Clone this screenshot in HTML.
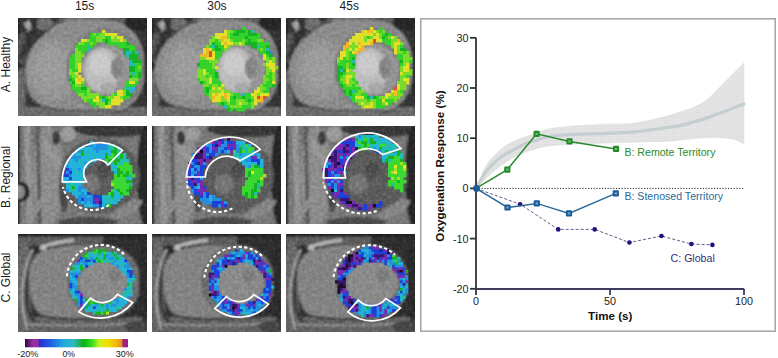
<!DOCTYPE html>
<html><head><meta charset="utf-8"><style>
html,body{margin:0;padding:0;background:#fff;width:778px;height:358px;overflow:hidden;position:relative;font-family:"Liberation Sans", sans-serif;}
</style></head><body>
<svg width="778" height="358" viewBox="0 0 778 358" style="position:absolute;left:0;top:0">
<defs>
<filter id="b3" x="-20%" y="-20%" width="140%" height="140%"><feGaussianBlur stdDeviation="3"/></filter>
<filter id="b15" x="-20%" y="-20%" width="140%" height="140%"><feGaussianBlur stdDeviation="1.5"/></filter>
<filter id="b05" x="-10%" y="-10%" width="120%" height="120%"><feGaussianBlur stdDeviation="0.5"/></filter><filter id="b06"><feGaussianBlur stdDeviation="0.6"/></filter><filter id="b08" x="-10%" y="-10%" width="120%" height="120%"><feGaussianBlur stdDeviation="0.8"/></filter>
<clipPath id="pc"><rect x="0" y="0" width="129" height="98"/></clipPath>
<linearGradient id="cb" x1="0" x2="1" y1="0" y2="0">
<stop offset="0.0000" stop-color="#200a30"/>
<stop offset="0.0300" stop-color="#5a1a70"/>
<stop offset="0.0800" stop-color="#9a30a0"/>
<stop offset="0.1300" stop-color="#9030a0"/>
<stop offset="0.1350" stop-color="#2a2ad0"/>
<stop offset="0.2500" stop-color="#2060e0"/>
<stop offset="0.3700" stop-color="#20a8e0"/>
<stop offset="0.4700" stop-color="#30b8c0"/>
<stop offset="0.5200" stop-color="#20b070"/>
<stop offset="0.5700" stop-color="#10b010"/>
<stop offset="0.6500" stop-color="#30e020"/>
<stop offset="0.7200" stop-color="#c8f020"/>
<stop offset="0.8000" stop-color="#f0e000"/>
<stop offset="0.9000" stop-color="#f0b000"/>
<stop offset="0.9400" stop-color="#e09020"/>
<stop offset="0.9500" stop-color="#a02080"/>
<stop offset="1.0000" stop-color="#a02080"/>
</linearGradient>
<pattern id="stip" width="2" height="2" patternUnits="userSpaceOnUse"><rect width="2" height="2" fill="#e5e5e5"/><rect x="0" y="0" width="1" height="1" fill="#dadada"/></pattern>
<filter id="grain" x="-5%" y="-5%" width="110%" height="110%"><feGaussianBlur in="SourceGraphic" stdDeviation="1.3" result="bl"/><feTurbulence type="fractalNoise" baseFrequency="0.3" numOctaves="2" seed="4" result="n"/><feColorMatrix in="n" type="matrix" values="1 0 0 0 0  1 0 0 0 0  1 0 0 0 0  0 0 0 0 1" result="g"/><feComponentTransfer in="g" result="g2"><feFuncR type="linear" slope="0.4" intercept="0.3"/><feFuncG type="linear" slope="0.4" intercept="0.3"/><feFuncB type="linear" slope="0.4" intercept="0.3"/></feComponentTransfer><feBlend in="g2" in2="bl" mode="soft-light"/></filter>
</defs>
<text x="84.6" y="10" font-family='"Liberation Sans", sans-serif' font-size="12" text-anchor="middle" fill="#1a1a1a">15s</text>
<text x="216.9" y="10" font-family='"Liberation Sans", sans-serif' font-size="12" text-anchor="middle" fill="#1a1a1a">30s</text>
<text x="349.3" y="10" font-family='"Liberation Sans", sans-serif' font-size="12" text-anchor="middle" fill="#1a1a1a">45s</text>
<text transform="translate(10,64.5) rotate(-90)" font-family='"Liberation Sans", sans-serif' font-size="12" text-anchor="middle" fill="#1a1a1a">A. Healthy</text>
<text transform="translate(10,176.9) rotate(-90)" font-family='"Liberation Sans", sans-serif' font-size="12" text-anchor="middle" fill="#1a1a1a">B. Regional</text>
<text transform="translate(10,277.5) rotate(-90)" font-family='"Liberation Sans", sans-serif' font-size="12" text-anchor="middle" fill="#1a1a1a">C. Global</text>
<g transform="translate(18,18)" clip-path="url(#pc)">
<g filter="url(#grain)"><rect x="-5" y="-5" width="140" height="110" fill="#363636"/><rect x="-5" y="-5" width="6" height="110" fill="#1e1e1e"/><ellipse cx="4" cy="30" rx="5" ry="16" fill="#555"/><ellipse cx="3" cy="72" rx="5" ry="22" fill="#686868"/><path d="M8,4 C10,7 12,10 14,14" fill="none" stroke="#a4a4a4" stroke-width="6"/><ellipse cx="26" cy="6" rx="10" ry="6" fill="#6e6e6e"/><path d="M18,3 C14,14 8,26 3,40" fill="none" stroke="#303030" stroke-width="5"/><ellipse cx="70" cy="3" rx="30" ry="5" fill="#6c6c6c"/><ellipse cx="100" cy="6" rx="16" ry="6" fill="#606060"/><rect x="-5" y="89" width="140" height="20" fill="#6a6a6a"/><path d="M7,52 C8,38 14,28 22,20 C30,12 36,5 46,3 C62,1 85,1 102,5 C118,11 127,28 127,50 C127,74 116,92 92,95 C72,97 40,94 24,88 C12,82 7,68 7,52 Z" fill="#8c8c8c"/><ellipse cx="36" cy="52" rx="26" ry="30" fill="#959595"/><ellipse cx="34" cy="50" rx="16" ry="20" fill="#9c9c9c"/><path d="M7,66 C10,80 18,87 30,90 C45,93 70,94 110,93" fill="none" stroke="#4e4e4e" stroke-width="2"/><path d="M22,20 C30,12 36,5 46,3" fill="none" stroke="#505050" stroke-width="2"/><ellipse cx="88" cy="51" rx="40" ry="41" fill="#7e7e7e"/><ellipse cx="88" cy="52" rx="25" ry="26" fill="#959595"/><ellipse cx="84" cy="52" rx="18" ry="22" fill="#bcbcbc"/><ellipse cx="82" cy="46" rx="11" ry="12" fill="#cacaca"/><ellipse cx="99" cy="50" rx="6" ry="11" fill="#858585"/><ellipse cx="90" cy="70" rx="8" ry="5" fill="#a8a8a8"/><ellipse cx="133" cy="50" rx="7" ry="50" fill="#2a2a2a"/><ellipse cx="124" cy="5" rx="18" ry="8" fill="#262626"/></g>
<g filter="url(#b05)"><rect x="84.0" y="12.0" width="3.4" height="3.4" fill="#e0e02a"/><rect x="72.0" y="15.0" width="3.4" height="3.4" fill="#30d22a"/><rect x="75.0" y="15.0" width="3.4" height="3.4" fill="#78dc2a"/><rect x="78.0" y="15.0" width="3.4" height="3.4" fill="#30d22a"/><rect x="81.0" y="15.0" width="3.4" height="3.4" fill="#78dc2a"/><rect x="84.0" y="15.0" width="3.4" height="3.4" fill="#78dc2a"/><rect x="87.0" y="15.0" width="3.4" height="3.4" fill="#e0e02a"/><rect x="90.0" y="15.0" width="3.4" height="3.4" fill="#e0e02a"/><rect x="93.0" y="15.0" width="3.4" height="3.4" fill="#e0e02a"/><rect x="96.0" y="15.0" width="3.4" height="3.4" fill="#e0e02a"/><rect x="72.0" y="18.0" width="3.4" height="3.4" fill="#30d22a"/><rect x="75.0" y="18.0" width="3.4" height="3.4" fill="#30d22a"/><rect x="78.0" y="18.0" width="3.4" height="3.4" fill="#78dc2a"/><rect x="81.0" y="18.0" width="3.4" height="3.4" fill="#78dc2a"/><rect x="84.0" y="18.0" width="3.4" height="3.4" fill="#78dc2a"/><rect x="87.0" y="18.0" width="3.4" height="3.4" fill="#30d22a"/><rect x="90.0" y="18.0" width="3.4" height="3.4" fill="#30d22a"/><rect x="93.0" y="18.0" width="3.4" height="3.4" fill="#e0e02a"/><rect x="96.0" y="18.0" width="3.4" height="3.4" fill="#78dc2a"/><rect x="99.0" y="18.0" width="3.4" height="3.4" fill="#e0e02a"/><rect x="102.0" y="18.0" width="3.4" height="3.4" fill="#e0e02a"/><rect x="63.0" y="21.0" width="3.4" height="3.4" fill="#e0e02a"/><rect x="66.0" y="21.0" width="3.4" height="3.4" fill="#e0e02a"/><rect x="69.0" y="21.0" width="3.4" height="3.4" fill="#78dc2a"/><rect x="72.0" y="21.0" width="3.4" height="3.4" fill="#30d22a"/><rect x="75.0" y="21.0" width="3.4" height="3.4" fill="#30d22a"/><rect x="78.0" y="21.0" width="3.4" height="3.4" fill="#78dc2a"/><rect x="81.0" y="21.0" width="3.4" height="3.4" fill="#78dc2a"/><rect x="84.0" y="21.0" width="3.4" height="3.4" fill="#30d22a"/><rect x="87.0" y="21.0" width="3.4" height="3.4" fill="#18b420"/><rect x="90.0" y="21.0" width="3.4" height="3.4" fill="#30d22a"/><rect x="93.0" y="21.0" width="3.4" height="3.4" fill="#78dc2a"/><rect x="96.0" y="21.0" width="3.4" height="3.4" fill="#78dc2a"/><rect x="99.0" y="21.0" width="3.4" height="3.4" fill="#78dc2a"/><rect x="102.0" y="21.0" width="3.4" height="3.4" fill="#e0e02a"/><rect x="105.0" y="21.0" width="3.4" height="3.4" fill="#78dc2a"/><rect x="60.0" y="24.0" width="3.4" height="3.4" fill="#78dc2a"/><rect x="63.0" y="24.0" width="3.4" height="3.4" fill="#78dc2a"/><rect x="66.0" y="24.0" width="3.4" height="3.4" fill="#30d22a"/><rect x="69.0" y="24.0" width="3.4" height="3.4" fill="#30d22a"/><rect x="72.0" y="24.0" width="3.4" height="3.4" fill="#78dc2a"/><rect x="75.0" y="24.0" width="3.4" height="3.4" fill="#30d22a"/><rect x="90.0" y="24.0" width="3.4" height="3.4" fill="#30d22a"/><rect x="93.0" y="24.0" width="3.4" height="3.4" fill="#30d22a"/><rect x="96.0" y="24.0" width="3.4" height="3.4" fill="#30d22a"/><rect x="99.0" y="24.0" width="3.4" height="3.4" fill="#30d22a"/><rect x="102.0" y="24.0" width="3.4" height="3.4" fill="#30d22a"/><rect x="105.0" y="24.0" width="3.4" height="3.4" fill="#30d22a"/><rect x="108.0" y="24.0" width="3.4" height="3.4" fill="#18b420"/><rect x="57.0" y="27.0" width="3.4" height="3.4" fill="#30d22a"/><rect x="60.0" y="27.0" width="3.4" height="3.4" fill="#30d22a"/><rect x="63.0" y="27.0" width="3.4" height="3.4" fill="#30d22a"/><rect x="66.0" y="27.0" width="3.4" height="3.4" fill="#30d22a"/><rect x="69.0" y="27.0" width="3.4" height="3.4" fill="#22bcb0"/><rect x="72.0" y="27.0" width="3.4" height="3.4" fill="#30d22a"/><rect x="99.0" y="27.0" width="3.4" height="3.4" fill="#30d22a"/><rect x="102.0" y="27.0" width="3.4" height="3.4" fill="#30d22a"/><rect x="105.0" y="27.0" width="3.4" height="3.4" fill="#30d22a"/><rect x="108.0" y="27.0" width="3.4" height="3.4" fill="#30d22a"/><rect x="111.0" y="27.0" width="3.4" height="3.4" fill="#30d22a"/><rect x="114.0" y="27.0" width="3.4" height="3.4" fill="#30d22a"/><rect x="57.0" y="30.0" width="3.4" height="3.4" fill="#78dc2a"/><rect x="60.0" y="30.0" width="3.4" height="3.4" fill="#30d22a"/><rect x="63.0" y="30.0" width="3.4" height="3.4" fill="#30d22a"/><rect x="66.0" y="30.0" width="3.4" height="3.4" fill="#30d22a"/><rect x="69.0" y="30.0" width="3.4" height="3.4" fill="#22bcb0"/><rect x="105.0" y="30.0" width="3.4" height="3.4" fill="#18b420"/><rect x="108.0" y="30.0" width="3.4" height="3.4" fill="#18b420"/><rect x="111.0" y="30.0" width="3.4" height="3.4" fill="#30d22a"/><rect x="114.0" y="30.0" width="3.4" height="3.4" fill="#30d22a"/><rect x="57.0" y="33.0" width="3.4" height="3.4" fill="#78dc2a"/><rect x="60.0" y="33.0" width="3.4" height="3.4" fill="#78dc2a"/><rect x="63.0" y="33.0" width="3.4" height="3.4" fill="#30d22a"/><rect x="105.0" y="33.0" width="3.4" height="3.4" fill="#18b420"/><rect x="108.0" y="33.0" width="3.4" height="3.4" fill="#22b4dc"/><rect x="111.0" y="33.0" width="3.4" height="3.4" fill="#22bcb0"/><rect x="114.0" y="33.0" width="3.4" height="3.4" fill="#18b420"/><rect x="117.0" y="33.0" width="3.4" height="3.4" fill="#22bcb0"/><rect x="54.0" y="36.0" width="3.4" height="3.4" fill="#30d22a"/><rect x="57.0" y="36.0" width="3.4" height="3.4" fill="#78dc2a"/><rect x="60.0" y="36.0" width="3.4" height="3.4" fill="#78dc2a"/><rect x="63.0" y="36.0" width="3.4" height="3.4" fill="#78dc2a"/><rect x="108.0" y="36.0" width="3.4" height="3.4" fill="#22bcb0"/><rect x="111.0" y="36.0" width="3.4" height="3.4" fill="#18b420"/><rect x="114.0" y="36.0" width="3.4" height="3.4" fill="#18b420"/><rect x="117.0" y="36.0" width="3.4" height="3.4" fill="#18b420"/><rect x="51.0" y="39.0" width="3.4" height="3.4" fill="#30d22a"/><rect x="54.0" y="39.0" width="3.4" height="3.4" fill="#30d22a"/><rect x="57.0" y="39.0" width="3.4" height="3.4" fill="#78dc2a"/><rect x="60.0" y="39.0" width="3.4" height="3.4" fill="#78dc2a"/><rect x="111.0" y="39.0" width="3.4" height="3.4" fill="#18b420"/><rect x="114.0" y="39.0" width="3.4" height="3.4" fill="#18b420"/><rect x="117.0" y="39.0" width="3.4" height="3.4" fill="#18b420"/><rect x="51.0" y="42.0" width="3.4" height="3.4" fill="#30d22a"/><rect x="54.0" y="42.0" width="3.4" height="3.4" fill="#30d22a"/><rect x="57.0" y="42.0" width="3.4" height="3.4" fill="#78dc2a"/><rect x="60.0" y="42.0" width="3.4" height="3.4" fill="#78dc2a"/><rect x="111.0" y="42.0" width="3.4" height="3.4" fill="#22b4dc"/><rect x="114.0" y="42.0" width="3.4" height="3.4" fill="#18b420"/><rect x="117.0" y="42.0" width="3.4" height="3.4" fill="#18b420"/><rect x="120.0" y="42.0" width="3.4" height="3.4" fill="#18b420"/><rect x="51.0" y="45.0" width="3.4" height="3.4" fill="#30d22a"/><rect x="54.0" y="45.0" width="3.4" height="3.4" fill="#30d22a"/><rect x="57.0" y="45.0" width="3.4" height="3.4" fill="#78dc2a"/><rect x="60.0" y="45.0" width="3.4" height="3.4" fill="#e0e02a"/><rect x="111.0" y="45.0" width="3.4" height="3.4" fill="#22b4dc"/><rect x="114.0" y="45.0" width="3.4" height="3.4" fill="#22bcb0"/><rect x="117.0" y="45.0" width="3.4" height="3.4" fill="#30d22a"/><rect x="120.0" y="45.0" width="3.4" height="3.4" fill="#30d22a"/><rect x="51.0" y="48.0" width="3.4" height="3.4" fill="#30d22a"/><rect x="54.0" y="48.0" width="3.4" height="3.4" fill="#30d22a"/><rect x="57.0" y="48.0" width="3.4" height="3.4" fill="#78dc2a"/><rect x="60.0" y="48.0" width="3.4" height="3.4" fill="#e0e02a"/><rect x="111.0" y="48.0" width="3.4" height="3.4" fill="#18b420"/><rect x="114.0" y="48.0" width="3.4" height="3.4" fill="#18b420"/><rect x="117.0" y="48.0" width="3.4" height="3.4" fill="#30d22a"/><rect x="120.0" y="48.0" width="3.4" height="3.4" fill="#78dc2a"/><rect x="51.0" y="51.0" width="3.4" height="3.4" fill="#78dc2a"/><rect x="54.0" y="51.0" width="3.4" height="3.4" fill="#30d22a"/><rect x="57.0" y="51.0" width="3.4" height="3.4" fill="#30d22a"/><rect x="60.0" y="51.0" width="3.4" height="3.4" fill="#e0e02a"/><rect x="111.0" y="51.0" width="3.4" height="3.4" fill="#18b420"/><rect x="114.0" y="51.0" width="3.4" height="3.4" fill="#18b420"/><rect x="117.0" y="51.0" width="3.4" height="3.4" fill="#30d22a"/><rect x="120.0" y="51.0" width="3.4" height="3.4" fill="#30d22a"/><rect x="51.0" y="54.0" width="3.4" height="3.4" fill="#78dc2a"/><rect x="54.0" y="54.0" width="3.4" height="3.4" fill="#78dc2a"/><rect x="57.0" y="54.0" width="3.4" height="3.4" fill="#e0e02a"/><rect x="111.0" y="54.0" width="3.4" height="3.4" fill="#30d22a"/><rect x="114.0" y="54.0" width="3.4" height="3.4" fill="#22bcb0"/><rect x="117.0" y="54.0" width="3.4" height="3.4" fill="#30d22a"/><rect x="120.0" y="54.0" width="3.4" height="3.4" fill="#18b420"/><rect x="51.0" y="57.0" width="3.4" height="3.4" fill="#30d22a"/><rect x="54.0" y="57.0" width="3.4" height="3.4" fill="#78dc2a"/><rect x="57.0" y="57.0" width="3.4" height="3.4" fill="#78dc2a"/><rect x="60.0" y="57.0" width="3.4" height="3.4" fill="#e0e02a"/><rect x="111.0" y="57.0" width="3.4" height="3.4" fill="#18b420"/><rect x="114.0" y="57.0" width="3.4" height="3.4" fill="#30d22a"/><rect x="117.0" y="57.0" width="3.4" height="3.4" fill="#30d22a"/><rect x="120.0" y="57.0" width="3.4" height="3.4" fill="#18b420"/><rect x="51.0" y="60.0" width="3.4" height="3.4" fill="#18b420"/><rect x="54.0" y="60.0" width="3.4" height="3.4" fill="#30d22a"/><rect x="57.0" y="60.0" width="3.4" height="3.4" fill="#e0e02a"/><rect x="60.0" y="60.0" width="3.4" height="3.4" fill="#f0b828"/><rect x="63.0" y="60.0" width="3.4" height="3.4" fill="#e0e02a"/><rect x="111.0" y="60.0" width="3.4" height="3.4" fill="#78dc2a"/><rect x="114.0" y="60.0" width="3.4" height="3.4" fill="#78dc2a"/><rect x="117.0" y="60.0" width="3.4" height="3.4" fill="#78dc2a"/><rect x="51.0" y="63.0" width="3.4" height="3.4" fill="#30d22a"/><rect x="54.0" y="63.0" width="3.4" height="3.4" fill="#18b420"/><rect x="57.0" y="63.0" width="3.4" height="3.4" fill="#e0e02a"/><rect x="60.0" y="63.0" width="3.4" height="3.4" fill="#e0e02a"/><rect x="63.0" y="63.0" width="3.4" height="3.4" fill="#78dc2a"/><rect x="108.0" y="63.0" width="3.4" height="3.4" fill="#30d22a"/><rect x="111.0" y="63.0" width="3.4" height="3.4" fill="#e0e02a"/><rect x="114.0" y="63.0" width="3.4" height="3.4" fill="#e0e02a"/><rect x="117.0" y="63.0" width="3.4" height="3.4" fill="#30d22a"/><rect x="54.0" y="66.0" width="3.4" height="3.4" fill="#30d22a"/><rect x="57.0" y="66.0" width="3.4" height="3.4" fill="#78dc2a"/><rect x="60.0" y="66.0" width="3.4" height="3.4" fill="#78dc2a"/><rect x="63.0" y="66.0" width="3.4" height="3.4" fill="#30d22a"/><rect x="108.0" y="66.0" width="3.4" height="3.4" fill="#30d22a"/><rect x="111.0" y="66.0" width="3.4" height="3.4" fill="#30d22a"/><rect x="114.0" y="66.0" width="3.4" height="3.4" fill="#30d22a"/><rect x="54.0" y="69.0" width="3.4" height="3.4" fill="#30d22a"/><rect x="57.0" y="69.0" width="3.4" height="3.4" fill="#30d22a"/><rect x="60.0" y="69.0" width="3.4" height="3.4" fill="#30d22a"/><rect x="63.0" y="69.0" width="3.4" height="3.4" fill="#18b420"/><rect x="66.0" y="69.0" width="3.4" height="3.4" fill="#18b420"/><rect x="69.0" y="69.0" width="3.4" height="3.4" fill="#78dc2a"/><rect x="105.0" y="69.0" width="3.4" height="3.4" fill="#30d22a"/><rect x="108.0" y="69.0" width="3.4" height="3.4" fill="#22bcb0"/><rect x="111.0" y="69.0" width="3.4" height="3.4" fill="#22bcb0"/><rect x="114.0" y="69.0" width="3.4" height="3.4" fill="#22b4dc"/><rect x="57.0" y="72.0" width="3.4" height="3.4" fill="#30d22a"/><rect x="60.0" y="72.0" width="3.4" height="3.4" fill="#30d22a"/><rect x="63.0" y="72.0" width="3.4" height="3.4" fill="#30d22a"/><rect x="66.0" y="72.0" width="3.4" height="3.4" fill="#30d22a"/><rect x="69.0" y="72.0" width="3.4" height="3.4" fill="#78dc2a"/><rect x="99.0" y="72.0" width="3.4" height="3.4" fill="#e0e02a"/><rect x="102.0" y="72.0" width="3.4" height="3.4" fill="#e0e02a"/><rect x="105.0" y="72.0" width="3.4" height="3.4" fill="#78dc2a"/><rect x="108.0" y="72.0" width="3.4" height="3.4" fill="#18b420"/><rect x="111.0" y="72.0" width="3.4" height="3.4" fill="#22b4dc"/><rect x="60.0" y="75.0" width="3.4" height="3.4" fill="#78dc2a"/><rect x="63.0" y="75.0" width="3.4" height="3.4" fill="#78dc2a"/><rect x="66.0" y="75.0" width="3.4" height="3.4" fill="#30d22a"/><rect x="69.0" y="75.0" width="3.4" height="3.4" fill="#78dc2a"/><rect x="72.0" y="75.0" width="3.4" height="3.4" fill="#78dc2a"/><rect x="75.0" y="75.0" width="3.4" height="3.4" fill="#78dc2a"/><rect x="78.0" y="75.0" width="3.4" height="3.4" fill="#78dc2a"/><rect x="93.0" y="75.0" width="3.4" height="3.4" fill="#78dc2a"/><rect x="96.0" y="75.0" width="3.4" height="3.4" fill="#30d22a"/><rect x="99.0" y="75.0" width="3.4" height="3.4" fill="#e0e02a"/><rect x="102.0" y="75.0" width="3.4" height="3.4" fill="#e0e02a"/><rect x="105.0" y="75.0" width="3.4" height="3.4" fill="#78dc2a"/><rect x="108.0" y="75.0" width="3.4" height="3.4" fill="#18b420"/><rect x="111.0" y="75.0" width="3.4" height="3.4" fill="#18b420"/><rect x="63.0" y="78.0" width="3.4" height="3.4" fill="#78dc2a"/><rect x="66.0" y="78.0" width="3.4" height="3.4" fill="#78dc2a"/><rect x="69.0" y="78.0" width="3.4" height="3.4" fill="#78dc2a"/><rect x="72.0" y="78.0" width="3.4" height="3.4" fill="#78dc2a"/><rect x="75.0" y="78.0" width="3.4" height="3.4" fill="#78dc2a"/><rect x="78.0" y="78.0" width="3.4" height="3.4" fill="#e0e02a"/><rect x="81.0" y="78.0" width="3.4" height="3.4" fill="#30d22a"/><rect x="84.0" y="78.0" width="3.4" height="3.4" fill="#18b420"/><rect x="87.0" y="78.0" width="3.4" height="3.4" fill="#30d22a"/><rect x="90.0" y="78.0" width="3.4" height="3.4" fill="#78dc2a"/><rect x="93.0" y="78.0" width="3.4" height="3.4" fill="#78dc2a"/><rect x="96.0" y="78.0" width="3.4" height="3.4" fill="#e0e02a"/><rect x="99.0" y="78.0" width="3.4" height="3.4" fill="#e0e02a"/><rect x="102.0" y="78.0" width="3.4" height="3.4" fill="#78dc2a"/><rect x="105.0" y="78.0" width="3.4" height="3.4" fill="#30d22a"/><rect x="108.0" y="78.0" width="3.4" height="3.4" fill="#30d22a"/><rect x="66.0" y="81.0" width="3.4" height="3.4" fill="#78dc2a"/><rect x="69.0" y="81.0" width="3.4" height="3.4" fill="#30d22a"/><rect x="72.0" y="81.0" width="3.4" height="3.4" fill="#30d22a"/><rect x="75.0" y="81.0" width="3.4" height="3.4" fill="#e0e02a"/><rect x="78.0" y="81.0" width="3.4" height="3.4" fill="#e0e02a"/><rect x="81.0" y="81.0" width="3.4" height="3.4" fill="#78dc2a"/><rect x="84.0" y="81.0" width="3.4" height="3.4" fill="#22bcb0"/><rect x="87.0" y="81.0" width="3.4" height="3.4" fill="#18b420"/><rect x="90.0" y="81.0" width="3.4" height="3.4" fill="#30d22a"/><rect x="93.0" y="81.0" width="3.4" height="3.4" fill="#e0e02a"/><rect x="96.0" y="81.0" width="3.4" height="3.4" fill="#e0e02a"/><rect x="99.0" y="81.0" width="3.4" height="3.4" fill="#e0e02a"/><rect x="102.0" y="81.0" width="3.4" height="3.4" fill="#e0e02a"/><rect x="72.0" y="84.0" width="3.4" height="3.4" fill="#30d22a"/><rect x="75.0" y="84.0" width="3.4" height="3.4" fill="#30d22a"/><rect x="78.0" y="84.0" width="3.4" height="3.4" fill="#78dc2a"/><rect x="81.0" y="84.0" width="3.4" height="3.4" fill="#78dc2a"/><rect x="84.0" y="84.0" width="3.4" height="3.4" fill="#78dc2a"/><rect x="87.0" y="84.0" width="3.4" height="3.4" fill="#18b420"/><rect x="90.0" y="84.0" width="3.4" height="3.4" fill="#78dc2a"/><rect x="93.0" y="84.0" width="3.4" height="3.4" fill="#e0e02a"/><rect x="96.0" y="84.0" width="3.4" height="3.4" fill="#e0e02a"/><rect x="99.0" y="84.0" width="3.4" height="3.4" fill="#e0e02a"/><rect x="75.0" y="87.0" width="3.4" height="3.4" fill="#30d22a"/><rect x="81.0" y="87.0" width="3.4" height="3.4" fill="#78dc2a"/><rect x="84.0" y="87.0" width="3.4" height="3.4" fill="#78dc2a"/><rect x="87.0" y="87.0" width="3.4" height="3.4" fill="#e0e02a"/><rect x="90.0" y="87.0" width="3.4" height="3.4" fill="#e0e02a"/></g>
</g>
<g transform="translate(152,18)" clip-path="url(#pc)">
<g filter="url(#grain)"><rect x="-5" y="-5" width="140" height="110" fill="#363636"/><rect x="-5" y="-5" width="6" height="110" fill="#1e1e1e"/><ellipse cx="4" cy="30" rx="5" ry="16" fill="#555"/><ellipse cx="3" cy="72" rx="5" ry="22" fill="#686868"/><path d="M8,4 C10,7 12,10 14,14" fill="none" stroke="#a4a4a4" stroke-width="6"/><ellipse cx="26" cy="6" rx="10" ry="6" fill="#6e6e6e"/><path d="M18,3 C14,14 8,26 3,40" fill="none" stroke="#303030" stroke-width="5"/><ellipse cx="70" cy="3" rx="30" ry="5" fill="#6c6c6c"/><ellipse cx="100" cy="6" rx="16" ry="6" fill="#606060"/><rect x="-5" y="89" width="140" height="20" fill="#6a6a6a"/><path d="M3,52 C4,38 10,28 18,20 C26,12 36,5 46,3 C62,1 85,1 102,5 C118,11 127,28 127,50 C127,74 116,92 92,95 C72,97 40,94 20,88 C8,82 3,68 3,52 Z" fill="#8c8c8c"/><ellipse cx="36" cy="52" rx="26" ry="30" fill="#959595"/><ellipse cx="34" cy="50" rx="16" ry="20" fill="#9c9c9c"/><path d="M3,66 C6,80 14,87 30,90 C45,93 70,94 110,93" fill="none" stroke="#4e4e4e" stroke-width="2"/><path d="M18,20 C26,12 36,5 46,3" fill="none" stroke="#505050" stroke-width="2"/><ellipse cx="88" cy="51" rx="40" ry="41" fill="#7e7e7e"/><ellipse cx="88" cy="52" rx="25" ry="26" fill="#959595"/><ellipse cx="84" cy="52" rx="18" ry="22" fill="#bcbcbc"/><ellipse cx="82" cy="46" rx="11" ry="12" fill="#cacaca"/><ellipse cx="99" cy="50" rx="6" ry="11" fill="#858585"/><ellipse cx="90" cy="70" rx="8" ry="5" fill="#a8a8a8"/><ellipse cx="133" cy="50" rx="7" ry="50" fill="#2a2a2a"/><ellipse cx="124" cy="5" rx="18" ry="8" fill="#262626"/></g>
<g filter="url(#b05)"><rect x="90.0" y="9.0" width="3.4" height="3.4" fill="#30d22a"/><rect x="72.0" y="12.0" width="3.4" height="3.4" fill="#e0e02a"/><rect x="75.0" y="12.0" width="3.4" height="3.4" fill="#78dc2a"/><rect x="78.0" y="12.0" width="3.4" height="3.4" fill="#78dc2a"/><rect x="81.0" y="12.0" width="3.4" height="3.4" fill="#30d22a"/><rect x="84.0" y="12.0" width="3.4" height="3.4" fill="#18b420"/><rect x="87.0" y="12.0" width="3.4" height="3.4" fill="#18b420"/><rect x="90.0" y="12.0" width="3.4" height="3.4" fill="#18b420"/><rect x="93.0" y="12.0" width="3.4" height="3.4" fill="#30d22a"/><rect x="96.0" y="12.0" width="3.4" height="3.4" fill="#18b420"/><rect x="99.0" y="12.0" width="3.4" height="3.4" fill="#22bcb0"/><rect x="63.0" y="15.0" width="3.4" height="3.4" fill="#e0e02a"/><rect x="66.0" y="15.0" width="3.4" height="3.4" fill="#e0e02a"/><rect x="69.0" y="15.0" width="3.4" height="3.4" fill="#e0e02a"/><rect x="72.0" y="15.0" width="3.4" height="3.4" fill="#e0e02a"/><rect x="75.0" y="15.0" width="3.4" height="3.4" fill="#78dc2a"/><rect x="78.0" y="15.0" width="3.4" height="3.4" fill="#30d22a"/><rect x="81.0" y="15.0" width="3.4" height="3.4" fill="#18b420"/><rect x="84.0" y="15.0" width="3.4" height="3.4" fill="#18b420"/><rect x="87.0" y="15.0" width="3.4" height="3.4" fill="#30d22a"/><rect x="90.0" y="15.0" width="3.4" height="3.4" fill="#30d22a"/><rect x="93.0" y="15.0" width="3.4" height="3.4" fill="#30d22a"/><rect x="96.0" y="15.0" width="3.4" height="3.4" fill="#18b420"/><rect x="99.0" y="15.0" width="3.4" height="3.4" fill="#18b420"/><rect x="102.0" y="15.0" width="3.4" height="3.4" fill="#18b420"/><rect x="105.0" y="15.0" width="3.4" height="3.4" fill="#30d22a"/><rect x="60.0" y="18.0" width="3.4" height="3.4" fill="#78dc2a"/><rect x="63.0" y="18.0" width="3.4" height="3.4" fill="#e0e02a"/><rect x="66.0" y="18.0" width="3.4" height="3.4" fill="#e0e02a"/><rect x="69.0" y="18.0" width="3.4" height="3.4" fill="#f0b828"/><rect x="72.0" y="18.0" width="3.4" height="3.4" fill="#f0b828"/><rect x="75.0" y="18.0" width="3.4" height="3.4" fill="#78dc2a"/><rect x="78.0" y="18.0" width="3.4" height="3.4" fill="#30d22a"/><rect x="81.0" y="18.0" width="3.4" height="3.4" fill="#30d22a"/><rect x="84.0" y="18.0" width="3.4" height="3.4" fill="#30d22a"/><rect x="87.0" y="18.0" width="3.4" height="3.4" fill="#30d22a"/><rect x="90.0" y="18.0" width="3.4" height="3.4" fill="#30d22a"/><rect x="93.0" y="18.0" width="3.4" height="3.4" fill="#18b420"/><rect x="96.0" y="18.0" width="3.4" height="3.4" fill="#30d22a"/><rect x="99.0" y="18.0" width="3.4" height="3.4" fill="#30d22a"/><rect x="102.0" y="18.0" width="3.4" height="3.4" fill="#30d22a"/><rect x="105.0" y="18.0" width="3.4" height="3.4" fill="#30d22a"/><rect x="57.0" y="21.0" width="3.4" height="3.4" fill="#78dc2a"/><rect x="60.0" y="21.0" width="3.4" height="3.4" fill="#78dc2a"/><rect x="63.0" y="21.0" width="3.4" height="3.4" fill="#30d22a"/><rect x="66.0" y="21.0" width="3.4" height="3.4" fill="#78dc2a"/><rect x="69.0" y="21.0" width="3.4" height="3.4" fill="#f0b828"/><rect x="72.0" y="21.0" width="3.4" height="3.4" fill="#e0e02a"/><rect x="75.0" y="21.0" width="3.4" height="3.4" fill="#e0e02a"/><rect x="78.0" y="21.0" width="3.4" height="3.4" fill="#78dc2a"/><rect x="81.0" y="21.0" width="3.4" height="3.4" fill="#30d22a"/><rect x="84.0" y="21.0" width="3.4" height="3.4" fill="#30d22a"/><rect x="87.0" y="21.0" width="3.4" height="3.4" fill="#30d22a"/><rect x="90.0" y="21.0" width="3.4" height="3.4" fill="#78dc2a"/><rect x="93.0" y="21.0" width="3.4" height="3.4" fill="#30d22a"/><rect x="96.0" y="21.0" width="3.4" height="3.4" fill="#18b420"/><rect x="99.0" y="21.0" width="3.4" height="3.4" fill="#30d22a"/><rect x="102.0" y="21.0" width="3.4" height="3.4" fill="#30d22a"/><rect x="105.0" y="21.0" width="3.4" height="3.4" fill="#78dc2a"/><rect x="108.0" y="21.0" width="3.4" height="3.4" fill="#78dc2a"/><rect x="57.0" y="24.0" width="3.4" height="3.4" fill="#78dc2a"/><rect x="60.0" y="24.0" width="3.4" height="3.4" fill="#18b420"/><rect x="63.0" y="24.0" width="3.4" height="3.4" fill="#30d22a"/><rect x="66.0" y="24.0" width="3.4" height="3.4" fill="#30d22a"/><rect x="69.0" y="24.0" width="3.4" height="3.4" fill="#e0e02a"/><rect x="72.0" y="24.0" width="3.4" height="3.4" fill="#f0b828"/><rect x="75.0" y="24.0" width="3.4" height="3.4" fill="#e0e02a"/><rect x="78.0" y="24.0" width="3.4" height="3.4" fill="#e0e02a"/><rect x="81.0" y="24.0" width="3.4" height="3.4" fill="#78dc2a"/><rect x="84.0" y="24.0" width="3.4" height="3.4" fill="#78dc2a"/><rect x="87.0" y="24.0" width="3.4" height="3.4" fill="#e0e02a"/><rect x="90.0" y="24.0" width="3.4" height="3.4" fill="#78dc2a"/><rect x="93.0" y="24.0" width="3.4" height="3.4" fill="#18b420"/><rect x="96.0" y="24.0" width="3.4" height="3.4" fill="#18b420"/><rect x="99.0" y="24.0" width="3.4" height="3.4" fill="#18b420"/><rect x="102.0" y="24.0" width="3.4" height="3.4" fill="#18b420"/><rect x="105.0" y="24.0" width="3.4" height="3.4" fill="#30d22a"/><rect x="108.0" y="24.0" width="3.4" height="3.4" fill="#30d22a"/><rect x="111.0" y="24.0" width="3.4" height="3.4" fill="#30d22a"/><rect x="114.0" y="24.0" width="3.4" height="3.4" fill="#30d22a"/><rect x="54.0" y="27.0" width="3.4" height="3.4" fill="#78dc2a"/><rect x="57.0" y="27.0" width="3.4" height="3.4" fill="#30d22a"/><rect x="60.0" y="27.0" width="3.4" height="3.4" fill="#22bcb0"/><rect x="63.0" y="27.0" width="3.4" height="3.4" fill="#18b420"/><rect x="66.0" y="27.0" width="3.4" height="3.4" fill="#30d22a"/><rect x="69.0" y="27.0" width="3.4" height="3.4" fill="#30d22a"/><rect x="72.0" y="27.0" width="3.4" height="3.4" fill="#e0e02a"/><rect x="75.0" y="27.0" width="3.4" height="3.4" fill="#78dc2a"/><rect x="99.0" y="27.0" width="3.4" height="3.4" fill="#18b420"/><rect x="102.0" y="27.0" width="3.4" height="3.4" fill="#18b420"/><rect x="105.0" y="27.0" width="3.4" height="3.4" fill="#22bcb0"/><rect x="108.0" y="27.0" width="3.4" height="3.4" fill="#30d22a"/><rect x="111.0" y="27.0" width="3.4" height="3.4" fill="#30d22a"/><rect x="114.0" y="27.0" width="3.4" height="3.4" fill="#18b420"/><rect x="51.0" y="30.0" width="3.4" height="3.4" fill="#e0e02a"/><rect x="54.0" y="30.0" width="3.4" height="3.4" fill="#f0b828"/><rect x="57.0" y="30.0" width="3.4" height="3.4" fill="#e0e02a"/><rect x="60.0" y="30.0" width="3.4" height="3.4" fill="#30d22a"/><rect x="63.0" y="30.0" width="3.4" height="3.4" fill="#18b420"/><rect x="66.0" y="30.0" width="3.4" height="3.4" fill="#18b420"/><rect x="69.0" y="30.0" width="3.4" height="3.4" fill="#30d22a"/><rect x="72.0" y="30.0" width="3.4" height="3.4" fill="#78dc2a"/><rect x="105.0" y="30.0" width="3.4" height="3.4" fill="#30d22a"/><rect x="108.0" y="30.0" width="3.4" height="3.4" fill="#78dc2a"/><rect x="111.0" y="30.0" width="3.4" height="3.4" fill="#30d22a"/><rect x="114.0" y="30.0" width="3.4" height="3.4" fill="#22bcb0"/><rect x="51.0" y="33.0" width="3.4" height="3.4" fill="#e0e02a"/><rect x="54.0" y="33.0" width="3.4" height="3.4" fill="#f0b828"/><rect x="57.0" y="33.0" width="3.4" height="3.4" fill="#e05030"/><rect x="60.0" y="33.0" width="3.4" height="3.4" fill="#e0e02a"/><rect x="63.0" y="33.0" width="3.4" height="3.4" fill="#30d22a"/><rect x="66.0" y="33.0" width="3.4" height="3.4" fill="#30d22a"/><rect x="108.0" y="33.0" width="3.4" height="3.4" fill="#30d22a"/><rect x="111.0" y="33.0" width="3.4" height="3.4" fill="#30d22a"/><rect x="114.0" y="33.0" width="3.4" height="3.4" fill="#18b420"/><rect x="117.0" y="33.0" width="3.4" height="3.4" fill="#2290e0"/><rect x="48.0" y="36.0" width="3.4" height="3.4" fill="#f0b828"/><rect x="51.0" y="36.0" width="3.4" height="3.4" fill="#f0b828"/><rect x="54.0" y="36.0" width="3.4" height="3.4" fill="#f0b828"/><rect x="57.0" y="36.0" width="3.4" height="3.4" fill="#e05030"/><rect x="60.0" y="36.0" width="3.4" height="3.4" fill="#e0e02a"/><rect x="63.0" y="36.0" width="3.4" height="3.4" fill="#30d22a"/><rect x="66.0" y="36.0" width="3.4" height="3.4" fill="#30d22a"/><rect x="111.0" y="36.0" width="3.4" height="3.4" fill="#e0e02a"/><rect x="114.0" y="36.0" width="3.4" height="3.4" fill="#30d22a"/><rect x="117.0" y="36.0" width="3.4" height="3.4" fill="#18b420"/><rect x="48.0" y="39.0" width="3.4" height="3.4" fill="#78dc2a"/><rect x="51.0" y="39.0" width="3.4" height="3.4" fill="#78dc2a"/><rect x="54.0" y="39.0" width="3.4" height="3.4" fill="#e0e02a"/><rect x="57.0" y="39.0" width="3.4" height="3.4" fill="#e0e02a"/><rect x="60.0" y="39.0" width="3.4" height="3.4" fill="#e0e02a"/><rect x="63.0" y="39.0" width="3.4" height="3.4" fill="#30d22a"/><rect x="111.0" y="39.0" width="3.4" height="3.4" fill="#e0e02a"/><rect x="114.0" y="39.0" width="3.4" height="3.4" fill="#78dc2a"/><rect x="117.0" y="39.0" width="3.4" height="3.4" fill="#30d22a"/><rect x="120.0" y="39.0" width="3.4" height="3.4" fill="#78dc2a"/><rect x="48.0" y="42.0" width="3.4" height="3.4" fill="#30d22a"/><rect x="51.0" y="42.0" width="3.4" height="3.4" fill="#30d22a"/><rect x="54.0" y="42.0" width="3.4" height="3.4" fill="#30d22a"/><rect x="57.0" y="42.0" width="3.4" height="3.4" fill="#78dc2a"/><rect x="60.0" y="42.0" width="3.4" height="3.4" fill="#78dc2a"/><rect x="63.0" y="42.0" width="3.4" height="3.4" fill="#78dc2a"/><rect x="114.0" y="42.0" width="3.4" height="3.4" fill="#78dc2a"/><rect x="117.0" y="42.0" width="3.4" height="3.4" fill="#e0e02a"/><rect x="120.0" y="42.0" width="3.4" height="3.4" fill="#78dc2a"/><rect x="45.0" y="45.0" width="3.4" height="3.4" fill="#18b420"/><rect x="48.0" y="45.0" width="3.4" height="3.4" fill="#30d22a"/><rect x="51.0" y="45.0" width="3.4" height="3.4" fill="#30d22a"/><rect x="54.0" y="45.0" width="3.4" height="3.4" fill="#30d22a"/><rect x="57.0" y="45.0" width="3.4" height="3.4" fill="#30d22a"/><rect x="60.0" y="45.0" width="3.4" height="3.4" fill="#78dc2a"/><rect x="111.0" y="45.0" width="3.4" height="3.4" fill="#78dc2a"/><rect x="114.0" y="45.0" width="3.4" height="3.4" fill="#e0e02a"/><rect x="117.0" y="45.0" width="3.4" height="3.4" fill="#e0e02a"/><rect x="120.0" y="45.0" width="3.4" height="3.4" fill="#e0e02a"/><rect x="48.0" y="48.0" width="3.4" height="3.4" fill="#30d22a"/><rect x="51.0" y="48.0" width="3.4" height="3.4" fill="#30d22a"/><rect x="54.0" y="48.0" width="3.4" height="3.4" fill="#30d22a"/><rect x="57.0" y="48.0" width="3.4" height="3.4" fill="#30d22a"/><rect x="60.0" y="48.0" width="3.4" height="3.4" fill="#78dc2a"/><rect x="63.0" y="48.0" width="3.4" height="3.4" fill="#e0e02a"/><rect x="114.0" y="48.0" width="3.4" height="3.4" fill="#78dc2a"/><rect x="117.0" y="48.0" width="3.4" height="3.4" fill="#e0e02a"/><rect x="120.0" y="48.0" width="3.4" height="3.4" fill="#e0e02a"/><rect x="123.0" y="48.0" width="3.4" height="3.4" fill="#78dc2a"/><rect x="45.0" y="51.0" width="3.4" height="3.4" fill="#78dc2a"/><rect x="48.0" y="51.0" width="3.4" height="3.4" fill="#78dc2a"/><rect x="51.0" y="51.0" width="3.4" height="3.4" fill="#e0e02a"/><rect x="54.0" y="51.0" width="3.4" height="3.4" fill="#30d22a"/><rect x="57.0" y="51.0" width="3.4" height="3.4" fill="#30d22a"/><rect x="60.0" y="51.0" width="3.4" height="3.4" fill="#30d22a"/><rect x="114.0" y="51.0" width="3.4" height="3.4" fill="#78dc2a"/><rect x="117.0" y="51.0" width="3.4" height="3.4" fill="#78dc2a"/><rect x="120.0" y="51.0" width="3.4" height="3.4" fill="#e0e02a"/><rect x="45.0" y="54.0" width="3.4" height="3.4" fill="#78dc2a"/><rect x="48.0" y="54.0" width="3.4" height="3.4" fill="#78dc2a"/><rect x="51.0" y="54.0" width="3.4" height="3.4" fill="#e0e02a"/><rect x="54.0" y="54.0" width="3.4" height="3.4" fill="#78dc2a"/><rect x="57.0" y="54.0" width="3.4" height="3.4" fill="#30d22a"/><rect x="60.0" y="54.0" width="3.4" height="3.4" fill="#30d22a"/><rect x="63.0" y="54.0" width="3.4" height="3.4" fill="#18b420"/><rect x="114.0" y="54.0" width="3.4" height="3.4" fill="#78dc2a"/><rect x="117.0" y="54.0" width="3.4" height="3.4" fill="#30d22a"/><rect x="120.0" y="54.0" width="3.4" height="3.4" fill="#78dc2a"/><rect x="45.0" y="57.0" width="3.4" height="3.4" fill="#78dc2a"/><rect x="48.0" y="57.0" width="3.4" height="3.4" fill="#78dc2a"/><rect x="51.0" y="57.0" width="3.4" height="3.4" fill="#78dc2a"/><rect x="54.0" y="57.0" width="3.4" height="3.4" fill="#30d22a"/><rect x="57.0" y="57.0" width="3.4" height="3.4" fill="#78dc2a"/><rect x="60.0" y="57.0" width="3.4" height="3.4" fill="#30d22a"/><rect x="63.0" y="57.0" width="3.4" height="3.4" fill="#18b420"/><rect x="111.0" y="57.0" width="3.4" height="3.4" fill="#78dc2a"/><rect x="114.0" y="57.0" width="3.4" height="3.4" fill="#30d22a"/><rect x="117.0" y="57.0" width="3.4" height="3.4" fill="#30d22a"/><rect x="120.0" y="57.0" width="3.4" height="3.4" fill="#78dc2a"/><rect x="45.0" y="60.0" width="3.4" height="3.4" fill="#30d22a"/><rect x="48.0" y="60.0" width="3.4" height="3.4" fill="#78dc2a"/><rect x="51.0" y="60.0" width="3.4" height="3.4" fill="#78dc2a"/><rect x="54.0" y="60.0" width="3.4" height="3.4" fill="#78dc2a"/><rect x="57.0" y="60.0" width="3.4" height="3.4" fill="#e0e02a"/><rect x="60.0" y="60.0" width="3.4" height="3.4" fill="#30d22a"/><rect x="63.0" y="60.0" width="3.4" height="3.4" fill="#30d22a"/><rect x="111.0" y="60.0" width="3.4" height="3.4" fill="#78dc2a"/><rect x="114.0" y="60.0" width="3.4" height="3.4" fill="#78dc2a"/><rect x="117.0" y="60.0" width="3.4" height="3.4" fill="#30d22a"/><rect x="120.0" y="60.0" width="3.4" height="3.4" fill="#78dc2a"/><rect x="48.0" y="63.0" width="3.4" height="3.4" fill="#18b420"/><rect x="51.0" y="63.0" width="3.4" height="3.4" fill="#30d22a"/><rect x="54.0" y="63.0" width="3.4" height="3.4" fill="#78dc2a"/><rect x="57.0" y="63.0" width="3.4" height="3.4" fill="#e0e02a"/><rect x="60.0" y="63.0" width="3.4" height="3.4" fill="#30d22a"/><rect x="63.0" y="63.0" width="3.4" height="3.4" fill="#30d22a"/><rect x="66.0" y="63.0" width="3.4" height="3.4" fill="#30d22a"/><rect x="111.0" y="63.0" width="3.4" height="3.4" fill="#78dc2a"/><rect x="114.0" y="63.0" width="3.4" height="3.4" fill="#30d22a"/><rect x="117.0" y="63.0" width="3.4" height="3.4" fill="#30d22a"/><rect x="120.0" y="63.0" width="3.4" height="3.4" fill="#e0e02a"/><rect x="51.0" y="66.0" width="3.4" height="3.4" fill="#78dc2a"/><rect x="54.0" y="66.0" width="3.4" height="3.4" fill="#78dc2a"/><rect x="57.0" y="66.0" width="3.4" height="3.4" fill="#30d22a"/><rect x="60.0" y="66.0" width="3.4" height="3.4" fill="#78dc2a"/><rect x="63.0" y="66.0" width="3.4" height="3.4" fill="#78dc2a"/><rect x="66.0" y="66.0" width="3.4" height="3.4" fill="#30d22a"/><rect x="69.0" y="66.0" width="3.4" height="3.4" fill="#e0e02a"/><rect x="108.0" y="66.0" width="3.4" height="3.4" fill="#78dc2a"/><rect x="111.0" y="66.0" width="3.4" height="3.4" fill="#30d22a"/><rect x="114.0" y="66.0" width="3.4" height="3.4" fill="#30d22a"/><rect x="117.0" y="66.0" width="3.4" height="3.4" fill="#30d22a"/><rect x="120.0" y="66.0" width="3.4" height="3.4" fill="#18b420"/><rect x="51.0" y="69.0" width="3.4" height="3.4" fill="#30d22a"/><rect x="54.0" y="69.0" width="3.4" height="3.4" fill="#18b420"/><rect x="57.0" y="69.0" width="3.4" height="3.4" fill="#30d22a"/><rect x="60.0" y="69.0" width="3.4" height="3.4" fill="#e0e02a"/><rect x="63.0" y="69.0" width="3.4" height="3.4" fill="#78dc2a"/><rect x="66.0" y="69.0" width="3.4" height="3.4" fill="#e0e02a"/><rect x="69.0" y="69.0" width="3.4" height="3.4" fill="#78dc2a"/><rect x="105.0" y="69.0" width="3.4" height="3.4" fill="#e0e02a"/><rect x="108.0" y="69.0" width="3.4" height="3.4" fill="#78dc2a"/><rect x="111.0" y="69.0" width="3.4" height="3.4" fill="#78dc2a"/><rect x="114.0" y="69.0" width="3.4" height="3.4" fill="#30d22a"/><rect x="51.0" y="72.0" width="3.4" height="3.4" fill="#30d22a"/><rect x="54.0" y="72.0" width="3.4" height="3.4" fill="#18b420"/><rect x="57.0" y="72.0" width="3.4" height="3.4" fill="#78dc2a"/><rect x="60.0" y="72.0" width="3.4" height="3.4" fill="#78dc2a"/><rect x="63.0" y="72.0" width="3.4" height="3.4" fill="#78dc2a"/><rect x="66.0" y="72.0" width="3.4" height="3.4" fill="#78dc2a"/><rect x="69.0" y="72.0" width="3.4" height="3.4" fill="#e0e02a"/><rect x="72.0" y="72.0" width="3.4" height="3.4" fill="#78dc2a"/><rect x="75.0" y="72.0" width="3.4" height="3.4" fill="#78dc2a"/><rect x="102.0" y="72.0" width="3.4" height="3.4" fill="#e0e02a"/><rect x="105.0" y="72.0" width="3.4" height="3.4" fill="#e0e02a"/><rect x="108.0" y="72.0" width="3.4" height="3.4" fill="#78dc2a"/><rect x="111.0" y="72.0" width="3.4" height="3.4" fill="#30d22a"/><rect x="114.0" y="72.0" width="3.4" height="3.4" fill="#30d22a"/><rect x="54.0" y="75.0" width="3.4" height="3.4" fill="#30d22a"/><rect x="57.0" y="75.0" width="3.4" height="3.4" fill="#78dc2a"/><rect x="60.0" y="75.0" width="3.4" height="3.4" fill="#e0e02a"/><rect x="63.0" y="75.0" width="3.4" height="3.4" fill="#f0b828"/><rect x="66.0" y="75.0" width="3.4" height="3.4" fill="#e0e02a"/><rect x="69.0" y="75.0" width="3.4" height="3.4" fill="#e0e02a"/><rect x="72.0" y="75.0" width="3.4" height="3.4" fill="#f0b828"/><rect x="75.0" y="75.0" width="3.4" height="3.4" fill="#e0e02a"/><rect x="78.0" y="75.0" width="3.4" height="3.4" fill="#78dc2a"/><rect x="81.0" y="75.0" width="3.4" height="3.4" fill="#30d22a"/><rect x="84.0" y="75.0" width="3.4" height="3.4" fill="#30d22a"/><rect x="90.0" y="75.0" width="3.4" height="3.4" fill="#22bcb0"/><rect x="93.0" y="75.0" width="3.4" height="3.4" fill="#30d22a"/><rect x="96.0" y="75.0" width="3.4" height="3.4" fill="#30d22a"/><rect x="99.0" y="75.0" width="3.4" height="3.4" fill="#e0e02a"/><rect x="102.0" y="75.0" width="3.4" height="3.4" fill="#e0e02a"/><rect x="105.0" y="75.0" width="3.4" height="3.4" fill="#78dc2a"/><rect x="108.0" y="75.0" width="3.4" height="3.4" fill="#e0e02a"/><rect x="111.0" y="75.0" width="3.4" height="3.4" fill="#e0e02a"/><rect x="114.0" y="75.0" width="3.4" height="3.4" fill="#e0e02a"/><rect x="57.0" y="78.0" width="3.4" height="3.4" fill="#78dc2a"/><rect x="60.0" y="78.0" width="3.4" height="3.4" fill="#f0b828"/><rect x="63.0" y="78.0" width="3.4" height="3.4" fill="#e0e02a"/><rect x="66.0" y="78.0" width="3.4" height="3.4" fill="#e0e02a"/><rect x="69.0" y="78.0" width="3.4" height="3.4" fill="#78dc2a"/><rect x="72.0" y="78.0" width="3.4" height="3.4" fill="#f0b828"/><rect x="75.0" y="78.0" width="3.4" height="3.4" fill="#e0e02a"/><rect x="78.0" y="78.0" width="3.4" height="3.4" fill="#30d22a"/><rect x="81.0" y="78.0" width="3.4" height="3.4" fill="#18b420"/><rect x="84.0" y="78.0" width="3.4" height="3.4" fill="#30d22a"/><rect x="87.0" y="78.0" width="3.4" height="3.4" fill="#30d22a"/><rect x="90.0" y="78.0" width="3.4" height="3.4" fill="#18b420"/><rect x="93.0" y="78.0" width="3.4" height="3.4" fill="#30d22a"/><rect x="96.0" y="78.0" width="3.4" height="3.4" fill="#30d22a"/><rect x="99.0" y="78.0" width="3.4" height="3.4" fill="#78dc2a"/><rect x="102.0" y="78.0" width="3.4" height="3.4" fill="#e0e02a"/><rect x="105.0" y="78.0" width="3.4" height="3.4" fill="#e05030"/><rect x="108.0" y="78.0" width="3.4" height="3.4" fill="#f0b828"/><rect x="111.0" y="78.0" width="3.4" height="3.4" fill="#e05030"/><rect x="60.0" y="81.0" width="3.4" height="3.4" fill="#e0e02a"/><rect x="63.0" y="81.0" width="3.4" height="3.4" fill="#e0e02a"/><rect x="66.0" y="81.0" width="3.4" height="3.4" fill="#e0e02a"/><rect x="69.0" y="81.0" width="3.4" height="3.4" fill="#78dc2a"/><rect x="72.0" y="81.0" width="3.4" height="3.4" fill="#78dc2a"/><rect x="75.0" y="81.0" width="3.4" height="3.4" fill="#e0e02a"/><rect x="78.0" y="81.0" width="3.4" height="3.4" fill="#30d22a"/><rect x="81.0" y="81.0" width="3.4" height="3.4" fill="#30d22a"/><rect x="84.0" y="81.0" width="3.4" height="3.4" fill="#78dc2a"/><rect x="87.0" y="81.0" width="3.4" height="3.4" fill="#78dc2a"/><rect x="90.0" y="81.0" width="3.4" height="3.4" fill="#78dc2a"/><rect x="93.0" y="81.0" width="3.4" height="3.4" fill="#30d22a"/><rect x="96.0" y="81.0" width="3.4" height="3.4" fill="#18b420"/><rect x="99.0" y="81.0" width="3.4" height="3.4" fill="#30d22a"/><rect x="102.0" y="81.0" width="3.4" height="3.4" fill="#e0e02a"/><rect x="105.0" y="81.0" width="3.4" height="3.4" fill="#f0b828"/><rect x="108.0" y="81.0" width="3.4" height="3.4" fill="#f0b828"/><rect x="66.0" y="84.0" width="3.4" height="3.4" fill="#30d22a"/><rect x="69.0" y="84.0" width="3.4" height="3.4" fill="#18b420"/><rect x="72.0" y="84.0" width="3.4" height="3.4" fill="#30d22a"/><rect x="75.0" y="84.0" width="3.4" height="3.4" fill="#78dc2a"/><rect x="78.0" y="84.0" width="3.4" height="3.4" fill="#30d22a"/><rect x="81.0" y="84.0" width="3.4" height="3.4" fill="#30d22a"/><rect x="84.0" y="84.0" width="3.4" height="3.4" fill="#78dc2a"/><rect x="87.0" y="84.0" width="3.4" height="3.4" fill="#e0e02a"/><rect x="90.0" y="84.0" width="3.4" height="3.4" fill="#78dc2a"/><rect x="93.0" y="84.0" width="3.4" height="3.4" fill="#78dc2a"/><rect x="96.0" y="84.0" width="3.4" height="3.4" fill="#30d22a"/><rect x="99.0" y="84.0" width="3.4" height="3.4" fill="#78dc2a"/><rect x="102.0" y="84.0" width="3.4" height="3.4" fill="#e0e02a"/><rect x="72.0" y="87.0" width="3.4" height="3.4" fill="#22bcb0"/><rect x="75.0" y="87.0" width="3.4" height="3.4" fill="#30d22a"/><rect x="78.0" y="87.0" width="3.4" height="3.4" fill="#78dc2a"/><rect x="81.0" y="87.0" width="3.4" height="3.4" fill="#78dc2a"/><rect x="84.0" y="87.0" width="3.4" height="3.4" fill="#78dc2a"/><rect x="87.0" y="87.0" width="3.4" height="3.4" fill="#78dc2a"/><rect x="90.0" y="87.0" width="3.4" height="3.4" fill="#30d22a"/><rect x="93.0" y="87.0" width="3.4" height="3.4" fill="#30d22a"/><rect x="96.0" y="87.0" width="3.4" height="3.4" fill="#30d22a"/><rect x="99.0" y="87.0" width="3.4" height="3.4" fill="#78dc2a"/><rect x="75.0" y="90.0" width="3.4" height="3.4" fill="#18b420"/><rect x="78.0" y="90.0" width="3.4" height="3.4" fill="#30d22a"/><rect x="84.0" y="90.0" width="3.4" height="3.4" fill="#30d22a"/><rect x="87.0" y="90.0" width="3.4" height="3.4" fill="#30d22a"/><rect x="90.0" y="90.0" width="3.4" height="3.4" fill="#30d22a"/></g>
</g>
<g transform="translate(286,18)" clip-path="url(#pc)">
<g filter="url(#grain)"><rect x="-5" y="-5" width="140" height="110" fill="#363636"/><rect x="-5" y="-5" width="6" height="110" fill="#1e1e1e"/><ellipse cx="4" cy="30" rx="5" ry="16" fill="#555"/><ellipse cx="3" cy="72" rx="5" ry="22" fill="#686868"/><path d="M8,4 C10,7 12,10 14,14" fill="none" stroke="#a4a4a4" stroke-width="6"/><ellipse cx="26" cy="6" rx="10" ry="6" fill="#6e6e6e"/><path d="M18,3 C14,14 8,26 3,40" fill="none" stroke="#303030" stroke-width="5"/><ellipse cx="70" cy="3" rx="30" ry="5" fill="#6c6c6c"/><ellipse cx="100" cy="6" rx="16" ry="6" fill="#606060"/><rect x="-5" y="89" width="140" height="20" fill="#6a6a6a"/><path d="M3,52 C4,38 10,28 18,20 C26,12 36,5 46,3 C62,1 85,1 102,5 C118,11 127,28 127,50 C127,74 116,92 92,95 C72,97 40,94 20,88 C8,82 3,68 3,52 Z" fill="#8c8c8c"/><ellipse cx="36" cy="52" rx="26" ry="30" fill="#959595"/><ellipse cx="34" cy="50" rx="16" ry="20" fill="#9c9c9c"/><path d="M3,66 C6,80 14,87 30,90 C45,93 70,94 110,93" fill="none" stroke="#4e4e4e" stroke-width="2"/><path d="M18,20 C26,12 36,5 46,3" fill="none" stroke="#505050" stroke-width="2"/><ellipse cx="88" cy="51" rx="40" ry="41" fill="#7e7e7e"/><ellipse cx="88" cy="52" rx="25" ry="26" fill="#959595"/><ellipse cx="84" cy="52" rx="18" ry="22" fill="#bcbcbc"/><ellipse cx="82" cy="46" rx="11" ry="12" fill="#cacaca"/><ellipse cx="99" cy="50" rx="6" ry="11" fill="#858585"/><ellipse cx="90" cy="70" rx="8" ry="5" fill="#a8a8a8"/><ellipse cx="133" cy="50" rx="7" ry="50" fill="#2a2a2a"/><ellipse cx="124" cy="5" rx="18" ry="8" fill="#262626"/></g>
<g filter="url(#b05)"><rect x="84.0" y="9.0" width="3.4" height="3.4" fill="#e0e02a"/><rect x="93.0" y="9.0" width="3.4" height="3.4" fill="#30d22a"/><rect x="75.0" y="12.0" width="3.4" height="3.4" fill="#f0b828"/><rect x="78.0" y="12.0" width="3.4" height="3.4" fill="#e0e02a"/><rect x="81.0" y="12.0" width="3.4" height="3.4" fill="#f0b828"/><rect x="84.0" y="12.0" width="3.4" height="3.4" fill="#f0b828"/><rect x="87.0" y="12.0" width="3.4" height="3.4" fill="#e0e02a"/><rect x="90.0" y="12.0" width="3.4" height="3.4" fill="#78dc2a"/><rect x="93.0" y="12.0" width="3.4" height="3.4" fill="#30d22a"/><rect x="96.0" y="12.0" width="3.4" height="3.4" fill="#78dc2a"/><rect x="69.0" y="15.0" width="3.4" height="3.4" fill="#e0e02a"/><rect x="72.0" y="15.0" width="3.4" height="3.4" fill="#e0e02a"/><rect x="75.0" y="15.0" width="3.4" height="3.4" fill="#e0e02a"/><rect x="78.0" y="15.0" width="3.4" height="3.4" fill="#e0e02a"/><rect x="81.0" y="15.0" width="3.4" height="3.4" fill="#e0e02a"/><rect x="84.0" y="15.0" width="3.4" height="3.4" fill="#e0e02a"/><rect x="87.0" y="15.0" width="3.4" height="3.4" fill="#78dc2a"/><rect x="90.0" y="15.0" width="3.4" height="3.4" fill="#e0e02a"/><rect x="93.0" y="15.0" width="3.4" height="3.4" fill="#78dc2a"/><rect x="96.0" y="15.0" width="3.4" height="3.4" fill="#30d22a"/><rect x="99.0" y="15.0" width="3.4" height="3.4" fill="#18b420"/><rect x="102.0" y="15.0" width="3.4" height="3.4" fill="#30d22a"/><rect x="66.0" y="18.0" width="3.4" height="3.4" fill="#e0e02a"/><rect x="69.0" y="18.0" width="3.4" height="3.4" fill="#e0e02a"/><rect x="72.0" y="18.0" width="3.4" height="3.4" fill="#e0e02a"/><rect x="75.0" y="18.0" width="3.4" height="3.4" fill="#e0e02a"/><rect x="78.0" y="18.0" width="3.4" height="3.4" fill="#78dc2a"/><rect x="81.0" y="18.0" width="3.4" height="3.4" fill="#30d22a"/><rect x="84.0" y="18.0" width="3.4" height="3.4" fill="#78dc2a"/><rect x="87.0" y="18.0" width="3.4" height="3.4" fill="#e0e02a"/><rect x="90.0" y="18.0" width="3.4" height="3.4" fill="#e0e02a"/><rect x="93.0" y="18.0" width="3.4" height="3.4" fill="#78dc2a"/><rect x="96.0" y="18.0" width="3.4" height="3.4" fill="#18b420"/><rect x="99.0" y="18.0" width="3.4" height="3.4" fill="#30d22a"/><rect x="102.0" y="18.0" width="3.4" height="3.4" fill="#78dc2a"/><rect x="105.0" y="18.0" width="3.4" height="3.4" fill="#e0e02a"/><rect x="108.0" y="18.0" width="3.4" height="3.4" fill="#78dc2a"/><rect x="63.0" y="21.0" width="3.4" height="3.4" fill="#e0e02a"/><rect x="66.0" y="21.0" width="3.4" height="3.4" fill="#e0e02a"/><rect x="69.0" y="21.0" width="3.4" height="3.4" fill="#e0e02a"/><rect x="72.0" y="21.0" width="3.4" height="3.4" fill="#e0e02a"/><rect x="75.0" y="21.0" width="3.4" height="3.4" fill="#e0e02a"/><rect x="78.0" y="21.0" width="3.4" height="3.4" fill="#78dc2a"/><rect x="81.0" y="21.0" width="3.4" height="3.4" fill="#e0e02a"/><rect x="84.0" y="21.0" width="3.4" height="3.4" fill="#e0e02a"/><rect x="87.0" y="21.0" width="3.4" height="3.4" fill="#e05030"/><rect x="90.0" y="21.0" width="3.4" height="3.4" fill="#e0e02a"/><rect x="93.0" y="21.0" width="3.4" height="3.4" fill="#e0e02a"/><rect x="96.0" y="21.0" width="3.4" height="3.4" fill="#30d22a"/><rect x="99.0" y="21.0" width="3.4" height="3.4" fill="#30d22a"/><rect x="102.0" y="21.0" width="3.4" height="3.4" fill="#30d22a"/><rect x="105.0" y="21.0" width="3.4" height="3.4" fill="#78dc2a"/><rect x="108.0" y="21.0" width="3.4" height="3.4" fill="#78dc2a"/><rect x="111.0" y="21.0" width="3.4" height="3.4" fill="#f0b828"/><rect x="60.0" y="24.0" width="3.4" height="3.4" fill="#f0b828"/><rect x="63.0" y="24.0" width="3.4" height="3.4" fill="#e0e02a"/><rect x="66.0" y="24.0" width="3.4" height="3.4" fill="#78dc2a"/><rect x="69.0" y="24.0" width="3.4" height="3.4" fill="#e0e02a"/><rect x="72.0" y="24.0" width="3.4" height="3.4" fill="#f0b828"/><rect x="75.0" y="24.0" width="3.4" height="3.4" fill="#e0e02a"/><rect x="78.0" y="24.0" width="3.4" height="3.4" fill="#e0e02a"/><rect x="81.0" y="24.0" width="3.4" height="3.4" fill="#e0e02a"/><rect x="84.0" y="24.0" width="3.4" height="3.4" fill="#f0b828"/><rect x="99.0" y="24.0" width="3.4" height="3.4" fill="#30d22a"/><rect x="102.0" y="24.0" width="3.4" height="3.4" fill="#30d22a"/><rect x="105.0" y="24.0" width="3.4" height="3.4" fill="#78dc2a"/><rect x="108.0" y="24.0" width="3.4" height="3.4" fill="#e0e02a"/><rect x="111.0" y="24.0" width="3.4" height="3.4" fill="#e0e02a"/><rect x="114.0" y="24.0" width="3.4" height="3.4" fill="#78dc2a"/><rect x="57.0" y="27.0" width="3.4" height="3.4" fill="#f0b828"/><rect x="60.0" y="27.0" width="3.4" height="3.4" fill="#f0b828"/><rect x="63.0" y="27.0" width="3.4" height="3.4" fill="#78dc2a"/><rect x="66.0" y="27.0" width="3.4" height="3.4" fill="#78dc2a"/><rect x="69.0" y="27.0" width="3.4" height="3.4" fill="#78dc2a"/><rect x="72.0" y="27.0" width="3.4" height="3.4" fill="#e0e02a"/><rect x="75.0" y="27.0" width="3.4" height="3.4" fill="#f0b828"/><rect x="105.0" y="27.0" width="3.4" height="3.4" fill="#78dc2a"/><rect x="108.0" y="27.0" width="3.4" height="3.4" fill="#e0e02a"/><rect x="111.0" y="27.0" width="3.4" height="3.4" fill="#78dc2a"/><rect x="114.0" y="27.0" width="3.4" height="3.4" fill="#30d22a"/><rect x="57.0" y="30.0" width="3.4" height="3.4" fill="#f0b828"/><rect x="60.0" y="30.0" width="3.4" height="3.4" fill="#78dc2a"/><rect x="63.0" y="30.0" width="3.4" height="3.4" fill="#e0e02a"/><rect x="66.0" y="30.0" width="3.4" height="3.4" fill="#78dc2a"/><rect x="69.0" y="30.0" width="3.4" height="3.4" fill="#e0e02a"/><rect x="72.0" y="30.0" width="3.4" height="3.4" fill="#f0b828"/><rect x="75.0" y="30.0" width="3.4" height="3.4" fill="#f0b828"/><rect x="108.0" y="30.0" width="3.4" height="3.4" fill="#e0e02a"/><rect x="111.0" y="30.0" width="3.4" height="3.4" fill="#78dc2a"/><rect x="114.0" y="30.0" width="3.4" height="3.4" fill="#18b420"/><rect x="117.0" y="30.0" width="3.4" height="3.4" fill="#18b420"/><rect x="54.0" y="33.0" width="3.4" height="3.4" fill="#e0e02a"/><rect x="57.0" y="33.0" width="3.4" height="3.4" fill="#e0e02a"/><rect x="60.0" y="33.0" width="3.4" height="3.4" fill="#78dc2a"/><rect x="63.0" y="33.0" width="3.4" height="3.4" fill="#30d22a"/><rect x="66.0" y="33.0" width="3.4" height="3.4" fill="#e0e02a"/><rect x="69.0" y="33.0" width="3.4" height="3.4" fill="#f0b828"/><rect x="108.0" y="33.0" width="3.4" height="3.4" fill="#e0e02a"/><rect x="111.0" y="33.0" width="3.4" height="3.4" fill="#78dc2a"/><rect x="114.0" y="33.0" width="3.4" height="3.4" fill="#78dc2a"/><rect x="117.0" y="33.0" width="3.4" height="3.4" fill="#30d22a"/><rect x="120.0" y="33.0" width="3.4" height="3.4" fill="#78dc2a"/><rect x="54.0" y="36.0" width="3.4" height="3.4" fill="#e0e02a"/><rect x="57.0" y="36.0" width="3.4" height="3.4" fill="#e0e02a"/><rect x="60.0" y="36.0" width="3.4" height="3.4" fill="#78dc2a"/><rect x="63.0" y="36.0" width="3.4" height="3.4" fill="#30d22a"/><rect x="66.0" y="36.0" width="3.4" height="3.4" fill="#30d22a"/><rect x="111.0" y="36.0" width="3.4" height="3.4" fill="#30d22a"/><rect x="114.0" y="36.0" width="3.4" height="3.4" fill="#30d22a"/><rect x="117.0" y="36.0" width="3.4" height="3.4" fill="#78dc2a"/><rect x="120.0" y="36.0" width="3.4" height="3.4" fill="#78dc2a"/><rect x="51.0" y="39.0" width="3.4" height="3.4" fill="#78dc2a"/><rect x="54.0" y="39.0" width="3.4" height="3.4" fill="#e0e02a"/><rect x="57.0" y="39.0" width="3.4" height="3.4" fill="#30d22a"/><rect x="60.0" y="39.0" width="3.4" height="3.4" fill="#78dc2a"/><rect x="63.0" y="39.0" width="3.4" height="3.4" fill="#30d22a"/><rect x="66.0" y="39.0" width="3.4" height="3.4" fill="#18b420"/><rect x="111.0" y="39.0" width="3.4" height="3.4" fill="#30d22a"/><rect x="114.0" y="39.0" width="3.4" height="3.4" fill="#30d22a"/><rect x="117.0" y="39.0" width="3.4" height="3.4" fill="#78dc2a"/><rect x="120.0" y="39.0" width="3.4" height="3.4" fill="#78dc2a"/><rect x="123.0" y="39.0" width="3.4" height="3.4" fill="#78dc2a"/><rect x="51.0" y="42.0" width="3.4" height="3.4" fill="#78dc2a"/><rect x="54.0" y="42.0" width="3.4" height="3.4" fill="#30d22a"/><rect x="57.0" y="42.0" width="3.4" height="3.4" fill="#30d22a"/><rect x="60.0" y="42.0" width="3.4" height="3.4" fill="#30d22a"/><rect x="63.0" y="42.0" width="3.4" height="3.4" fill="#30d22a"/><rect x="66.0" y="42.0" width="3.4" height="3.4" fill="#22bcb0"/><rect x="114.0" y="42.0" width="3.4" height="3.4" fill="#18b420"/><rect x="117.0" y="42.0" width="3.4" height="3.4" fill="#78dc2a"/><rect x="120.0" y="42.0" width="3.4" height="3.4" fill="#78dc2a"/><rect x="123.0" y="42.0" width="3.4" height="3.4" fill="#30d22a"/><rect x="51.0" y="45.0" width="3.4" height="3.4" fill="#30d22a"/><rect x="54.0" y="45.0" width="3.4" height="3.4" fill="#30d22a"/><rect x="57.0" y="45.0" width="3.4" height="3.4" fill="#30d22a"/><rect x="60.0" y="45.0" width="3.4" height="3.4" fill="#78dc2a"/><rect x="63.0" y="45.0" width="3.4" height="3.4" fill="#30d22a"/><rect x="66.0" y="45.0" width="3.4" height="3.4" fill="#18b420"/><rect x="114.0" y="45.0" width="3.4" height="3.4" fill="#30d22a"/><rect x="117.0" y="45.0" width="3.4" height="3.4" fill="#78dc2a"/><rect x="120.0" y="45.0" width="3.4" height="3.4" fill="#e0e02a"/><rect x="51.0" y="48.0" width="3.4" height="3.4" fill="#18b420"/><rect x="54.0" y="48.0" width="3.4" height="3.4" fill="#18b420"/><rect x="57.0" y="48.0" width="3.4" height="3.4" fill="#30d22a"/><rect x="60.0" y="48.0" width="3.4" height="3.4" fill="#78dc2a"/><rect x="63.0" y="48.0" width="3.4" height="3.4" fill="#30d22a"/><rect x="66.0" y="48.0" width="3.4" height="3.4" fill="#30d22a"/><rect x="114.0" y="48.0" width="3.4" height="3.4" fill="#78dc2a"/><rect x="117.0" y="48.0" width="3.4" height="3.4" fill="#e0e02a"/><rect x="120.0" y="48.0" width="3.4" height="3.4" fill="#e0e02a"/><rect x="51.0" y="51.0" width="3.4" height="3.4" fill="#18b420"/><rect x="54.0" y="51.0" width="3.4" height="3.4" fill="#22bcb0"/><rect x="57.0" y="51.0" width="3.4" height="3.4" fill="#18b420"/><rect x="60.0" y="51.0" width="3.4" height="3.4" fill="#e0e02a"/><rect x="63.0" y="51.0" width="3.4" height="3.4" fill="#78dc2a"/><rect x="114.0" y="51.0" width="3.4" height="3.4" fill="#78dc2a"/><rect x="117.0" y="51.0" width="3.4" height="3.4" fill="#e0e02a"/><rect x="120.0" y="51.0" width="3.4" height="3.4" fill="#e0e02a"/><rect x="123.0" y="51.0" width="3.4" height="3.4" fill="#78dc2a"/><rect x="51.0" y="54.0" width="3.4" height="3.4" fill="#18b420"/><rect x="54.0" y="54.0" width="3.4" height="3.4" fill="#18b420"/><rect x="57.0" y="54.0" width="3.4" height="3.4" fill="#30d22a"/><rect x="60.0" y="54.0" width="3.4" height="3.4" fill="#78dc2a"/><rect x="63.0" y="54.0" width="3.4" height="3.4" fill="#78dc2a"/><rect x="66.0" y="54.0" width="3.4" height="3.4" fill="#78dc2a"/><rect x="114.0" y="54.0" width="3.4" height="3.4" fill="#e0e02a"/><rect x="117.0" y="54.0" width="3.4" height="3.4" fill="#78dc2a"/><rect x="120.0" y="54.0" width="3.4" height="3.4" fill="#78dc2a"/><rect x="123.0" y="54.0" width="3.4" height="3.4" fill="#78dc2a"/><rect x="51.0" y="57.0" width="3.4" height="3.4" fill="#18b420"/><rect x="54.0" y="57.0" width="3.4" height="3.4" fill="#30d22a"/><rect x="57.0" y="57.0" width="3.4" height="3.4" fill="#78dc2a"/><rect x="60.0" y="57.0" width="3.4" height="3.4" fill="#e0e02a"/><rect x="63.0" y="57.0" width="3.4" height="3.4" fill="#e0e02a"/><rect x="66.0" y="57.0" width="3.4" height="3.4" fill="#78dc2a"/><rect x="114.0" y="57.0" width="3.4" height="3.4" fill="#78dc2a"/><rect x="117.0" y="57.0" width="3.4" height="3.4" fill="#78dc2a"/><rect x="120.0" y="57.0" width="3.4" height="3.4" fill="#30d22a"/><rect x="51.0" y="60.0" width="3.4" height="3.4" fill="#18b420"/><rect x="54.0" y="60.0" width="3.4" height="3.4" fill="#78dc2a"/><rect x="57.0" y="60.0" width="3.4" height="3.4" fill="#78dc2a"/><rect x="60.0" y="60.0" width="3.4" height="3.4" fill="#e0e02a"/><rect x="63.0" y="60.0" width="3.4" height="3.4" fill="#78dc2a"/><rect x="66.0" y="60.0" width="3.4" height="3.4" fill="#30d22a"/><rect x="114.0" y="60.0" width="3.4" height="3.4" fill="#78dc2a"/><rect x="117.0" y="60.0" width="3.4" height="3.4" fill="#e0e02a"/><rect x="120.0" y="60.0" width="3.4" height="3.4" fill="#e0e02a"/><rect x="54.0" y="63.0" width="3.4" height="3.4" fill="#30d22a"/><rect x="57.0" y="63.0" width="3.4" height="3.4" fill="#78dc2a"/><rect x="60.0" y="63.0" width="3.4" height="3.4" fill="#e0e02a"/><rect x="63.0" y="63.0" width="3.4" height="3.4" fill="#78dc2a"/><rect x="66.0" y="63.0" width="3.4" height="3.4" fill="#78dc2a"/><rect x="69.0" y="63.0" width="3.4" height="3.4" fill="#30d22a"/><rect x="111.0" y="63.0" width="3.4" height="3.4" fill="#78dc2a"/><rect x="114.0" y="63.0" width="3.4" height="3.4" fill="#78dc2a"/><rect x="117.0" y="63.0" width="3.4" height="3.4" fill="#78dc2a"/><rect x="120.0" y="63.0" width="3.4" height="3.4" fill="#e0e02a"/><rect x="54.0" y="66.0" width="3.4" height="3.4" fill="#18b420"/><rect x="57.0" y="66.0" width="3.4" height="3.4" fill="#30d22a"/><rect x="60.0" y="66.0" width="3.4" height="3.4" fill="#78dc2a"/><rect x="63.0" y="66.0" width="3.4" height="3.4" fill="#78dc2a"/><rect x="66.0" y="66.0" width="3.4" height="3.4" fill="#30d22a"/><rect x="69.0" y="66.0" width="3.4" height="3.4" fill="#78dc2a"/><rect x="111.0" y="66.0" width="3.4" height="3.4" fill="#e0e02a"/><rect x="114.0" y="66.0" width="3.4" height="3.4" fill="#78dc2a"/><rect x="117.0" y="66.0" width="3.4" height="3.4" fill="#78dc2a"/><rect x="57.0" y="69.0" width="3.4" height="3.4" fill="#30d22a"/><rect x="60.0" y="69.0" width="3.4" height="3.4" fill="#30d22a"/><rect x="63.0" y="69.0" width="3.4" height="3.4" fill="#30d22a"/><rect x="66.0" y="69.0" width="3.4" height="3.4" fill="#30d22a"/><rect x="69.0" y="69.0" width="3.4" height="3.4" fill="#30d22a"/><rect x="72.0" y="69.0" width="3.4" height="3.4" fill="#30d22a"/><rect x="108.0" y="69.0" width="3.4" height="3.4" fill="#e05030"/><rect x="111.0" y="69.0" width="3.4" height="3.4" fill="#e0e02a"/><rect x="114.0" y="69.0" width="3.4" height="3.4" fill="#78dc2a"/><rect x="117.0" y="69.0" width="3.4" height="3.4" fill="#78dc2a"/><rect x="57.0" y="72.0" width="3.4" height="3.4" fill="#18b420"/><rect x="60.0" y="72.0" width="3.4" height="3.4" fill="#30d22a"/><rect x="63.0" y="72.0" width="3.4" height="3.4" fill="#18b420"/><rect x="66.0" y="72.0" width="3.4" height="3.4" fill="#22bcb0"/><rect x="69.0" y="72.0" width="3.4" height="3.4" fill="#30d22a"/><rect x="72.0" y="72.0" width="3.4" height="3.4" fill="#78dc2a"/><rect x="75.0" y="72.0" width="3.4" height="3.4" fill="#78dc2a"/><rect x="105.0" y="72.0" width="3.4" height="3.4" fill="#e0e02a"/><rect x="108.0" y="72.0" width="3.4" height="3.4" fill="#f0b828"/><rect x="111.0" y="72.0" width="3.4" height="3.4" fill="#78dc2a"/><rect x="114.0" y="72.0" width="3.4" height="3.4" fill="#30d22a"/><rect x="60.0" y="75.0" width="3.4" height="3.4" fill="#30d22a"/><rect x="63.0" y="75.0" width="3.4" height="3.4" fill="#18b420"/><rect x="66.0" y="75.0" width="3.4" height="3.4" fill="#30d22a"/><rect x="69.0" y="75.0" width="3.4" height="3.4" fill="#78dc2a"/><rect x="72.0" y="75.0" width="3.4" height="3.4" fill="#78dc2a"/><rect x="75.0" y="75.0" width="3.4" height="3.4" fill="#30d22a"/><rect x="78.0" y="75.0" width="3.4" height="3.4" fill="#30d22a"/><rect x="99.0" y="75.0" width="3.4" height="3.4" fill="#e0e02a"/><rect x="102.0" y="75.0" width="3.4" height="3.4" fill="#e0e02a"/><rect x="105.0" y="75.0" width="3.4" height="3.4" fill="#78dc2a"/><rect x="108.0" y="75.0" width="3.4" height="3.4" fill="#f0b828"/><rect x="111.0" y="75.0" width="3.4" height="3.4" fill="#78dc2a"/><rect x="114.0" y="75.0" width="3.4" height="3.4" fill="#78dc2a"/><rect x="63.0" y="78.0" width="3.4" height="3.4" fill="#22bcb0"/><rect x="66.0" y="78.0" width="3.4" height="3.4" fill="#30d22a"/><rect x="69.0" y="78.0" width="3.4" height="3.4" fill="#e0e02a"/><rect x="72.0" y="78.0" width="3.4" height="3.4" fill="#e0e02a"/><rect x="75.0" y="78.0" width="3.4" height="3.4" fill="#e0e02a"/><rect x="78.0" y="78.0" width="3.4" height="3.4" fill="#30d22a"/><rect x="81.0" y="78.0" width="3.4" height="3.4" fill="#18b420"/><rect x="84.0" y="78.0" width="3.4" height="3.4" fill="#22bcb0"/><rect x="87.0" y="78.0" width="3.4" height="3.4" fill="#18b420"/><rect x="90.0" y="78.0" width="3.4" height="3.4" fill="#30d22a"/><rect x="93.0" y="78.0" width="3.4" height="3.4" fill="#78dc2a"/><rect x="96.0" y="78.0" width="3.4" height="3.4" fill="#78dc2a"/><rect x="99.0" y="78.0" width="3.4" height="3.4" fill="#e0e02a"/><rect x="102.0" y="78.0" width="3.4" height="3.4" fill="#78dc2a"/><rect x="105.0" y="78.0" width="3.4" height="3.4" fill="#78dc2a"/><rect x="108.0" y="78.0" width="3.4" height="3.4" fill="#78dc2a"/><rect x="111.0" y="78.0" width="3.4" height="3.4" fill="#78dc2a"/><rect x="66.0" y="81.0" width="3.4" height="3.4" fill="#30d22a"/><rect x="69.0" y="81.0" width="3.4" height="3.4" fill="#78dc2a"/><rect x="72.0" y="81.0" width="3.4" height="3.4" fill="#78dc2a"/><rect x="75.0" y="81.0" width="3.4" height="3.4" fill="#78dc2a"/><rect x="78.0" y="81.0" width="3.4" height="3.4" fill="#78dc2a"/><rect x="81.0" y="81.0" width="3.4" height="3.4" fill="#30d22a"/><rect x="84.0" y="81.0" width="3.4" height="3.4" fill="#78dc2a"/><rect x="87.0" y="81.0" width="3.4" height="3.4" fill="#78dc2a"/><rect x="90.0" y="81.0" width="3.4" height="3.4" fill="#30d22a"/><rect x="93.0" y="81.0" width="3.4" height="3.4" fill="#30d22a"/><rect x="96.0" y="81.0" width="3.4" height="3.4" fill="#e0e02a"/><rect x="99.0" y="81.0" width="3.4" height="3.4" fill="#30d22a"/><rect x="102.0" y="81.0" width="3.4" height="3.4" fill="#30d22a"/><rect x="105.0" y="81.0" width="3.4" height="3.4" fill="#30d22a"/><rect x="108.0" y="81.0" width="3.4" height="3.4" fill="#78dc2a"/><rect x="72.0" y="84.0" width="3.4" height="3.4" fill="#78dc2a"/><rect x="75.0" y="84.0" width="3.4" height="3.4" fill="#e0e02a"/><rect x="78.0" y="84.0" width="3.4" height="3.4" fill="#78dc2a"/><rect x="81.0" y="84.0" width="3.4" height="3.4" fill="#78dc2a"/><rect x="84.0" y="84.0" width="3.4" height="3.4" fill="#e0e02a"/><rect x="87.0" y="84.0" width="3.4" height="3.4" fill="#78dc2a"/><rect x="90.0" y="84.0" width="3.4" height="3.4" fill="#30d22a"/><rect x="93.0" y="84.0" width="3.4" height="3.4" fill="#30d22a"/><rect x="96.0" y="84.0" width="3.4" height="3.4" fill="#78dc2a"/><rect x="99.0" y="84.0" width="3.4" height="3.4" fill="#e0e02a"/><rect x="102.0" y="84.0" width="3.4" height="3.4" fill="#30d22a"/><rect x="75.0" y="87.0" width="3.4" height="3.4" fill="#78dc2a"/><rect x="78.0" y="87.0" width="3.4" height="3.4" fill="#e0e02a"/><rect x="81.0" y="87.0" width="3.4" height="3.4" fill="#e0e02a"/><rect x="84.0" y="87.0" width="3.4" height="3.4" fill="#e0e02a"/><rect x="87.0" y="87.0" width="3.4" height="3.4" fill="#78dc2a"/><rect x="90.0" y="87.0" width="3.4" height="3.4" fill="#30d22a"/><rect x="93.0" y="87.0" width="3.4" height="3.4" fill="#30d22a"/><rect x="96.0" y="87.0" width="3.4" height="3.4" fill="#30d22a"/></g>
</g>
<g transform="translate(18,126)" clip-path="url(#pc)">
<g filter="url(#grain)"><rect x="-5" y="-5" width="140" height="110" fill="#777"/><ellipse cx="30" cy="50" rx="16" ry="50" fill="#8c8c8c"/><path d="M9,0 C10,30 11,60 12,100" fill="none" stroke="#959595" stroke-width="6"/><path d="M20,0 C20,30 21,60 22,100" fill="none" stroke="#585858" stroke-width="3.5"/><path d="M26,14 C30,22 36,32 42,42" fill="none" stroke="#969696" stroke-width="7"/><path d="M8,98 C20,80 30,66 40,56" fill="none" stroke="#8e8e8e" stroke-width="6"/><ellipse cx="46" cy="62" rx="5" ry="24" fill="#4c4c4c"/><rect x="-5" y="-5" width="7" height="110" fill="#1e1e1e"/><ellipse cx="95" cy="3" rx="40" ry="8" fill="#383838"/><ellipse cx="50" cy="8" rx="8" ry="7" fill="#9c9c9c"/><ellipse cx="38" cy="12" rx="4" ry="7" fill="#3a3a3a"/><ellipse cx="128" cy="50" rx="9" ry="52" fill="#262626"/><ellipse cx="82" cy="50" rx="40" ry="38" fill="#5a5a5a"/><ellipse cx="108" cy="84" rx="18" ry="6" fill="#858585" transform="rotate(-30 108 84)"/><ellipse cx="70" cy="96" rx="30" ry="5" fill="#4a4a4a"/><ellipse cx="78" cy="52" rx="17" ry="19" fill="#5c5c5c"/><ellipse cx="72" cy="58" rx="10" ry="10" fill="#747474"/><ellipse cx="86" cy="44" rx="7" ry="8" fill="#4c4c4c"/><ellipse cx="3" cy="66" rx="9" ry="10" fill="#222"/><ellipse cx="1" cy="66" rx="6" ry="7" fill="#8a8a8a"/></g>
<g filter="url(#b05)"><rect x="72.0" y="15.0" width="3.4" height="3.4" fill="#22b4dc"/><rect x="69.0" y="18.0" width="3.4" height="3.4" fill="#2290e0"/><rect x="72.0" y="18.0" width="3.4" height="3.4" fill="#2290e0"/><rect x="75.0" y="18.0" width="3.4" height="3.4" fill="#22b4dc"/><rect x="78.0" y="18.0" width="3.4" height="3.4" fill="#2290e0"/><rect x="81.0" y="18.0" width="3.4" height="3.4" fill="#2290e0"/><rect x="84.0" y="18.0" width="3.4" height="3.4" fill="#2290e0"/><rect x="87.0" y="18.0" width="3.4" height="3.4" fill="#2290e0"/><rect x="90.0" y="18.0" width="3.4" height="3.4" fill="#22bcb0"/><rect x="93.0" y="18.0" width="3.4" height="3.4" fill="#22bcb0"/><rect x="60.0" y="21.0" width="3.4" height="3.4" fill="#22b4dc"/><rect x="63.0" y="21.0" width="3.4" height="3.4" fill="#22b4dc"/><rect x="66.0" y="21.0" width="3.4" height="3.4" fill="#22b4dc"/><rect x="69.0" y="21.0" width="3.4" height="3.4" fill="#22bcb0"/><rect x="72.0" y="21.0" width="3.4" height="3.4" fill="#22b4dc"/><rect x="75.0" y="21.0" width="3.4" height="3.4" fill="#2290e0"/><rect x="78.0" y="21.0" width="3.4" height="3.4" fill="#2290e0"/><rect x="81.0" y="21.0" width="3.4" height="3.4" fill="#2290e0"/><rect x="84.0" y="21.0" width="3.4" height="3.4" fill="#2290e0"/><rect x="87.0" y="21.0" width="3.4" height="3.4" fill="#2290e0"/><rect x="90.0" y="21.0" width="3.4" height="3.4" fill="#22bcb0"/><rect x="93.0" y="21.0" width="3.4" height="3.4" fill="#22bcb0"/><rect x="96.0" y="21.0" width="3.4" height="3.4" fill="#18b420"/><rect x="99.0" y="21.0" width="3.4" height="3.4" fill="#22bcb0"/><rect x="57.0" y="24.0" width="3.4" height="3.4" fill="#22b4dc"/><rect x="60.0" y="24.0" width="3.4" height="3.4" fill="#2290e0"/><rect x="63.0" y="24.0" width="3.4" height="3.4" fill="#18b420"/><rect x="66.0" y="24.0" width="3.4" height="3.4" fill="#22b4dc"/><rect x="69.0" y="24.0" width="3.4" height="3.4" fill="#22b4dc"/><rect x="72.0" y="24.0" width="3.4" height="3.4" fill="#22b4dc"/><rect x="75.0" y="24.0" width="3.4" height="3.4" fill="#22b4dc"/><rect x="78.0" y="24.0" width="3.4" height="3.4" fill="#2290e0"/><rect x="81.0" y="24.0" width="3.4" height="3.4" fill="#22b4dc"/><rect x="84.0" y="24.0" width="3.4" height="3.4" fill="#22b4dc"/><rect x="87.0" y="24.0" width="3.4" height="3.4" fill="#22b4dc"/><rect x="90.0" y="24.0" width="3.4" height="3.4" fill="#22b4dc"/><rect x="93.0" y="24.0" width="3.4" height="3.4" fill="#18b420"/><rect x="96.0" y="24.0" width="3.4" height="3.4" fill="#18b420"/><rect x="99.0" y="24.0" width="3.4" height="3.4" fill="#22bcb0"/><rect x="54.0" y="27.0" width="3.4" height="3.4" fill="#2290e0"/><rect x="57.0" y="27.0" width="3.4" height="3.4" fill="#22b4dc"/><rect x="60.0" y="27.0" width="3.4" height="3.4" fill="#22bcb0"/><rect x="63.0" y="27.0" width="3.4" height="3.4" fill="#18b420"/><rect x="66.0" y="27.0" width="3.4" height="3.4" fill="#22bcb0"/><rect x="69.0" y="27.0" width="3.4" height="3.4" fill="#22b4dc"/><rect x="72.0" y="27.0" width="3.4" height="3.4" fill="#22bcb0"/><rect x="75.0" y="27.0" width="3.4" height="3.4" fill="#22b4dc"/><rect x="78.0" y="27.0" width="3.4" height="3.4" fill="#22b4dc"/><rect x="81.0" y="27.0" width="3.4" height="3.4" fill="#22b4dc"/><rect x="84.0" y="27.0" width="3.4" height="3.4" fill="#22b4dc"/><rect x="87.0" y="27.0" width="3.4" height="3.4" fill="#18b420"/><rect x="90.0" y="27.0" width="3.4" height="3.4" fill="#22b4dc"/><rect x="93.0" y="27.0" width="3.4" height="3.4" fill="#3ad830"/><rect x="96.0" y="27.0" width="3.4" height="3.4" fill="#18b420"/><rect x="99.0" y="27.0" width="3.4" height="3.4" fill="#22bcb0"/><rect x="102.0" y="27.0" width="3.4" height="3.4" fill="#18b420"/><rect x="105.0" y="27.0" width="3.4" height="3.4" fill="#22bcb0"/><rect x="51.0" y="30.0" width="3.4" height="3.4" fill="#2290e0"/><rect x="54.0" y="30.0" width="3.4" height="3.4" fill="#2290e0"/><rect x="57.0" y="30.0" width="3.4" height="3.4" fill="#2290e0"/><rect x="60.0" y="30.0" width="3.4" height="3.4" fill="#2290e0"/><rect x="63.0" y="30.0" width="3.4" height="3.4" fill="#22b4dc"/><rect x="66.0" y="30.0" width="3.4" height="3.4" fill="#22b4dc"/><rect x="69.0" y="30.0" width="3.4" height="3.4" fill="#22b4dc"/><rect x="72.0" y="30.0" width="3.4" height="3.4" fill="#22b4dc"/><rect x="75.0" y="30.0" width="3.4" height="3.4" fill="#22bcb0"/><rect x="78.0" y="30.0" width="3.4" height="3.4" fill="#22b4dc"/><rect x="81.0" y="30.0" width="3.4" height="3.4" fill="#22b4dc"/><rect x="84.0" y="30.0" width="3.4" height="3.4" fill="#22b4dc"/><rect x="87.0" y="30.0" width="3.4" height="3.4" fill="#18b420"/><rect x="90.0" y="30.0" width="3.4" height="3.4" fill="#3ad830"/><rect x="93.0" y="30.0" width="3.4" height="3.4" fill="#3ad830"/><rect x="96.0" y="30.0" width="3.4" height="3.4" fill="#18b420"/><rect x="99.0" y="30.0" width="3.4" height="3.4" fill="#22bcb0"/><rect x="102.0" y="30.0" width="3.4" height="3.4" fill="#18b420"/><rect x="105.0" y="30.0" width="3.4" height="3.4" fill="#22bcb0"/><rect x="51.0" y="33.0" width="3.4" height="3.4" fill="#22b4dc"/><rect x="54.0" y="33.0" width="3.4" height="3.4" fill="#22b4dc"/><rect x="57.0" y="33.0" width="3.4" height="3.4" fill="#2290e0"/><rect x="60.0" y="33.0" width="3.4" height="3.4" fill="#22bcb0"/><rect x="63.0" y="33.0" width="3.4" height="3.4" fill="#22b4dc"/><rect x="66.0" y="33.0" width="3.4" height="3.4" fill="#22b4dc"/><rect x="69.0" y="33.0" width="3.4" height="3.4" fill="#22bcb0"/><rect x="72.0" y="33.0" width="3.4" height="3.4" fill="#22b4dc"/><rect x="75.0" y="33.0" width="3.4" height="3.4" fill="#22b4dc"/><rect x="87.0" y="33.0" width="3.4" height="3.4" fill="#3ad830"/><rect x="90.0" y="33.0" width="3.4" height="3.4" fill="#18b420"/><rect x="93.0" y="33.0" width="3.4" height="3.4" fill="#18b420"/><rect x="96.0" y="33.0" width="3.4" height="3.4" fill="#18b420"/><rect x="99.0" y="33.0" width="3.4" height="3.4" fill="#18b420"/><rect x="102.0" y="33.0" width="3.4" height="3.4" fill="#22bcb0"/><rect x="105.0" y="33.0" width="3.4" height="3.4" fill="#22bcb0"/><rect x="108.0" y="33.0" width="3.4" height="3.4" fill="#22b4dc"/><rect x="48.0" y="36.0" width="3.4" height="3.4" fill="#22b4dc"/><rect x="51.0" y="36.0" width="3.4" height="3.4" fill="#22b4dc"/><rect x="54.0" y="36.0" width="3.4" height="3.4" fill="#22b4dc"/><rect x="57.0" y="36.0" width="3.4" height="3.4" fill="#22b4dc"/><rect x="60.0" y="36.0" width="3.4" height="3.4" fill="#22b4dc"/><rect x="63.0" y="36.0" width="3.4" height="3.4" fill="#22bcb0"/><rect x="66.0" y="36.0" width="3.4" height="3.4" fill="#2290e0"/><rect x="69.0" y="36.0" width="3.4" height="3.4" fill="#2290e0"/><rect x="90.0" y="36.0" width="3.4" height="3.4" fill="#22bcb0"/><rect x="93.0" y="36.0" width="3.4" height="3.4" fill="#22bcb0"/><rect x="96.0" y="36.0" width="3.4" height="3.4" fill="#18b420"/><rect x="99.0" y="36.0" width="3.4" height="3.4" fill="#22bcb0"/><rect x="102.0" y="36.0" width="3.4" height="3.4" fill="#22bcb0"/><rect x="105.0" y="36.0" width="3.4" height="3.4" fill="#3ad830"/><rect x="108.0" y="36.0" width="3.4" height="3.4" fill="#3ad830"/><rect x="48.0" y="39.0" width="3.4" height="3.4" fill="#2290e0"/><rect x="51.0" y="39.0" width="3.4" height="3.4" fill="#22b4dc"/><rect x="54.0" y="39.0" width="3.4" height="3.4" fill="#22b4dc"/><rect x="57.0" y="39.0" width="3.4" height="3.4" fill="#22b4dc"/><rect x="60.0" y="39.0" width="3.4" height="3.4" fill="#22b4dc"/><rect x="63.0" y="39.0" width="3.4" height="3.4" fill="#22b4dc"/><rect x="66.0" y="39.0" width="3.4" height="3.4" fill="#22b4dc"/><rect x="93.0" y="39.0" width="3.4" height="3.4" fill="#22b4dc"/><rect x="96.0" y="39.0" width="3.4" height="3.4" fill="#22b4dc"/><rect x="99.0" y="39.0" width="3.4" height="3.4" fill="#3ad830"/><rect x="102.0" y="39.0" width="3.4" height="3.4" fill="#3ad830"/><rect x="105.0" y="39.0" width="3.4" height="3.4" fill="#3ad830"/><rect x="108.0" y="39.0" width="3.4" height="3.4" fill="#3ad830"/><rect x="111.0" y="39.0" width="3.4" height="3.4" fill="#3ad830"/><rect x="48.0" y="42.0" width="3.4" height="3.4" fill="#1e40d8"/><rect x="51.0" y="42.0" width="3.4" height="3.4" fill="#2290e0"/><rect x="54.0" y="42.0" width="3.4" height="3.4" fill="#22b4dc"/><rect x="57.0" y="42.0" width="3.4" height="3.4" fill="#22b4dc"/><rect x="60.0" y="42.0" width="3.4" height="3.4" fill="#2290e0"/><rect x="63.0" y="42.0" width="3.4" height="3.4" fill="#22b4dc"/><rect x="93.0" y="42.0" width="3.4" height="3.4" fill="#22bcb0"/><rect x="96.0" y="42.0" width="3.4" height="3.4" fill="#22bcb0"/><rect x="99.0" y="42.0" width="3.4" height="3.4" fill="#18b420"/><rect x="102.0" y="42.0" width="3.4" height="3.4" fill="#3ad830"/><rect x="105.0" y="42.0" width="3.4" height="3.4" fill="#3ad830"/><rect x="108.0" y="42.0" width="3.4" height="3.4" fill="#3ad830"/><rect x="111.0" y="42.0" width="3.4" height="3.4" fill="#3ad830"/><rect x="45.0" y="45.0" width="3.4" height="3.4" fill="#7a2ab0"/><rect x="48.0" y="45.0" width="3.4" height="3.4" fill="#2290e0"/><rect x="51.0" y="45.0" width="3.4" height="3.4" fill="#1e40d8"/><rect x="54.0" y="45.0" width="3.4" height="3.4" fill="#22b4dc"/><rect x="57.0" y="45.0" width="3.4" height="3.4" fill="#22bcb0"/><rect x="60.0" y="45.0" width="3.4" height="3.4" fill="#22bcb0"/><rect x="63.0" y="45.0" width="3.4" height="3.4" fill="#22b4dc"/><rect x="96.0" y="45.0" width="3.4" height="3.4" fill="#22b4dc"/><rect x="99.0" y="45.0" width="3.4" height="3.4" fill="#18b420"/><rect x="102.0" y="45.0" width="3.4" height="3.4" fill="#18b420"/><rect x="105.0" y="45.0" width="3.4" height="3.4" fill="#3ad830"/><rect x="108.0" y="45.0" width="3.4" height="3.4" fill="#18b420"/><rect x="111.0" y="45.0" width="3.4" height="3.4" fill="#3ad830"/><rect x="45.0" y="48.0" width="3.4" height="3.4" fill="#1e40d8"/><rect x="48.0" y="48.0" width="3.4" height="3.4" fill="#1e40d8"/><rect x="51.0" y="48.0" width="3.4" height="3.4" fill="#2290e0"/><rect x="54.0" y="48.0" width="3.4" height="3.4" fill="#22b4dc"/><rect x="57.0" y="48.0" width="3.4" height="3.4" fill="#22b4dc"/><rect x="60.0" y="48.0" width="3.4" height="3.4" fill="#22b4dc"/><rect x="63.0" y="48.0" width="3.4" height="3.4" fill="#22bcb0"/><rect x="96.0" y="48.0" width="3.4" height="3.4" fill="#3ad830"/><rect x="99.0" y="48.0" width="3.4" height="3.4" fill="#18b420"/><rect x="102.0" y="48.0" width="3.4" height="3.4" fill="#3ad830"/><rect x="105.0" y="48.0" width="3.4" height="3.4" fill="#18b420"/><rect x="108.0" y="48.0" width="3.4" height="3.4" fill="#18b420"/><rect x="111.0" y="48.0" width="3.4" height="3.4" fill="#22bcb0"/><rect x="114.0" y="48.0" width="3.4" height="3.4" fill="#3ad830"/><rect x="45.0" y="51.0" width="3.4" height="3.4" fill="#22b4dc"/><rect x="48.0" y="51.0" width="3.4" height="3.4" fill="#22b4dc"/><rect x="51.0" y="51.0" width="3.4" height="3.4" fill="#1e40d8"/><rect x="54.0" y="51.0" width="3.4" height="3.4" fill="#22b4dc"/><rect x="57.0" y="51.0" width="3.4" height="3.4" fill="#22b4dc"/><rect x="60.0" y="51.0" width="3.4" height="3.4" fill="#22b4dc"/><rect x="63.0" y="51.0" width="3.4" height="3.4" fill="#22bcb0"/><rect x="96.0" y="51.0" width="3.4" height="3.4" fill="#3ad830"/><rect x="99.0" y="51.0" width="3.4" height="3.4" fill="#3ad830"/><rect x="102.0" y="51.0" width="3.4" height="3.4" fill="#3ad830"/><rect x="105.0" y="51.0" width="3.4" height="3.4" fill="#3ad830"/><rect x="108.0" y="51.0" width="3.4" height="3.4" fill="#22bcb0"/><rect x="111.0" y="51.0" width="3.4" height="3.4" fill="#22b4dc"/><rect x="45.0" y="54.0" width="3.4" height="3.4" fill="#22b4dc"/><rect x="48.0" y="54.0" width="3.4" height="3.4" fill="#2290e0"/><rect x="51.0" y="54.0" width="3.4" height="3.4" fill="#22b4dc"/><rect x="54.0" y="54.0" width="3.4" height="3.4" fill="#22b4dc"/><rect x="57.0" y="54.0" width="3.4" height="3.4" fill="#22b4dc"/><rect x="60.0" y="54.0" width="3.4" height="3.4" fill="#22b4dc"/><rect x="63.0" y="54.0" width="3.4" height="3.4" fill="#22b4dc"/><rect x="93.0" y="54.0" width="3.4" height="3.4" fill="#3ad830"/><rect x="96.0" y="54.0" width="3.4" height="3.4" fill="#3ad830"/><rect x="99.0" y="54.0" width="3.4" height="3.4" fill="#3ad830"/><rect x="102.0" y="54.0" width="3.4" height="3.4" fill="#3ad830"/><rect x="105.0" y="54.0" width="3.4" height="3.4" fill="#3ad830"/><rect x="108.0" y="54.0" width="3.4" height="3.4" fill="#18b420"/><rect x="111.0" y="54.0" width="3.4" height="3.4" fill="#18b420"/><rect x="48.0" y="57.0" width="3.4" height="3.4" fill="#22bcb0"/><rect x="51.0" y="57.0" width="3.4" height="3.4" fill="#22bcb0"/><rect x="54.0" y="57.0" width="3.4" height="3.4" fill="#22bcb0"/><rect x="57.0" y="57.0" width="3.4" height="3.4" fill="#22b4dc"/><rect x="60.0" y="57.0" width="3.4" height="3.4" fill="#22b4dc"/><rect x="93.0" y="57.0" width="3.4" height="3.4" fill="#a8e024"/><rect x="96.0" y="57.0" width="3.4" height="3.4" fill="#3ad830"/><rect x="99.0" y="57.0" width="3.4" height="3.4" fill="#3ad830"/><rect x="102.0" y="57.0" width="3.4" height="3.4" fill="#3ad830"/><rect x="105.0" y="57.0" width="3.4" height="3.4" fill="#3ad830"/><rect x="108.0" y="57.0" width="3.4" height="3.4" fill="#3ad830"/><rect x="111.0" y="57.0" width="3.4" height="3.4" fill="#22bcb0"/><rect x="48.0" y="60.0" width="3.4" height="3.4" fill="#22b4dc"/><rect x="51.0" y="60.0" width="3.4" height="3.4" fill="#22bcb0"/><rect x="54.0" y="60.0" width="3.4" height="3.4" fill="#18b420"/><rect x="57.0" y="60.0" width="3.4" height="3.4" fill="#22b4dc"/><rect x="60.0" y="60.0" width="3.4" height="3.4" fill="#2290e0"/><rect x="63.0" y="60.0" width="3.4" height="3.4" fill="#2290e0"/><rect x="96.0" y="60.0" width="3.4" height="3.4" fill="#3ad830"/><rect x="99.0" y="60.0" width="3.4" height="3.4" fill="#3ad830"/><rect x="102.0" y="60.0" width="3.4" height="3.4" fill="#3ad830"/><rect x="105.0" y="60.0" width="3.4" height="3.4" fill="#3ad830"/><rect x="108.0" y="60.0" width="3.4" height="3.4" fill="#3ad830"/><rect x="111.0" y="60.0" width="3.4" height="3.4" fill="#18b420"/><rect x="48.0" y="63.0" width="3.4" height="3.4" fill="#2290e0"/><rect x="51.0" y="63.0" width="3.4" height="3.4" fill="#22bcb0"/><rect x="54.0" y="63.0" width="3.4" height="3.4" fill="#22bcb0"/><rect x="57.0" y="63.0" width="3.4" height="3.4" fill="#22b4dc"/><rect x="60.0" y="63.0" width="3.4" height="3.4" fill="#2290e0"/><rect x="63.0" y="63.0" width="3.4" height="3.4" fill="#22b4dc"/><rect x="66.0" y="63.0" width="3.4" height="3.4" fill="#22b4dc"/><rect x="93.0" y="63.0" width="3.4" height="3.4" fill="#3ad830"/><rect x="96.0" y="63.0" width="3.4" height="3.4" fill="#22bcb0"/><rect x="99.0" y="63.0" width="3.4" height="3.4" fill="#18b420"/><rect x="102.0" y="63.0" width="3.4" height="3.4" fill="#3ad830"/><rect x="105.0" y="63.0" width="3.4" height="3.4" fill="#3ad830"/><rect x="108.0" y="63.0" width="3.4" height="3.4" fill="#18b420"/><rect x="54.0" y="66.0" width="3.4" height="3.4" fill="#22b4dc"/><rect x="57.0" y="66.0" width="3.4" height="3.4" fill="#22b4dc"/><rect x="60.0" y="66.0" width="3.4" height="3.4" fill="#22b4dc"/><rect x="63.0" y="66.0" width="3.4" height="3.4" fill="#2290e0"/><rect x="66.0" y="66.0" width="3.4" height="3.4" fill="#22b4dc"/><rect x="69.0" y="66.0" width="3.4" height="3.4" fill="#1e40d8"/><rect x="90.0" y="66.0" width="3.4" height="3.4" fill="#3ad830"/><rect x="93.0" y="66.0" width="3.4" height="3.4" fill="#18b420"/><rect x="96.0" y="66.0" width="3.4" height="3.4" fill="#22bcb0"/><rect x="99.0" y="66.0" width="3.4" height="3.4" fill="#22bcb0"/><rect x="102.0" y="66.0" width="3.4" height="3.4" fill="#18b420"/><rect x="105.0" y="66.0" width="3.4" height="3.4" fill="#3ad830"/><rect x="108.0" y="66.0" width="3.4" height="3.4" fill="#3ad830"/><rect x="57.0" y="69.0" width="3.4" height="3.4" fill="#22b4dc"/><rect x="60.0" y="69.0" width="3.4" height="3.4" fill="#2290e0"/><rect x="63.0" y="69.0" width="3.4" height="3.4" fill="#2290e0"/><rect x="66.0" y="69.0" width="3.4" height="3.4" fill="#2290e0"/><rect x="69.0" y="69.0" width="3.4" height="3.4" fill="#22b4dc"/><rect x="72.0" y="69.0" width="3.4" height="3.4" fill="#2290e0"/><rect x="75.0" y="69.0" width="3.4" height="3.4" fill="#1e40d8"/><rect x="78.0" y="69.0" width="3.4" height="3.4" fill="#1e40d8"/><rect x="81.0" y="69.0" width="3.4" height="3.4" fill="#1e40d8"/><rect x="84.0" y="69.0" width="3.4" height="3.4" fill="#22bcb0"/><rect x="87.0" y="69.0" width="3.4" height="3.4" fill="#22bcb0"/><rect x="90.0" y="69.0" width="3.4" height="3.4" fill="#22bcb0"/><rect x="93.0" y="69.0" width="3.4" height="3.4" fill="#18b420"/><rect x="96.0" y="69.0" width="3.4" height="3.4" fill="#22b4dc"/><rect x="99.0" y="69.0" width="3.4" height="3.4" fill="#22b4dc"/><rect x="102.0" y="69.0" width="3.4" height="3.4" fill="#22bcb0"/><rect x="60.0" y="72.0" width="3.4" height="3.4" fill="#2290e0"/><rect x="63.0" y="72.0" width="3.4" height="3.4" fill="#1e40d8"/><rect x="66.0" y="72.0" width="3.4" height="3.4" fill="#2290e0"/><rect x="69.0" y="72.0" width="3.4" height="3.4" fill="#2290e0"/><rect x="72.0" y="72.0" width="3.4" height="3.4" fill="#2290e0"/><rect x="75.0" y="72.0" width="3.4" height="3.4" fill="#7a2ab0"/><rect x="78.0" y="72.0" width="3.4" height="3.4" fill="#7a2ab0"/><rect x="81.0" y="72.0" width="3.4" height="3.4" fill="#1e40d8"/><rect x="84.0" y="72.0" width="3.4" height="3.4" fill="#22b4dc"/><rect x="87.0" y="72.0" width="3.4" height="3.4" fill="#22b4dc"/><rect x="90.0" y="72.0" width="3.4" height="3.4" fill="#22bcb0"/><rect x="93.0" y="72.0" width="3.4" height="3.4" fill="#22bcb0"/><rect x="96.0" y="72.0" width="3.4" height="3.4" fill="#22bcb0"/><rect x="99.0" y="72.0" width="3.4" height="3.4" fill="#22b4dc"/><rect x="60.0" y="75.0" width="3.4" height="3.4" fill="#2290e0"/><rect x="63.0" y="75.0" width="3.4" height="3.4" fill="#22b4dc"/><rect x="66.0" y="75.0" width="3.4" height="3.4" fill="#2290e0"/><rect x="69.0" y="75.0" width="3.4" height="3.4" fill="#22b4dc"/><rect x="72.0" y="75.0" width="3.4" height="3.4" fill="#2290e0"/><rect x="75.0" y="75.0" width="3.4" height="3.4" fill="#1e40d8"/><rect x="78.0" y="75.0" width="3.4" height="3.4" fill="#7a2ab0"/><rect x="81.0" y="75.0" width="3.4" height="3.4" fill="#3a1470"/><rect x="84.0" y="75.0" width="3.4" height="3.4" fill="#22b4dc"/><rect x="87.0" y="75.0" width="3.4" height="3.4" fill="#22b4dc"/><rect x="90.0" y="75.0" width="3.4" height="3.4" fill="#22bcb0"/><rect x="93.0" y="75.0" width="3.4" height="3.4" fill="#22b4dc"/><rect x="96.0" y="75.0" width="3.4" height="3.4" fill="#22b4dc"/><rect x="66.0" y="78.0" width="3.4" height="3.4" fill="#22b4dc"/><rect x="69.0" y="78.0" width="3.4" height="3.4" fill="#22b4dc"/><rect x="72.0" y="78.0" width="3.4" height="3.4" fill="#22b4dc"/><rect x="75.0" y="78.0" width="3.4" height="3.4" fill="#2290e0"/><rect x="78.0" y="78.0" width="3.4" height="3.4" fill="#2290e0"/><rect x="81.0" y="78.0" width="3.4" height="3.4" fill="#1e40d8"/><rect x="84.0" y="78.0" width="3.4" height="3.4" fill="#22b4dc"/><rect x="87.0" y="78.0" width="3.4" height="3.4" fill="#18b420"/><rect x="90.0" y="78.0" width="3.4" height="3.4" fill="#18b420"/></g>
</g>
<g transform="translate(152,126)" clip-path="url(#pc)">
<g filter="url(#grain)"><rect x="-5" y="-5" width="140" height="110" fill="#777"/><ellipse cx="30" cy="50" rx="16" ry="50" fill="#8c8c8c"/><path d="M9,0 C10,30 11,60 12,100" fill="none" stroke="#959595" stroke-width="6"/><path d="M20,0 C20,30 21,60 22,100" fill="none" stroke="#585858" stroke-width="3.5"/><path d="M26,14 C30,22 36,32 42,42" fill="none" stroke="#969696" stroke-width="7"/><path d="M8,98 C20,80 30,66 40,56" fill="none" stroke="#8e8e8e" stroke-width="6"/><ellipse cx="46" cy="62" rx="5" ry="24" fill="#4c4c4c"/><rect x="-5" y="-5" width="7" height="110" fill="#1e1e1e"/><ellipse cx="95" cy="3" rx="40" ry="8" fill="#383838"/><ellipse cx="41" cy="8" rx="8" ry="7" fill="#9c9c9c"/><ellipse cx="29" cy="12" rx="4" ry="7" fill="#3a3a3a"/><ellipse cx="128" cy="50" rx="9" ry="52" fill="#262626"/><ellipse cx="82" cy="50" rx="40" ry="38" fill="#5a5a5a"/><ellipse cx="108" cy="84" rx="18" ry="6" fill="#858585" transform="rotate(-30 108 84)"/><ellipse cx="70" cy="96" rx="30" ry="5" fill="#4a4a4a"/><ellipse cx="78" cy="52" rx="17" ry="19" fill="#5c5c5c"/><ellipse cx="72" cy="58" rx="10" ry="10" fill="#747474"/><ellipse cx="86" cy="44" rx="7" ry="8" fill="#4c4c4c"/></g>
<g filter="url(#b05)"><rect x="66.0" y="12.0" width="3.4" height="3.4" fill="#3a1470"/><rect x="69.0" y="12.0" width="3.4" height="3.4" fill="#1e40d8"/><rect x="75.0" y="12.0" width="3.4" height="3.4" fill="#3a1470"/><rect x="60.0" y="15.0" width="3.4" height="3.4" fill="#7a2ab0"/><rect x="63.0" y="15.0" width="3.4" height="3.4" fill="#1e40d8"/><rect x="66.0" y="15.0" width="3.4" height="3.4" fill="#7a2ab0"/><rect x="69.0" y="15.0" width="3.4" height="3.4" fill="#1e40d8"/><rect x="72.0" y="15.0" width="3.4" height="3.4" fill="#2290e0"/><rect x="75.0" y="15.0" width="3.4" height="3.4" fill="#1e40d8"/><rect x="78.0" y="15.0" width="3.4" height="3.4" fill="#1e40d8"/><rect x="81.0" y="15.0" width="3.4" height="3.4" fill="#7a2ab0"/><rect x="84.0" y="15.0" width="3.4" height="3.4" fill="#22b4dc"/><rect x="87.0" y="15.0" width="3.4" height="3.4" fill="#22b4dc"/><rect x="90.0" y="15.0" width="3.4" height="3.4" fill="#22b4dc"/><rect x="51.0" y="18.0" width="3.4" height="3.4" fill="#7a2ab0"/><rect x="54.0" y="18.0" width="3.4" height="3.4" fill="#2290e0"/><rect x="57.0" y="18.0" width="3.4" height="3.4" fill="#2290e0"/><rect x="60.0" y="18.0" width="3.4" height="3.4" fill="#1e40d8"/><rect x="63.0" y="18.0" width="3.4" height="3.4" fill="#3a1470"/><rect x="66.0" y="18.0" width="3.4" height="3.4" fill="#7a2ab0"/><rect x="69.0" y="18.0" width="3.4" height="3.4" fill="#2290e0"/><rect x="72.0" y="18.0" width="3.4" height="3.4" fill="#2290e0"/><rect x="75.0" y="18.0" width="3.4" height="3.4" fill="#7a2ab0"/><rect x="78.0" y="18.0" width="3.4" height="3.4" fill="#7a2ab0"/><rect x="81.0" y="18.0" width="3.4" height="3.4" fill="#7a2ab0"/><rect x="84.0" y="18.0" width="3.4" height="3.4" fill="#2290e0"/><rect x="87.0" y="18.0" width="3.4" height="3.4" fill="#22bcb0"/><rect x="90.0" y="18.0" width="3.4" height="3.4" fill="#22bcb0"/><rect x="93.0" y="18.0" width="3.4" height="3.4" fill="#3ad830"/><rect x="96.0" y="18.0" width="3.4" height="3.4" fill="#22b4dc"/><rect x="45.0" y="21.0" width="3.4" height="3.4" fill="#7a2ab0"/><rect x="48.0" y="21.0" width="3.4" height="3.4" fill="#1e40d8"/><rect x="51.0" y="21.0" width="3.4" height="3.4" fill="#7a2ab0"/><rect x="54.0" y="21.0" width="3.4" height="3.4" fill="#1e40d8"/><rect x="57.0" y="21.0" width="3.4" height="3.4" fill="#2290e0"/><rect x="60.0" y="21.0" width="3.4" height="3.4" fill="#7a2ab0"/><rect x="63.0" y="21.0" width="3.4" height="3.4" fill="#7a2ab0"/><rect x="66.0" y="21.0" width="3.4" height="3.4" fill="#2290e0"/><rect x="69.0" y="21.0" width="3.4" height="3.4" fill="#2290e0"/><rect x="72.0" y="21.0" width="3.4" height="3.4" fill="#1e40d8"/><rect x="75.0" y="21.0" width="3.4" height="3.4" fill="#7a2ab0"/><rect x="78.0" y="21.0" width="3.4" height="3.4" fill="#1e40d8"/><rect x="81.0" y="21.0" width="3.4" height="3.4" fill="#7a2ab0"/><rect x="84.0" y="21.0" width="3.4" height="3.4" fill="#2290e0"/><rect x="87.0" y="21.0" width="3.4" height="3.4" fill="#18b420"/><rect x="90.0" y="21.0" width="3.4" height="3.4" fill="#22bcb0"/><rect x="93.0" y="21.0" width="3.4" height="3.4" fill="#22bcb0"/><rect x="96.0" y="21.0" width="3.4" height="3.4" fill="#3ad830"/><rect x="99.0" y="21.0" width="3.4" height="3.4" fill="#3ad830"/><rect x="45.0" y="24.0" width="3.4" height="3.4" fill="#7a2ab0"/><rect x="48.0" y="24.0" width="3.4" height="3.4" fill="#141020"/><rect x="51.0" y="24.0" width="3.4" height="3.4" fill="#7a2ab0"/><rect x="54.0" y="24.0" width="3.4" height="3.4" fill="#1e40d8"/><rect x="57.0" y="24.0" width="3.4" height="3.4" fill="#2290e0"/><rect x="60.0" y="24.0" width="3.4" height="3.4" fill="#1e40d8"/><rect x="63.0" y="24.0" width="3.4" height="3.4" fill="#7a2ab0"/><rect x="66.0" y="24.0" width="3.4" height="3.4" fill="#2290e0"/><rect x="69.0" y="24.0" width="3.4" height="3.4" fill="#1e40d8"/><rect x="72.0" y="24.0" width="3.4" height="3.4" fill="#2290e0"/><rect x="75.0" y="24.0" width="3.4" height="3.4" fill="#22b4dc"/><rect x="78.0" y="24.0" width="3.4" height="3.4" fill="#7a2ab0"/><rect x="81.0" y="24.0" width="3.4" height="3.4" fill="#3ad830"/><rect x="84.0" y="24.0" width="3.4" height="3.4" fill="#2290e0"/><rect x="87.0" y="24.0" width="3.4" height="3.4" fill="#18b420"/><rect x="90.0" y="24.0" width="3.4" height="3.4" fill="#3ad830"/><rect x="93.0" y="24.0" width="3.4" height="3.4" fill="#22bcb0"/><rect x="96.0" y="24.0" width="3.4" height="3.4" fill="#3ad830"/><rect x="99.0" y="24.0" width="3.4" height="3.4" fill="#22b4dc"/><rect x="39.0" y="27.0" width="3.4" height="3.4" fill="#2290e0"/><rect x="42.0" y="27.0" width="3.4" height="3.4" fill="#141020"/><rect x="45.0" y="27.0" width="3.4" height="3.4" fill="#3a1470"/><rect x="48.0" y="27.0" width="3.4" height="3.4" fill="#3a1470"/><rect x="51.0" y="27.0" width="3.4" height="3.4" fill="#7a2ab0"/><rect x="54.0" y="27.0" width="3.4" height="3.4" fill="#2290e0"/><rect x="57.0" y="27.0" width="3.4" height="3.4" fill="#1e40d8"/><rect x="60.0" y="27.0" width="3.4" height="3.4" fill="#1e40d8"/><rect x="63.0" y="27.0" width="3.4" height="3.4" fill="#2290e0"/><rect x="81.0" y="27.0" width="3.4" height="3.4" fill="#22bcb0"/><rect x="84.0" y="27.0" width="3.4" height="3.4" fill="#22bcb0"/><rect x="87.0" y="27.0" width="3.4" height="3.4" fill="#2290e0"/><rect x="90.0" y="27.0" width="3.4" height="3.4" fill="#22b4dc"/><rect x="93.0" y="27.0" width="3.4" height="3.4" fill="#22b4dc"/><rect x="96.0" y="27.0" width="3.4" height="3.4" fill="#22b4dc"/><rect x="99.0" y="27.0" width="3.4" height="3.4" fill="#22b4dc"/><rect x="102.0" y="27.0" width="3.4" height="3.4" fill="#2290e0"/><rect x="105.0" y="27.0" width="3.4" height="3.4" fill="#22b4dc"/><rect x="42.0" y="30.0" width="3.4" height="3.4" fill="#3a1470"/><rect x="45.0" y="30.0" width="3.4" height="3.4" fill="#3a1470"/><rect x="48.0" y="30.0" width="3.4" height="3.4" fill="#3a1470"/><rect x="51.0" y="30.0" width="3.4" height="3.4" fill="#7a2ab0"/><rect x="54.0" y="30.0" width="3.4" height="3.4" fill="#1e40d8"/><rect x="57.0" y="30.0" width="3.4" height="3.4" fill="#3a1470"/><rect x="84.0" y="30.0" width="3.4" height="3.4" fill="#22bcb0"/><rect x="87.0" y="30.0" width="3.4" height="3.4" fill="#22b4dc"/><rect x="90.0" y="30.0" width="3.4" height="3.4" fill="#22b4dc"/><rect x="93.0" y="30.0" width="3.4" height="3.4" fill="#22bcb0"/><rect x="96.0" y="30.0" width="3.4" height="3.4" fill="#2290e0"/><rect x="99.0" y="30.0" width="3.4" height="3.4" fill="#7a2ab0"/><rect x="102.0" y="30.0" width="3.4" height="3.4" fill="#7a2ab0"/><rect x="105.0" y="30.0" width="3.4" height="3.4" fill="#22b4dc"/><rect x="39.0" y="33.0" width="3.4" height="3.4" fill="#1e40d8"/><rect x="42.0" y="33.0" width="3.4" height="3.4" fill="#1e40d8"/><rect x="45.0" y="33.0" width="3.4" height="3.4" fill="#7a2ab0"/><rect x="48.0" y="33.0" width="3.4" height="3.4" fill="#7a2ab0"/><rect x="51.0" y="33.0" width="3.4" height="3.4" fill="#3a1470"/><rect x="54.0" y="33.0" width="3.4" height="3.4" fill="#7a2ab0"/><rect x="87.0" y="33.0" width="3.4" height="3.4" fill="#22b4dc"/><rect x="90.0" y="33.0" width="3.4" height="3.4" fill="#22b4dc"/><rect x="93.0" y="33.0" width="3.4" height="3.4" fill="#2290e0"/><rect x="96.0" y="33.0" width="3.4" height="3.4" fill="#2290e0"/><rect x="99.0" y="33.0" width="3.4" height="3.4" fill="#1e40d8"/><rect x="102.0" y="33.0" width="3.4" height="3.4" fill="#1e40d8"/><rect x="105.0" y="33.0" width="3.4" height="3.4" fill="#1e40d8"/><rect x="108.0" y="33.0" width="3.4" height="3.4" fill="#22b4dc"/><rect x="36.0" y="36.0" width="3.4" height="3.4" fill="#3a1470"/><rect x="39.0" y="36.0" width="3.4" height="3.4" fill="#2290e0"/><rect x="42.0" y="36.0" width="3.4" height="3.4" fill="#1e40d8"/><rect x="45.0" y="36.0" width="3.4" height="3.4" fill="#3a1470"/><rect x="48.0" y="36.0" width="3.4" height="3.4" fill="#7a2ab0"/><rect x="51.0" y="36.0" width="3.4" height="3.4" fill="#2290e0"/><rect x="90.0" y="36.0" width="3.4" height="3.4" fill="#22b4dc"/><rect x="93.0" y="36.0" width="3.4" height="3.4" fill="#22b4dc"/><rect x="96.0" y="36.0" width="3.4" height="3.4" fill="#22b4dc"/><rect x="99.0" y="36.0" width="3.4" height="3.4" fill="#22bcb0"/><rect x="102.0" y="36.0" width="3.4" height="3.4" fill="#22b4dc"/><rect x="105.0" y="36.0" width="3.4" height="3.4" fill="#1e40d8"/><rect x="108.0" y="36.0" width="3.4" height="3.4" fill="#22b4dc"/><rect x="36.0" y="39.0" width="3.4" height="3.4" fill="#7a2ab0"/><rect x="39.0" y="39.0" width="3.4" height="3.4" fill="#1e40d8"/><rect x="42.0" y="39.0" width="3.4" height="3.4" fill="#2290e0"/><rect x="45.0" y="39.0" width="3.4" height="3.4" fill="#2290e0"/><rect x="48.0" y="39.0" width="3.4" height="3.4" fill="#1e40d8"/><rect x="51.0" y="39.0" width="3.4" height="3.4" fill="#1e40d8"/><rect x="93.0" y="39.0" width="3.4" height="3.4" fill="#22b4dc"/><rect x="96.0" y="39.0" width="3.4" height="3.4" fill="#2290e0"/><rect x="99.0" y="39.0" width="3.4" height="3.4" fill="#3ad830"/><rect x="102.0" y="39.0" width="3.4" height="3.4" fill="#18b420"/><rect x="105.0" y="39.0" width="3.4" height="3.4" fill="#18b420"/><rect x="108.0" y="39.0" width="3.4" height="3.4" fill="#22b4dc"/><rect x="36.0" y="42.0" width="3.4" height="3.4" fill="#1e40d8"/><rect x="39.0" y="42.0" width="3.4" height="3.4" fill="#22b4dc"/><rect x="42.0" y="42.0" width="3.4" height="3.4" fill="#1e40d8"/><rect x="45.0" y="42.0" width="3.4" height="3.4" fill="#2290e0"/><rect x="48.0" y="42.0" width="3.4" height="3.4" fill="#1e40d8"/><rect x="93.0" y="42.0" width="3.4" height="3.4" fill="#3ad830"/><rect x="96.0" y="42.0" width="3.4" height="3.4" fill="#3ad830"/><rect x="99.0" y="42.0" width="3.4" height="3.4" fill="#3ad830"/><rect x="102.0" y="42.0" width="3.4" height="3.4" fill="#3ad830"/><rect x="105.0" y="42.0" width="3.4" height="3.4" fill="#3ad830"/><rect x="108.0" y="42.0" width="3.4" height="3.4" fill="#3ad830"/><rect x="36.0" y="45.0" width="3.4" height="3.4" fill="#1e40d8"/><rect x="39.0" y="45.0" width="3.4" height="3.4" fill="#2290e0"/><rect x="42.0" y="45.0" width="3.4" height="3.4" fill="#2290e0"/><rect x="45.0" y="45.0" width="3.4" height="3.4" fill="#7a2ab0"/><rect x="48.0" y="45.0" width="3.4" height="3.4" fill="#1e40d8"/><rect x="93.0" y="45.0" width="3.4" height="3.4" fill="#3ad830"/><rect x="96.0" y="45.0" width="3.4" height="3.4" fill="#18b420"/><rect x="99.0" y="45.0" width="3.4" height="3.4" fill="#e6e228"/><rect x="102.0" y="45.0" width="3.4" height="3.4" fill="#3ad830"/><rect x="105.0" y="45.0" width="3.4" height="3.4" fill="#3ad830"/><rect x="108.0" y="45.0" width="3.4" height="3.4" fill="#3ad830"/><rect x="36.0" y="48.0" width="3.4" height="3.4" fill="#1e40d8"/><rect x="39.0" y="48.0" width="3.4" height="3.4" fill="#22b4dc"/><rect x="42.0" y="48.0" width="3.4" height="3.4" fill="#1e40d8"/><rect x="45.0" y="48.0" width="3.4" height="3.4" fill="#7a2ab0"/><rect x="48.0" y="48.0" width="3.4" height="3.4" fill="#1e40d8"/><rect x="93.0" y="48.0" width="3.4" height="3.4" fill="#3ad830"/><rect x="96.0" y="48.0" width="3.4" height="3.4" fill="#18b420"/><rect x="99.0" y="48.0" width="3.4" height="3.4" fill="#3ad830"/><rect x="102.0" y="48.0" width="3.4" height="3.4" fill="#3ad830"/><rect x="105.0" y="48.0" width="3.4" height="3.4" fill="#3ad830"/><rect x="108.0" y="48.0" width="3.4" height="3.4" fill="#3ad830"/><rect x="111.0" y="48.0" width="3.4" height="3.4" fill="#a8e024"/><rect x="36.0" y="51.0" width="3.4" height="3.4" fill="#7a2ab0"/><rect x="39.0" y="51.0" width="3.4" height="3.4" fill="#3a1470"/><rect x="42.0" y="51.0" width="3.4" height="3.4" fill="#1e40d8"/><rect x="45.0" y="51.0" width="3.4" height="3.4" fill="#1e40d8"/><rect x="48.0" y="51.0" width="3.4" height="3.4" fill="#2290e0"/><rect x="96.0" y="51.0" width="3.4" height="3.4" fill="#3ad830"/><rect x="99.0" y="51.0" width="3.4" height="3.4" fill="#3ad830"/><rect x="102.0" y="51.0" width="3.4" height="3.4" fill="#3ad830"/><rect x="105.0" y="51.0" width="3.4" height="3.4" fill="#3ad830"/><rect x="108.0" y="51.0" width="3.4" height="3.4" fill="#a8e024"/><rect x="36.0" y="54.0" width="3.4" height="3.4" fill="#1e40d8"/><rect x="39.0" y="54.0" width="3.4" height="3.4" fill="#7a2ab0"/><rect x="42.0" y="54.0" width="3.4" height="3.4" fill="#7a2ab0"/><rect x="45.0" y="54.0" width="3.4" height="3.4" fill="#1e40d8"/><rect x="48.0" y="54.0" width="3.4" height="3.4" fill="#7a2ab0"/><rect x="93.0" y="54.0" width="3.4" height="3.4" fill="#3ad830"/><rect x="96.0" y="54.0" width="3.4" height="3.4" fill="#3ad830"/><rect x="99.0" y="54.0" width="3.4" height="3.4" fill="#3ad830"/><rect x="102.0" y="54.0" width="3.4" height="3.4" fill="#3ad830"/><rect x="105.0" y="54.0" width="3.4" height="3.4" fill="#18b420"/><rect x="108.0" y="54.0" width="3.4" height="3.4" fill="#3ad830"/><rect x="36.0" y="57.0" width="3.4" height="3.4" fill="#1e40d8"/><rect x="39.0" y="57.0" width="3.4" height="3.4" fill="#1e40d8"/><rect x="42.0" y="57.0" width="3.4" height="3.4" fill="#3a1470"/><rect x="45.0" y="57.0" width="3.4" height="3.4" fill="#2290e0"/><rect x="48.0" y="57.0" width="3.4" height="3.4" fill="#7a2ab0"/><rect x="93.0" y="57.0" width="3.4" height="3.4" fill="#3ad830"/><rect x="96.0" y="57.0" width="3.4" height="3.4" fill="#3ad830"/><rect x="99.0" y="57.0" width="3.4" height="3.4" fill="#3ad830"/><rect x="102.0" y="57.0" width="3.4" height="3.4" fill="#18b420"/><rect x="105.0" y="57.0" width="3.4" height="3.4" fill="#22bcb0"/><rect x="108.0" y="57.0" width="3.4" height="3.4" fill="#3ad830"/><rect x="39.0" y="60.0" width="3.4" height="3.4" fill="#1e40d8"/><rect x="42.0" y="60.0" width="3.4" height="3.4" fill="#2290e0"/><rect x="45.0" y="60.0" width="3.4" height="3.4" fill="#22b4dc"/><rect x="48.0" y="60.0" width="3.4" height="3.4" fill="#7a2ab0"/><rect x="51.0" y="60.0" width="3.4" height="3.4" fill="#1e40d8"/><rect x="90.0" y="60.0" width="3.4" height="3.4" fill="#3ad830"/><rect x="93.0" y="60.0" width="3.4" height="3.4" fill="#3ad830"/><rect x="96.0" y="60.0" width="3.4" height="3.4" fill="#3ad830"/><rect x="99.0" y="60.0" width="3.4" height="3.4" fill="#3ad830"/><rect x="102.0" y="60.0" width="3.4" height="3.4" fill="#18b420"/><rect x="105.0" y="60.0" width="3.4" height="3.4" fill="#22bcb0"/><rect x="39.0" y="63.0" width="3.4" height="3.4" fill="#2290e0"/><rect x="42.0" y="63.0" width="3.4" height="3.4" fill="#1e40d8"/><rect x="45.0" y="63.0" width="3.4" height="3.4" fill="#7a2ab0"/><rect x="48.0" y="63.0" width="3.4" height="3.4" fill="#7a2ab0"/><rect x="51.0" y="63.0" width="3.4" height="3.4" fill="#7a2ab0"/><rect x="90.0" y="63.0" width="3.4" height="3.4" fill="#3ad830"/><rect x="93.0" y="63.0" width="3.4" height="3.4" fill="#3ad830"/><rect x="96.0" y="63.0" width="3.4" height="3.4" fill="#3ad830"/><rect x="99.0" y="63.0" width="3.4" height="3.4" fill="#18b420"/><rect x="102.0" y="63.0" width="3.4" height="3.4" fill="#18b420"/><rect x="105.0" y="63.0" width="3.4" height="3.4" fill="#3ad830"/><rect x="42.0" y="66.0" width="3.4" height="3.4" fill="#1e40d8"/><rect x="45.0" y="66.0" width="3.4" height="3.4" fill="#1e40d8"/><rect x="48.0" y="66.0" width="3.4" height="3.4" fill="#7a2ab0"/><rect x="51.0" y="66.0" width="3.4" height="3.4" fill="#2290e0"/><rect x="54.0" y="66.0" width="3.4" height="3.4" fill="#1e40d8"/><rect x="90.0" y="66.0" width="3.4" height="3.4" fill="#3ad830"/><rect x="93.0" y="66.0" width="3.4" height="3.4" fill="#18b420"/><rect x="96.0" y="66.0" width="3.4" height="3.4" fill="#3ad830"/><rect x="99.0" y="66.0" width="3.4" height="3.4" fill="#18b420"/><rect x="102.0" y="66.0" width="3.4" height="3.4" fill="#22bcb0"/><rect x="48.0" y="69.0" width="3.4" height="3.4" fill="#1e40d8"/><rect x="51.0" y="69.0" width="3.4" height="3.4" fill="#2290e0"/><rect x="54.0" y="69.0" width="3.4" height="3.4" fill="#1e40d8"/><rect x="57.0" y="69.0" width="3.4" height="3.4" fill="#22b4dc"/><rect x="60.0" y="69.0" width="3.4" height="3.4" fill="#2290e0"/><rect x="93.0" y="69.0" width="3.4" height="3.4" fill="#18b420"/><rect x="96.0" y="69.0" width="3.4" height="3.4" fill="#3ad830"/><rect x="99.0" y="69.0" width="3.4" height="3.4" fill="#18b420"/><rect x="102.0" y="69.0" width="3.4" height="3.4" fill="#3ad830"/><rect x="48.0" y="72.0" width="3.4" height="3.4" fill="#2290e0"/><rect x="51.0" y="72.0" width="3.4" height="3.4" fill="#2290e0"/><rect x="54.0" y="72.0" width="3.4" height="3.4" fill="#2290e0"/><rect x="57.0" y="72.0" width="3.4" height="3.4" fill="#22b4dc"/><rect x="60.0" y="72.0" width="3.4" height="3.4" fill="#2290e0"/><rect x="63.0" y="72.0" width="3.4" height="3.4" fill="#2290e0"/><rect x="66.0" y="72.0" width="3.4" height="3.4" fill="#2290e0"/><rect x="51.0" y="75.0" width="3.4" height="3.4" fill="#2290e0"/><rect x="54.0" y="75.0" width="3.4" height="3.4" fill="#2290e0"/><rect x="57.0" y="75.0" width="3.4" height="3.4" fill="#2290e0"/><rect x="60.0" y="75.0" width="3.4" height="3.4" fill="#1e40d8"/><rect x="63.0" y="75.0" width="3.4" height="3.4" fill="#1e40d8"/><rect x="66.0" y="75.0" width="3.4" height="3.4" fill="#1e40d8"/><rect x="69.0" y="75.0" width="3.4" height="3.4" fill="#7a2ab0"/><rect x="72.0" y="75.0" width="3.4" height="3.4" fill="#2290e0"/><rect x="60.0" y="78.0" width="3.4" height="3.4" fill="#1e40d8"/><rect x="63.0" y="78.0" width="3.4" height="3.4" fill="#1e40d8"/><rect x="66.0" y="78.0" width="3.4" height="3.4" fill="#2290e0"/><rect x="69.0" y="78.0" width="3.4" height="3.4" fill="#7a2ab0"/><rect x="72.0" y="78.0" width="3.4" height="3.4" fill="#1e40d8"/></g>
</g>
<g transform="translate(286,126)" clip-path="url(#pc)">
<g filter="url(#grain)"><rect x="-5" y="-5" width="140" height="110" fill="#777"/><ellipse cx="30" cy="50" rx="16" ry="50" fill="#8c8c8c"/><path d="M9,0 C10,30 11,60 12,100" fill="none" stroke="#959595" stroke-width="6"/><path d="M20,0 C20,30 21,60 22,100" fill="none" stroke="#585858" stroke-width="3.5"/><path d="M26,14 C30,22 36,32 42,42" fill="none" stroke="#969696" stroke-width="7"/><path d="M8,98 C20,80 30,66 40,56" fill="none" stroke="#8e8e8e" stroke-width="6"/><ellipse cx="46" cy="62" rx="5" ry="24" fill="#4c4c4c"/><rect x="-5" y="-5" width="7" height="110" fill="#1e1e1e"/><ellipse cx="95" cy="3" rx="40" ry="8" fill="#383838"/><ellipse cx="48" cy="8" rx="8" ry="7" fill="#9c9c9c"/><ellipse cx="36" cy="12" rx="4" ry="7" fill="#3a3a3a"/><ellipse cx="128" cy="50" rx="9" ry="52" fill="#262626"/><ellipse cx="82" cy="50" rx="40" ry="38" fill="#5a5a5a"/><ellipse cx="108" cy="84" rx="18" ry="6" fill="#858585" transform="rotate(-30 108 84)"/><ellipse cx="70" cy="96" rx="30" ry="5" fill="#4a4a4a"/><ellipse cx="78" cy="52" rx="17" ry="19" fill="#5c5c5c"/><ellipse cx="72" cy="58" rx="10" ry="10" fill="#747474"/><ellipse cx="86" cy="44" rx="7" ry="8" fill="#4c4c4c"/></g>
<g filter="url(#b05)"><rect x="69.0" y="9.0" width="3.4" height="3.4" fill="#22bcb0"/><rect x="72.0" y="9.0" width="3.4" height="3.4" fill="#2290e0"/><rect x="75.0" y="9.0" width="3.4" height="3.4" fill="#22bcb0"/><rect x="78.0" y="9.0" width="3.4" height="3.4" fill="#22bcb0"/><rect x="81.0" y="9.0" width="3.4" height="3.4" fill="#22bcb0"/><rect x="84.0" y="9.0" width="3.4" height="3.4" fill="#22b4dc"/><rect x="87.0" y="9.0" width="3.4" height="3.4" fill="#22b4dc"/><rect x="90.0" y="9.0" width="3.4" height="3.4" fill="#22bcb0"/><rect x="60.0" y="12.0" width="3.4" height="3.4" fill="#7a2ab0"/><rect x="63.0" y="12.0" width="3.4" height="3.4" fill="#1e40d8"/><rect x="66.0" y="12.0" width="3.4" height="3.4" fill="#7a2ab0"/><rect x="69.0" y="12.0" width="3.4" height="3.4" fill="#18b420"/><rect x="72.0" y="12.0" width="3.4" height="3.4" fill="#22b4dc"/><rect x="75.0" y="12.0" width="3.4" height="3.4" fill="#22bcb0"/><rect x="78.0" y="12.0" width="3.4" height="3.4" fill="#3ad830"/><rect x="81.0" y="12.0" width="3.4" height="3.4" fill="#22bcb0"/><rect x="84.0" y="12.0" width="3.4" height="3.4" fill="#18b420"/><rect x="87.0" y="12.0" width="3.4" height="3.4" fill="#22bcb0"/><rect x="90.0" y="12.0" width="3.4" height="3.4" fill="#22b4dc"/><rect x="93.0" y="12.0" width="3.4" height="3.4" fill="#22b4dc"/><rect x="96.0" y="12.0" width="3.4" height="3.4" fill="#22b4dc"/><rect x="99.0" y="12.0" width="3.4" height="3.4" fill="#22b4dc"/><rect x="54.0" y="15.0" width="3.4" height="3.4" fill="#1e40d8"/><rect x="57.0" y="15.0" width="3.4" height="3.4" fill="#1e40d8"/><rect x="60.0" y="15.0" width="3.4" height="3.4" fill="#1e40d8"/><rect x="63.0" y="15.0" width="3.4" height="3.4" fill="#1e40d8"/><rect x="66.0" y="15.0" width="3.4" height="3.4" fill="#1e40d8"/><rect x="69.0" y="15.0" width="3.4" height="3.4" fill="#22bcb0"/><rect x="72.0" y="15.0" width="3.4" height="3.4" fill="#3ad830"/><rect x="75.0" y="15.0" width="3.4" height="3.4" fill="#18b420"/><rect x="78.0" y="15.0" width="3.4" height="3.4" fill="#18b420"/><rect x="81.0" y="15.0" width="3.4" height="3.4" fill="#22bcb0"/><rect x="84.0" y="15.0" width="3.4" height="3.4" fill="#18b420"/><rect x="87.0" y="15.0" width="3.4" height="3.4" fill="#18b420"/><rect x="90.0" y="15.0" width="3.4" height="3.4" fill="#22bcb0"/><rect x="93.0" y="15.0" width="3.4" height="3.4" fill="#22bcb0"/><rect x="96.0" y="15.0" width="3.4" height="3.4" fill="#22bcb0"/><rect x="99.0" y="15.0" width="3.4" height="3.4" fill="#22bcb0"/><rect x="102.0" y="15.0" width="3.4" height="3.4" fill="#22b4dc"/><rect x="51.0" y="18.0" width="3.4" height="3.4" fill="#7a2ab0"/><rect x="54.0" y="18.0" width="3.4" height="3.4" fill="#7a2ab0"/><rect x="57.0" y="18.0" width="3.4" height="3.4" fill="#1e40d8"/><rect x="60.0" y="18.0" width="3.4" height="3.4" fill="#3a1470"/><rect x="63.0" y="18.0" width="3.4" height="3.4" fill="#1e40d8"/><rect x="66.0" y="18.0" width="3.4" height="3.4" fill="#1e40d8"/><rect x="69.0" y="18.0" width="3.4" height="3.4" fill="#22bcb0"/><rect x="72.0" y="18.0" width="3.4" height="3.4" fill="#22bcb0"/><rect x="75.0" y="18.0" width="3.4" height="3.4" fill="#3ad830"/><rect x="78.0" y="18.0" width="3.4" height="3.4" fill="#18b420"/><rect x="81.0" y="18.0" width="3.4" height="3.4" fill="#3ad830"/><rect x="84.0" y="18.0" width="3.4" height="3.4" fill="#22bcb0"/><rect x="87.0" y="18.0" width="3.4" height="3.4" fill="#22bcb0"/><rect x="90.0" y="18.0" width="3.4" height="3.4" fill="#22b4dc"/><rect x="93.0" y="18.0" width="3.4" height="3.4" fill="#3ad830"/><rect x="96.0" y="18.0" width="3.4" height="3.4" fill="#3ad830"/><rect x="99.0" y="18.0" width="3.4" height="3.4" fill="#22bcb0"/><rect x="102.0" y="18.0" width="3.4" height="3.4" fill="#22bcb0"/><rect x="105.0" y="18.0" width="3.4" height="3.4" fill="#22bcb0"/><rect x="108.0" y="18.0" width="3.4" height="3.4" fill="#22bcb0"/><rect x="48.0" y="21.0" width="3.4" height="3.4" fill="#7a2ab0"/><rect x="51.0" y="21.0" width="3.4" height="3.4" fill="#7a2ab0"/><rect x="54.0" y="21.0" width="3.4" height="3.4" fill="#7a2ab0"/><rect x="57.0" y="21.0" width="3.4" height="3.4" fill="#3a1470"/><rect x="60.0" y="21.0" width="3.4" height="3.4" fill="#7a2ab0"/><rect x="63.0" y="21.0" width="3.4" height="3.4" fill="#1e40d8"/><rect x="66.0" y="21.0" width="3.4" height="3.4" fill="#7a2ab0"/><rect x="69.0" y="21.0" width="3.4" height="3.4" fill="#3a1470"/><rect x="72.0" y="21.0" width="3.4" height="3.4" fill="#18b420"/><rect x="75.0" y="21.0" width="3.4" height="3.4" fill="#3ad830"/><rect x="78.0" y="21.0" width="3.4" height="3.4" fill="#3ad830"/><rect x="84.0" y="21.0" width="3.4" height="3.4" fill="#22b4dc"/><rect x="87.0" y="21.0" width="3.4" height="3.4" fill="#2290e0"/><rect x="90.0" y="21.0" width="3.4" height="3.4" fill="#22b4dc"/><rect x="93.0" y="21.0" width="3.4" height="3.4" fill="#18b420"/><rect x="96.0" y="21.0" width="3.4" height="3.4" fill="#22b4dc"/><rect x="99.0" y="21.0" width="3.4" height="3.4" fill="#22bcb0"/><rect x="102.0" y="21.0" width="3.4" height="3.4" fill="#22bcb0"/><rect x="105.0" y="21.0" width="3.4" height="3.4" fill="#22b4dc"/><rect x="108.0" y="21.0" width="3.4" height="3.4" fill="#22bcb0"/><rect x="45.0" y="24.0" width="3.4" height="3.4" fill="#1e40d8"/><rect x="48.0" y="24.0" width="3.4" height="3.4" fill="#3a1470"/><rect x="51.0" y="24.0" width="3.4" height="3.4" fill="#1e40d8"/><rect x="54.0" y="24.0" width="3.4" height="3.4" fill="#1e40d8"/><rect x="57.0" y="24.0" width="3.4" height="3.4" fill="#3a1470"/><rect x="60.0" y="24.0" width="3.4" height="3.4" fill="#3a1470"/><rect x="63.0" y="24.0" width="3.4" height="3.4" fill="#1e40d8"/><rect x="66.0" y="24.0" width="3.4" height="3.4" fill="#7a2ab0"/><rect x="90.0" y="24.0" width="3.4" height="3.4" fill="#1e40d8"/><rect x="93.0" y="24.0" width="3.4" height="3.4" fill="#2290e0"/><rect x="96.0" y="24.0" width="3.4" height="3.4" fill="#22bcb0"/><rect x="99.0" y="24.0" width="3.4" height="3.4" fill="#18b420"/><rect x="102.0" y="24.0" width="3.4" height="3.4" fill="#22b4dc"/><rect x="105.0" y="24.0" width="3.4" height="3.4" fill="#18b420"/><rect x="108.0" y="24.0" width="3.4" height="3.4" fill="#2290e0"/><rect x="111.0" y="24.0" width="3.4" height="3.4" fill="#18b420"/><rect x="45.0" y="27.0" width="3.4" height="3.4" fill="#7a2ab0"/><rect x="48.0" y="27.0" width="3.4" height="3.4" fill="#3a1470"/><rect x="51.0" y="27.0" width="3.4" height="3.4" fill="#7a2ab0"/><rect x="54.0" y="27.0" width="3.4" height="3.4" fill="#7a2ab0"/><rect x="57.0" y="27.0" width="3.4" height="3.4" fill="#1e40d8"/><rect x="60.0" y="27.0" width="3.4" height="3.4" fill="#7a2ab0"/><rect x="63.0" y="27.0" width="3.4" height="3.4" fill="#7a2ab0"/><rect x="66.0" y="27.0" width="3.4" height="3.4" fill="#7a2ab0"/><rect x="96.0" y="27.0" width="3.4" height="3.4" fill="#22b4dc"/><rect x="99.0" y="27.0" width="3.4" height="3.4" fill="#22b4dc"/><rect x="102.0" y="27.0" width="3.4" height="3.4" fill="#22bcb0"/><rect x="105.0" y="27.0" width="3.4" height="3.4" fill="#22bcb0"/><rect x="108.0" y="27.0" width="3.4" height="3.4" fill="#22bcb0"/><rect x="111.0" y="27.0" width="3.4" height="3.4" fill="#18b420"/><rect x="114.0" y="27.0" width="3.4" height="3.4" fill="#22bcb0"/><rect x="42.0" y="30.0" width="3.4" height="3.4" fill="#141020"/><rect x="45.0" y="30.0" width="3.4" height="3.4" fill="#3a1470"/><rect x="48.0" y="30.0" width="3.4" height="3.4" fill="#3a1470"/><rect x="51.0" y="30.0" width="3.4" height="3.4" fill="#7a2ab0"/><rect x="54.0" y="30.0" width="3.4" height="3.4" fill="#2290e0"/><rect x="57.0" y="30.0" width="3.4" height="3.4" fill="#7a2ab0"/><rect x="60.0" y="30.0" width="3.4" height="3.4" fill="#2290e0"/><rect x="63.0" y="30.0" width="3.4" height="3.4" fill="#3a1470"/><rect x="96.0" y="30.0" width="3.4" height="3.4" fill="#22b4dc"/><rect x="99.0" y="30.0" width="3.4" height="3.4" fill="#22bcb0"/><rect x="102.0" y="30.0" width="3.4" height="3.4" fill="#18b420"/><rect x="105.0" y="30.0" width="3.4" height="3.4" fill="#18b420"/><rect x="108.0" y="30.0" width="3.4" height="3.4" fill="#3ad830"/><rect x="111.0" y="30.0" width="3.4" height="3.4" fill="#3ad830"/><rect x="114.0" y="30.0" width="3.4" height="3.4" fill="#22bcb0"/><rect x="42.0" y="33.0" width="3.4" height="3.4" fill="#7a2ab0"/><rect x="45.0" y="33.0" width="3.4" height="3.4" fill="#3a1470"/><rect x="48.0" y="33.0" width="3.4" height="3.4" fill="#3a1470"/><rect x="51.0" y="33.0" width="3.4" height="3.4" fill="#7a2ab0"/><rect x="54.0" y="33.0" width="3.4" height="3.4" fill="#1e40d8"/><rect x="57.0" y="33.0" width="3.4" height="3.4" fill="#7a2ab0"/><rect x="60.0" y="33.0" width="3.4" height="3.4" fill="#1e40d8"/><rect x="96.0" y="33.0" width="3.4" height="3.4" fill="#22bcb0"/><rect x="99.0" y="33.0" width="3.4" height="3.4" fill="#18b420"/><rect x="102.0" y="33.0" width="3.4" height="3.4" fill="#22bcb0"/><rect x="105.0" y="33.0" width="3.4" height="3.4" fill="#3ad830"/><rect x="108.0" y="33.0" width="3.4" height="3.4" fill="#3ad830"/><rect x="111.0" y="33.0" width="3.4" height="3.4" fill="#3ad830"/><rect x="114.0" y="33.0" width="3.4" height="3.4" fill="#18b420"/><rect x="39.0" y="36.0" width="3.4" height="3.4" fill="#2290e0"/><rect x="42.0" y="36.0" width="3.4" height="3.4" fill="#2290e0"/><rect x="45.0" y="36.0" width="3.4" height="3.4" fill="#7a2ab0"/><rect x="48.0" y="36.0" width="3.4" height="3.4" fill="#3a1470"/><rect x="51.0" y="36.0" width="3.4" height="3.4" fill="#141020"/><rect x="54.0" y="36.0" width="3.4" height="3.4" fill="#1e40d8"/><rect x="57.0" y="36.0" width="3.4" height="3.4" fill="#7a2ab0"/><rect x="60.0" y="36.0" width="3.4" height="3.4" fill="#7a2ab0"/><rect x="102.0" y="36.0" width="3.4" height="3.4" fill="#3ad830"/><rect x="105.0" y="36.0" width="3.4" height="3.4" fill="#3ad830"/><rect x="108.0" y="36.0" width="3.4" height="3.4" fill="#3ad830"/><rect x="111.0" y="36.0" width="3.4" height="3.4" fill="#3ad830"/><rect x="114.0" y="36.0" width="3.4" height="3.4" fill="#a8e024"/><rect x="117.0" y="36.0" width="3.4" height="3.4" fill="#3ad830"/><rect x="39.0" y="39.0" width="3.4" height="3.4" fill="#22b4dc"/><rect x="42.0" y="39.0" width="3.4" height="3.4" fill="#1e40d8"/><rect x="45.0" y="39.0" width="3.4" height="3.4" fill="#7a2ab0"/><rect x="48.0" y="39.0" width="3.4" height="3.4" fill="#3a1470"/><rect x="51.0" y="39.0" width="3.4" height="3.4" fill="#7a2ab0"/><rect x="54.0" y="39.0" width="3.4" height="3.4" fill="#7a2ab0"/><rect x="57.0" y="39.0" width="3.4" height="3.4" fill="#3a1470"/><rect x="102.0" y="39.0" width="3.4" height="3.4" fill="#3ad830"/><rect x="105.0" y="39.0" width="3.4" height="3.4" fill="#3ad830"/><rect x="108.0" y="39.0" width="3.4" height="3.4" fill="#e6e228"/><rect x="111.0" y="39.0" width="3.4" height="3.4" fill="#3ad830"/><rect x="114.0" y="39.0" width="3.4" height="3.4" fill="#3ad830"/><rect x="117.0" y="39.0" width="3.4" height="3.4" fill="#e6e228"/><rect x="36.0" y="42.0" width="3.4" height="3.4" fill="#7a2ab0"/><rect x="39.0" y="42.0" width="3.4" height="3.4" fill="#3a1470"/><rect x="42.0" y="42.0" width="3.4" height="3.4" fill="#7a2ab0"/><rect x="45.0" y="42.0" width="3.4" height="3.4" fill="#7a2ab0"/><rect x="48.0" y="42.0" width="3.4" height="3.4" fill="#7a2ab0"/><rect x="51.0" y="42.0" width="3.4" height="3.4" fill="#1e40d8"/><rect x="54.0" y="42.0" width="3.4" height="3.4" fill="#1e40d8"/><rect x="57.0" y="42.0" width="3.4" height="3.4" fill="#3a1470"/><rect x="102.0" y="42.0" width="3.4" height="3.4" fill="#3ad830"/><rect x="105.0" y="42.0" width="3.4" height="3.4" fill="#3ad830"/><rect x="108.0" y="42.0" width="3.4" height="3.4" fill="#a8e024"/><rect x="111.0" y="42.0" width="3.4" height="3.4" fill="#3ad830"/><rect x="114.0" y="42.0" width="3.4" height="3.4" fill="#3ad830"/><rect x="117.0" y="42.0" width="3.4" height="3.4" fill="#a8e024"/><rect x="39.0" y="45.0" width="3.4" height="3.4" fill="#3a1470"/><rect x="42.0" y="45.0" width="3.4" height="3.4" fill="#1e40d8"/><rect x="45.0" y="45.0" width="3.4" height="3.4" fill="#2290e0"/><rect x="48.0" y="45.0" width="3.4" height="3.4" fill="#1e40d8"/><rect x="51.0" y="45.0" width="3.4" height="3.4" fill="#7a2ab0"/><rect x="54.0" y="45.0" width="3.4" height="3.4" fill="#7a2ab0"/><rect x="57.0" y="45.0" width="3.4" height="3.4" fill="#22b4dc"/><rect x="102.0" y="45.0" width="3.4" height="3.4" fill="#3ad830"/><rect x="105.0" y="45.0" width="3.4" height="3.4" fill="#a8e024"/><rect x="108.0" y="45.0" width="3.4" height="3.4" fill="#e6e228"/><rect x="111.0" y="45.0" width="3.4" height="3.4" fill="#3ad830"/><rect x="114.0" y="45.0" width="3.4" height="3.4" fill="#3ad830"/><rect x="117.0" y="45.0" width="3.4" height="3.4" fill="#3ad830"/><rect x="39.0" y="48.0" width="3.4" height="3.4" fill="#3a1470"/><rect x="42.0" y="48.0" width="3.4" height="3.4" fill="#1e40d8"/><rect x="45.0" y="48.0" width="3.4" height="3.4" fill="#7a2ab0"/><rect x="48.0" y="48.0" width="3.4" height="3.4" fill="#2290e0"/><rect x="51.0" y="48.0" width="3.4" height="3.4" fill="#2290e0"/><rect x="102.0" y="48.0" width="3.4" height="3.4" fill="#3ad830"/><rect x="105.0" y="48.0" width="3.4" height="3.4" fill="#3ad830"/><rect x="108.0" y="48.0" width="3.4" height="3.4" fill="#3ad830"/><rect x="111.0" y="48.0" width="3.4" height="3.4" fill="#3ad830"/><rect x="114.0" y="48.0" width="3.4" height="3.4" fill="#3ad830"/><rect x="117.0" y="48.0" width="3.4" height="3.4" fill="#3ad830"/><rect x="39.0" y="51.0" width="3.4" height="3.4" fill="#7a2ab0"/><rect x="42.0" y="51.0" width="3.4" height="3.4" fill="#7a2ab0"/><rect x="45.0" y="51.0" width="3.4" height="3.4" fill="#1e40d8"/><rect x="48.0" y="51.0" width="3.4" height="3.4" fill="#2290e0"/><rect x="51.0" y="51.0" width="3.4" height="3.4" fill="#7a2ab0"/><rect x="105.0" y="51.0" width="3.4" height="3.4" fill="#a8e024"/><rect x="108.0" y="51.0" width="3.4" height="3.4" fill="#3ad830"/><rect x="111.0" y="51.0" width="3.4" height="3.4" fill="#a8e024"/><rect x="114.0" y="51.0" width="3.4" height="3.4" fill="#3ad830"/><rect x="39.0" y="54.0" width="3.4" height="3.4" fill="#7a2ab0"/><rect x="42.0" y="54.0" width="3.4" height="3.4" fill="#1e40d8"/><rect x="45.0" y="54.0" width="3.4" height="3.4" fill="#2290e0"/><rect x="48.0" y="54.0" width="3.4" height="3.4" fill="#7a2ab0"/><rect x="51.0" y="54.0" width="3.4" height="3.4" fill="#2290e0"/><rect x="54.0" y="54.0" width="3.4" height="3.4" fill="#1e40d8"/><rect x="102.0" y="54.0" width="3.4" height="3.4" fill="#3ad830"/><rect x="105.0" y="54.0" width="3.4" height="3.4" fill="#3ad830"/><rect x="108.0" y="54.0" width="3.4" height="3.4" fill="#3ad830"/><rect x="111.0" y="54.0" width="3.4" height="3.4" fill="#18b420"/><rect x="114.0" y="54.0" width="3.4" height="3.4" fill="#3ad830"/><rect x="117.0" y="54.0" width="3.4" height="3.4" fill="#3ad830"/><rect x="42.0" y="57.0" width="3.4" height="3.4" fill="#2290e0"/><rect x="45.0" y="57.0" width="3.4" height="3.4" fill="#1e40d8"/><rect x="48.0" y="57.0" width="3.4" height="3.4" fill="#2290e0"/><rect x="51.0" y="57.0" width="3.4" height="3.4" fill="#7a2ab0"/><rect x="54.0" y="57.0" width="3.4" height="3.4" fill="#7a2ab0"/><rect x="102.0" y="57.0" width="3.4" height="3.4" fill="#3ad830"/><rect x="105.0" y="57.0" width="3.4" height="3.4" fill="#22bcb0"/><rect x="108.0" y="57.0" width="3.4" height="3.4" fill="#3ad830"/><rect x="111.0" y="57.0" width="3.4" height="3.4" fill="#3ad830"/><rect x="114.0" y="57.0" width="3.4" height="3.4" fill="#3ad830"/><rect x="42.0" y="60.0" width="3.4" height="3.4" fill="#7a2ab0"/><rect x="45.0" y="60.0" width="3.4" height="3.4" fill="#1e40d8"/><rect x="48.0" y="60.0" width="3.4" height="3.4" fill="#2290e0"/><rect x="51.0" y="60.0" width="3.4" height="3.4" fill="#7a2ab0"/><rect x="54.0" y="60.0" width="3.4" height="3.4" fill="#1e40d8"/><rect x="108.0" y="60.0" width="3.4" height="3.4" fill="#3ad830"/><rect x="111.0" y="60.0" width="3.4" height="3.4" fill="#3ad830"/><rect x="114.0" y="60.0" width="3.4" height="3.4" fill="#3ad830"/><rect x="45.0" y="63.0" width="3.4" height="3.4" fill="#141020"/><rect x="48.0" y="63.0" width="3.4" height="3.4" fill="#22b4dc"/><rect x="51.0" y="63.0" width="3.4" height="3.4" fill="#7a2ab0"/><rect x="54.0" y="63.0" width="3.4" height="3.4" fill="#3a1470"/><rect x="114.0" y="63.0" width="3.4" height="3.4" fill="#3ad830"/><rect x="45.0" y="66.0" width="3.4" height="3.4" fill="#1e40d8"/><rect x="48.0" y="66.0" width="3.4" height="3.4" fill="#7a2ab0"/><rect x="51.0" y="66.0" width="3.4" height="3.4" fill="#7a2ab0"/><rect x="54.0" y="66.0" width="3.4" height="3.4" fill="#1e40d8"/><rect x="57.0" y="66.0" width="3.4" height="3.4" fill="#7a2ab0"/><rect x="48.0" y="69.0" width="3.4" height="3.4" fill="#7a2ab0"/><rect x="51.0" y="69.0" width="3.4" height="3.4" fill="#1e40d8"/><rect x="54.0" y="69.0" width="3.4" height="3.4" fill="#1e40d8"/><rect x="57.0" y="69.0" width="3.4" height="3.4" fill="#1e40d8"/><rect x="60.0" y="69.0" width="3.4" height="3.4" fill="#1e40d8"/><rect x="54.0" y="72.0" width="3.4" height="3.4" fill="#3a1470"/><rect x="57.0" y="72.0" width="3.4" height="3.4" fill="#3a1470"/><rect x="60.0" y="72.0" width="3.4" height="3.4" fill="#3a1470"/><rect x="54.0" y="75.0" width="3.4" height="3.4" fill="#7a2ab0"/><rect x="57.0" y="75.0" width="3.4" height="3.4" fill="#1e40d8"/><rect x="60.0" y="75.0" width="3.4" height="3.4" fill="#141020"/><rect x="63.0" y="75.0" width="3.4" height="3.4" fill="#141020"/><rect x="66.0" y="75.0" width="3.4" height="3.4" fill="#7a2ab0"/><rect x="93.0" y="75.0" width="3.4" height="3.4" fill="#1e40d8"/><rect x="60.0" y="78.0" width="3.4" height="3.4" fill="#7a2ab0"/><rect x="63.0" y="78.0" width="3.4" height="3.4" fill="#7a2ab0"/><rect x="66.0" y="78.0" width="3.4" height="3.4" fill="#3a1470"/><rect x="69.0" y="78.0" width="3.4" height="3.4" fill="#3a1470"/><rect x="72.0" y="78.0" width="3.4" height="3.4" fill="#7a2ab0"/><rect x="78.0" y="78.0" width="3.4" height="3.4" fill="#1e40d8"/><rect x="84.0" y="78.0" width="3.4" height="3.4" fill="#7a2ab0"/><rect x="87.0" y="78.0" width="3.4" height="3.4" fill="#141020"/><rect x="90.0" y="78.0" width="3.4" height="3.4" fill="#1e40d8"/><rect x="93.0" y="78.0" width="3.4" height="3.4" fill="#1e40d8"/><rect x="69.0" y="81.0" width="3.4" height="3.4" fill="#7a2ab0"/><rect x="72.0" y="81.0" width="3.4" height="3.4" fill="#3a1470"/><rect x="75.0" y="81.0" width="3.4" height="3.4" fill="#1e40d8"/><rect x="78.0" y="81.0" width="3.4" height="3.4" fill="#1e40d8"/><rect x="81.0" y="81.0" width="3.4" height="3.4" fill="#7a2ab0"/></g>
</g>
<g transform="translate(18,234)" clip-path="url(#pc)">
<g filter="url(#grain)"><rect x="-5" y="-5" width="140" height="110" fill="#2e2e2e"/><rect x="-5" y="2" width="90" height="10" fill="#5c5c5c"/><rect x="-5" y="-5" width="140" height="7.5" fill="#1a1a1a"/><ellipse cx="6" cy="50" rx="9" ry="44" fill="#686868"/><rect x="-5" y="83" width="140" height="20" fill="#626262"/><path d="M15,15 C9,26 5,40 4,58 C4,72 6,84 9,96" fill="none" stroke="#a4a4a4" stroke-width="2"/><path d="M18,18 C12,30 8.5,46 8.5,62 C8.5,74 11,82 17,88" fill="none" stroke="#383838" stroke-width="3.2"/><path d="M14,10 C18,14 21,17 24,20" fill="none" stroke="#2a2a2a" stroke-width="2.5"/><path d="M11,42 C11,28 18,16 34,14 C52,11 70,11 84,14 C94,22 96,40 96,55 C96,72 90,82 72,83 C55,84 34,84 22,80 C14,74 11,58 11,42 Z" fill="#838383"/><path d="M24,13 C32,10 40,8 56,6" fill="none" stroke="#b4b4b4" stroke-width="3.5"/><ellipse cx="25" cy="14" rx="3" ry="2.5" fill="#c0c0c0"/><path d="M11,60 C12,74 17,80 28,83 C50,86 80,86 110,83" fill="none" stroke="#3c3c3c" stroke-width="1.8"/><path d="M8,90 C30,92 80,92 118,89" fill="none" stroke="#9a9a9a" stroke-width="1.4"/><ellipse cx="86" cy="48" rx="37" ry="37" fill="#6c6c6c"/><ellipse cx="86" cy="49" rx="26" ry="22" fill="#8a8a8a"/><ellipse cx="97" cy="42" rx="6" ry="6" fill="#7a7a7a"/><ellipse cx="127" cy="45" rx="6" ry="45" fill="#2a2a2a"/><ellipse cx="120" cy="93" rx="14" ry="6" fill="#444"/></g>
<g filter="url(#b06)"><rect x="75.0" y="15.2" width="3.0" height="3.0" fill="#18b420"/><rect x="77.6" y="15.2" width="3.0" height="3.0" fill="#3ad830"/><rect x="80.2" y="15.2" width="3.0" height="3.0" fill="#18b420"/><rect x="82.8" y="15.2" width="3.0" height="3.0" fill="#18b420"/><rect x="85.4" y="15.2" width="3.0" height="3.0" fill="#18b420"/><rect x="67.2" y="17.8" width="3.0" height="3.0" fill="#18b420"/><rect x="69.8" y="17.8" width="3.0" height="3.0" fill="#22bcb0"/><rect x="72.4" y="17.8" width="3.0" height="3.0" fill="#22bcb0"/><rect x="75.0" y="17.8" width="3.0" height="3.0" fill="#3ad830"/><rect x="77.6" y="17.8" width="3.0" height="3.0" fill="#22bcb0"/><rect x="80.2" y="17.8" width="3.0" height="3.0" fill="#18b420"/><rect x="82.8" y="17.8" width="3.0" height="3.0" fill="#22b4dc"/><rect x="85.4" y="17.8" width="3.0" height="3.0" fill="#3ad830"/><rect x="88.0" y="17.8" width="3.0" height="3.0" fill="#22bcb0"/><rect x="90.6" y="17.8" width="3.0" height="3.0" fill="#22b4dc"/><rect x="93.2" y="17.8" width="3.0" height="3.0" fill="#18b420"/><rect x="95.8" y="17.8" width="3.0" height="3.0" fill="#22bcb0"/><rect x="64.6" y="20.4" width="3.0" height="3.0" fill="#18b420"/><rect x="67.2" y="20.4" width="3.0" height="3.0" fill="#3ad830"/><rect x="69.8" y="20.4" width="3.0" height="3.0" fill="#22bcb0"/><rect x="72.4" y="20.4" width="3.0" height="3.0" fill="#22b4dc"/><rect x="75.0" y="20.4" width="3.0" height="3.0" fill="#22b4dc"/><rect x="77.6" y="20.4" width="3.0" height="3.0" fill="#22bcb0"/><rect x="80.2" y="20.4" width="3.0" height="3.0" fill="#22bcb0"/><rect x="82.8" y="20.4" width="3.0" height="3.0" fill="#22b4dc"/><rect x="85.4" y="20.4" width="3.0" height="3.0" fill="#18b420"/><rect x="88.0" y="20.4" width="3.0" height="3.0" fill="#2290e0"/><rect x="90.6" y="20.4" width="3.0" height="3.0" fill="#22b4dc"/><rect x="93.2" y="20.4" width="3.0" height="3.0" fill="#22b4dc"/><rect x="95.8" y="20.4" width="3.0" height="3.0" fill="#18b420"/><rect x="98.4" y="20.4" width="3.0" height="3.0" fill="#22bcb0"/><rect x="101.0" y="20.4" width="3.0" height="3.0" fill="#22bcb0"/><rect x="62.0" y="23.0" width="3.0" height="3.0" fill="#1e40d8"/><rect x="64.6" y="23.0" width="3.0" height="3.0" fill="#2290e0"/><rect x="67.2" y="23.0" width="3.0" height="3.0" fill="#18b420"/><rect x="69.8" y="23.0" width="3.0" height="3.0" fill="#22bcb0"/><rect x="72.4" y="23.0" width="3.0" height="3.0" fill="#2290e0"/><rect x="75.0" y="23.0" width="3.0" height="3.0" fill="#22b4dc"/><rect x="77.6" y="23.0" width="3.0" height="3.0" fill="#18b420"/><rect x="80.2" y="23.0" width="3.0" height="3.0" fill="#22bcb0"/><rect x="82.8" y="23.0" width="3.0" height="3.0" fill="#22b4dc"/><rect x="85.4" y="23.0" width="3.0" height="3.0" fill="#18b420"/><rect x="88.0" y="23.0" width="3.0" height="3.0" fill="#22b4dc"/><rect x="90.6" y="23.0" width="3.0" height="3.0" fill="#2290e0"/><rect x="93.2" y="23.0" width="3.0" height="3.0" fill="#2290e0"/><rect x="95.8" y="23.0" width="3.0" height="3.0" fill="#22b4dc"/><rect x="98.4" y="23.0" width="3.0" height="3.0" fill="#18b420"/><rect x="101.0" y="23.0" width="3.0" height="3.0" fill="#22bcb0"/><rect x="103.6" y="23.0" width="3.0" height="3.0" fill="#22b4dc"/><rect x="59.4" y="25.6" width="3.0" height="3.0" fill="#7a2ab0"/><rect x="62.0" y="25.6" width="3.0" height="3.0" fill="#2290e0"/><rect x="64.6" y="25.6" width="3.0" height="3.0" fill="#2290e0"/><rect x="67.2" y="25.6" width="3.0" height="3.0" fill="#1e40d8"/><rect x="69.8" y="25.6" width="3.0" height="3.0" fill="#1e40d8"/><rect x="72.4" y="25.6" width="3.0" height="3.0" fill="#2290e0"/><rect x="75.0" y="25.6" width="3.0" height="3.0" fill="#1e40d8"/><rect x="77.6" y="25.6" width="3.0" height="3.0" fill="#22bcb0"/><rect x="80.2" y="25.6" width="3.0" height="3.0" fill="#18b420"/><rect x="82.8" y="25.6" width="3.0" height="3.0" fill="#3ad830"/><rect x="85.4" y="25.6" width="3.0" height="3.0" fill="#22bcb0"/><rect x="88.0" y="25.6" width="3.0" height="3.0" fill="#22bcb0"/><rect x="90.6" y="25.6" width="3.0" height="3.0" fill="#22bcb0"/><rect x="93.2" y="25.6" width="3.0" height="3.0" fill="#22bcb0"/><rect x="95.8" y="25.6" width="3.0" height="3.0" fill="#2290e0"/><rect x="98.4" y="25.6" width="3.0" height="3.0" fill="#22b4dc"/><rect x="101.0" y="25.6" width="3.0" height="3.0" fill="#22b4dc"/><rect x="103.6" y="25.6" width="3.0" height="3.0" fill="#22b4dc"/><rect x="106.2" y="25.6" width="3.0" height="3.0" fill="#1e40d8"/><rect x="56.8" y="28.2" width="3.0" height="3.0" fill="#2290e0"/><rect x="59.4" y="28.2" width="3.0" height="3.0" fill="#2290e0"/><rect x="62.0" y="28.2" width="3.0" height="3.0" fill="#22b4dc"/><rect x="64.6" y="28.2" width="3.0" height="3.0" fill="#2290e0"/><rect x="67.2" y="28.2" width="3.0" height="3.0" fill="#2290e0"/><rect x="69.8" y="28.2" width="3.0" height="3.0" fill="#22b4dc"/><rect x="72.4" y="28.2" width="3.0" height="3.0" fill="#22b4dc"/><rect x="93.2" y="28.2" width="3.0" height="3.0" fill="#2290e0"/><rect x="95.8" y="28.2" width="3.0" height="3.0" fill="#22b4dc"/><rect x="98.4" y="28.2" width="3.0" height="3.0" fill="#22b4dc"/><rect x="101.0" y="28.2" width="3.0" height="3.0" fill="#22b4dc"/><rect x="103.6" y="28.2" width="3.0" height="3.0" fill="#22bcb0"/><rect x="106.2" y="28.2" width="3.0" height="3.0" fill="#22b4dc"/><rect x="108.8" y="28.2" width="3.0" height="3.0" fill="#2290e0"/><rect x="54.2" y="30.8" width="3.0" height="3.0" fill="#22bcb0"/><rect x="56.8" y="30.8" width="3.0" height="3.0" fill="#22b4dc"/><rect x="59.4" y="30.8" width="3.0" height="3.0" fill="#22bcb0"/><rect x="62.0" y="30.8" width="3.0" height="3.0" fill="#18b420"/><rect x="64.6" y="30.8" width="3.0" height="3.0" fill="#22b4dc"/><rect x="67.2" y="30.8" width="3.0" height="3.0" fill="#1e40d8"/><rect x="98.4" y="30.8" width="3.0" height="3.0" fill="#2290e0"/><rect x="101.0" y="30.8" width="3.0" height="3.0" fill="#22bcb0"/><rect x="103.6" y="30.8" width="3.0" height="3.0" fill="#22bcb0"/><rect x="106.2" y="30.8" width="3.0" height="3.0" fill="#2290e0"/><rect x="108.8" y="30.8" width="3.0" height="3.0" fill="#2290e0"/><rect x="54.2" y="33.4" width="3.0" height="3.0" fill="#18b420"/><rect x="56.8" y="33.4" width="3.0" height="3.0" fill="#22bcb0"/><rect x="59.4" y="33.4" width="3.0" height="3.0" fill="#22b4dc"/><rect x="62.0" y="33.4" width="3.0" height="3.0" fill="#18b420"/><rect x="101.0" y="33.4" width="3.0" height="3.0" fill="#22b4dc"/><rect x="103.6" y="33.4" width="3.0" height="3.0" fill="#22b4dc"/><rect x="106.2" y="33.4" width="3.0" height="3.0" fill="#22b4dc"/><rect x="108.8" y="33.4" width="3.0" height="3.0" fill="#2290e0"/><rect x="111.4" y="33.4" width="3.0" height="3.0" fill="#22b4dc"/><rect x="51.6" y="36.0" width="3.0" height="3.0" fill="#22b4dc"/><rect x="54.2" y="36.0" width="3.0" height="3.0" fill="#22bcb0"/><rect x="56.8" y="36.0" width="3.0" height="3.0" fill="#22b4dc"/><rect x="59.4" y="36.0" width="3.0" height="3.0" fill="#22b4dc"/><rect x="103.6" y="36.0" width="3.0" height="3.0" fill="#22bcb0"/><rect x="106.2" y="36.0" width="3.0" height="3.0" fill="#22b4dc"/><rect x="108.8" y="36.0" width="3.0" height="3.0" fill="#1e40d8"/><rect x="111.4" y="36.0" width="3.0" height="3.0" fill="#1e40d8"/><rect x="51.6" y="38.6" width="3.0" height="3.0" fill="#2290e0"/><rect x="54.2" y="38.6" width="3.0" height="3.0" fill="#2290e0"/><rect x="56.8" y="38.6" width="3.0" height="3.0" fill="#2290e0"/><rect x="59.4" y="38.6" width="3.0" height="3.0" fill="#2290e0"/><rect x="106.2" y="38.6" width="3.0" height="3.0" fill="#22b4dc"/><rect x="108.8" y="38.6" width="3.0" height="3.0" fill="#2290e0"/><rect x="111.4" y="38.6" width="3.0" height="3.0" fill="#1e40d8"/><rect x="51.6" y="41.2" width="3.0" height="3.0" fill="#22b4dc"/><rect x="54.2" y="41.2" width="3.0" height="3.0" fill="#2290e0"/><rect x="56.8" y="41.2" width="3.0" height="3.0" fill="#1e40d8"/><rect x="108.8" y="41.2" width="3.0" height="3.0" fill="#2290e0"/><rect x="111.4" y="41.2" width="3.0" height="3.0" fill="#1e40d8"/><rect x="114.0" y="41.2" width="3.0" height="3.0" fill="#2290e0"/><rect x="51.6" y="43.8" width="3.0" height="3.0" fill="#22b4dc"/><rect x="54.2" y="43.8" width="3.0" height="3.0" fill="#22b4dc"/><rect x="56.8" y="43.8" width="3.0" height="3.0" fill="#2290e0"/><rect x="108.8" y="43.8" width="3.0" height="3.0" fill="#22b4dc"/><rect x="111.4" y="43.8" width="3.0" height="3.0" fill="#22bcb0"/><rect x="114.0" y="43.8" width="3.0" height="3.0" fill="#22bcb0"/><rect x="51.6" y="46.4" width="3.0" height="3.0" fill="#2290e0"/><rect x="54.2" y="46.4" width="3.0" height="3.0" fill="#22b4dc"/><rect x="56.8" y="46.4" width="3.0" height="3.0" fill="#22b4dc"/><rect x="108.8" y="46.4" width="3.0" height="3.0" fill="#22b4dc"/><rect x="111.4" y="46.4" width="3.0" height="3.0" fill="#22b4dc"/><rect x="51.6" y="49.0" width="3.0" height="3.0" fill="#1e40d8"/><rect x="54.2" y="49.0" width="3.0" height="3.0" fill="#2290e0"/><rect x="56.8" y="49.0" width="3.0" height="3.0" fill="#22b4dc"/><rect x="108.8" y="49.0" width="3.0" height="3.0" fill="#18b420"/><rect x="111.4" y="49.0" width="3.0" height="3.0" fill="#22bcb0"/><rect x="51.6" y="51.6" width="3.0" height="3.0" fill="#1e40d8"/><rect x="54.2" y="51.6" width="3.0" height="3.0" fill="#2290e0"/><rect x="56.8" y="51.6" width="3.0" height="3.0" fill="#2290e0"/><rect x="108.8" y="51.6" width="3.0" height="3.0" fill="#22bcb0"/><rect x="111.4" y="51.6" width="3.0" height="3.0" fill="#22bcb0"/><rect x="51.6" y="54.2" width="3.0" height="3.0" fill="#2290e0"/><rect x="54.2" y="54.2" width="3.0" height="3.0" fill="#22b4dc"/><rect x="56.8" y="54.2" width="3.0" height="3.0" fill="#2290e0"/><rect x="106.2" y="54.2" width="3.0" height="3.0" fill="#2290e0"/><rect x="108.8" y="54.2" width="3.0" height="3.0" fill="#22bcb0"/><rect x="111.4" y="54.2" width="3.0" height="3.0" fill="#22bcb0"/><rect x="51.6" y="56.8" width="3.0" height="3.0" fill="#22bcb0"/><rect x="54.2" y="56.8" width="3.0" height="3.0" fill="#22b4dc"/><rect x="56.8" y="56.8" width="3.0" height="3.0" fill="#1e40d8"/><rect x="59.4" y="56.8" width="3.0" height="3.0" fill="#1e40d8"/><rect x="106.2" y="56.8" width="3.0" height="3.0" fill="#22bcb0"/><rect x="108.8" y="56.8" width="3.0" height="3.0" fill="#22bcb0"/><rect x="111.4" y="56.8" width="3.0" height="3.0" fill="#22bcb0"/><rect x="54.2" y="59.4" width="3.0" height="3.0" fill="#22b4dc"/><rect x="56.8" y="59.4" width="3.0" height="3.0" fill="#2290e0"/><rect x="59.4" y="59.4" width="3.0" height="3.0" fill="#2290e0"/><rect x="62.0" y="59.4" width="3.0" height="3.0" fill="#7a2ab0"/><rect x="103.6" y="59.4" width="3.0" height="3.0" fill="#22bcb0"/><rect x="106.2" y="59.4" width="3.0" height="3.0" fill="#22bcb0"/><rect x="108.8" y="59.4" width="3.0" height="3.0" fill="#22b4dc"/><rect x="111.4" y="59.4" width="3.0" height="3.0" fill="#22b4dc"/><rect x="54.2" y="62.0" width="3.0" height="3.0" fill="#22bcb0"/><rect x="56.8" y="62.0" width="3.0" height="3.0" fill="#22b4dc"/><rect x="59.4" y="62.0" width="3.0" height="3.0" fill="#2290e0"/><rect x="62.0" y="62.0" width="3.0" height="3.0" fill="#1e40d8"/><rect x="101.0" y="62.0" width="3.0" height="3.0" fill="#22b4dc"/><rect x="103.6" y="62.0" width="3.0" height="3.0" fill="#18b420"/><rect x="106.2" y="62.0" width="3.0" height="3.0" fill="#22b4dc"/><rect x="108.8" y="62.0" width="3.0" height="3.0" fill="#2290e0"/><rect x="56.8" y="64.6" width="3.0" height="3.0" fill="#18b420"/><rect x="59.4" y="64.6" width="3.0" height="3.0" fill="#2290e0"/><rect x="62.0" y="64.6" width="3.0" height="3.0" fill="#1e40d8"/><rect x="64.6" y="64.6" width="3.0" height="3.0" fill="#22b4dc"/><rect x="67.2" y="64.6" width="3.0" height="3.0" fill="#18b420"/><rect x="69.8" y="64.6" width="3.0" height="3.0" fill="#3ad830"/><rect x="95.8" y="64.6" width="3.0" height="3.0" fill="#2290e0"/><rect x="98.4" y="64.6" width="3.0" height="3.0" fill="#2290e0"/><rect x="101.0" y="64.6" width="3.0" height="3.0" fill="#22b4dc"/><rect x="103.6" y="64.6" width="3.0" height="3.0" fill="#22b4dc"/><rect x="106.2" y="64.6" width="3.0" height="3.0" fill="#22b4dc"/><rect x="59.4" y="67.2" width="3.0" height="3.0" fill="#2290e0"/><rect x="62.0" y="67.2" width="3.0" height="3.0" fill="#1e40d8"/><rect x="64.6" y="67.2" width="3.0" height="3.0" fill="#2290e0"/><rect x="67.2" y="67.2" width="3.0" height="3.0" fill="#3ad830"/><rect x="69.8" y="67.2" width="3.0" height="3.0" fill="#18b420"/><rect x="72.4" y="67.2" width="3.0" height="3.0" fill="#3ad830"/><rect x="75.0" y="67.2" width="3.0" height="3.0" fill="#18b420"/><rect x="77.6" y="67.2" width="3.0" height="3.0" fill="#18b420"/><rect x="90.6" y="67.2" width="3.0" height="3.0" fill="#18b420"/><rect x="93.2" y="67.2" width="3.0" height="3.0" fill="#22bcb0"/><rect x="95.8" y="67.2" width="3.0" height="3.0" fill="#22b4dc"/><rect x="98.4" y="67.2" width="3.0" height="3.0" fill="#2290e0"/><rect x="101.0" y="67.2" width="3.0" height="3.0" fill="#22b4dc"/><rect x="103.6" y="67.2" width="3.0" height="3.0" fill="#22b4dc"/><rect x="106.2" y="67.2" width="3.0" height="3.0" fill="#22b4dc"/><rect x="59.4" y="69.8" width="3.0" height="3.0" fill="#2290e0"/><rect x="62.0" y="69.8" width="3.0" height="3.0" fill="#7a2ab0"/><rect x="64.6" y="69.8" width="3.0" height="3.0" fill="#22bcb0"/><rect x="67.2" y="69.8" width="3.0" height="3.0" fill="#2290e0"/><rect x="69.8" y="69.8" width="3.0" height="3.0" fill="#18b420"/><rect x="72.4" y="69.8" width="3.0" height="3.0" fill="#22b4dc"/><rect x="75.0" y="69.8" width="3.0" height="3.0" fill="#22bcb0"/><rect x="77.6" y="69.8" width="3.0" height="3.0" fill="#2290e0"/><rect x="80.2" y="69.8" width="3.0" height="3.0" fill="#22bcb0"/><rect x="82.8" y="69.8" width="3.0" height="3.0" fill="#18b420"/><rect x="85.4" y="69.8" width="3.0" height="3.0" fill="#22bcb0"/><rect x="88.0" y="69.8" width="3.0" height="3.0" fill="#2290e0"/><rect x="90.6" y="69.8" width="3.0" height="3.0" fill="#22bcb0"/><rect x="93.2" y="69.8" width="3.0" height="3.0" fill="#2290e0"/><rect x="95.8" y="69.8" width="3.0" height="3.0" fill="#2290e0"/><rect x="98.4" y="69.8" width="3.0" height="3.0" fill="#22b4dc"/><rect x="101.0" y="69.8" width="3.0" height="3.0" fill="#22b4dc"/><rect x="103.6" y="69.8" width="3.0" height="3.0" fill="#22b4dc"/><rect x="64.6" y="72.4" width="3.0" height="3.0" fill="#2290e0"/><rect x="67.2" y="72.4" width="3.0" height="3.0" fill="#18b420"/><rect x="69.8" y="72.4" width="3.0" height="3.0" fill="#22b4dc"/><rect x="72.4" y="72.4" width="3.0" height="3.0" fill="#22b4dc"/><rect x="75.0" y="72.4" width="3.0" height="3.0" fill="#1e40d8"/><rect x="77.6" y="72.4" width="3.0" height="3.0" fill="#22b4dc"/><rect x="80.2" y="72.4" width="3.0" height="3.0" fill="#22b4dc"/><rect x="82.8" y="72.4" width="3.0" height="3.0" fill="#22bcb0"/><rect x="85.4" y="72.4" width="3.0" height="3.0" fill="#22bcb0"/><rect x="88.0" y="72.4" width="3.0" height="3.0" fill="#2290e0"/><rect x="90.6" y="72.4" width="3.0" height="3.0" fill="#22b4dc"/><rect x="93.2" y="72.4" width="3.0" height="3.0" fill="#22b4dc"/><rect x="95.8" y="72.4" width="3.0" height="3.0" fill="#22bcb0"/><rect x="98.4" y="72.4" width="3.0" height="3.0" fill="#22bcb0"/><rect x="101.0" y="72.4" width="3.0" height="3.0" fill="#22bcb0"/><rect x="67.2" y="75.0" width="3.0" height="3.0" fill="#22b4dc"/><rect x="69.8" y="75.0" width="3.0" height="3.0" fill="#22bcb0"/><rect x="72.4" y="75.0" width="3.0" height="3.0" fill="#22b4dc"/><rect x="75.0" y="75.0" width="3.0" height="3.0" fill="#22b4dc"/><rect x="77.6" y="75.0" width="3.0" height="3.0" fill="#22b4dc"/><rect x="80.2" y="75.0" width="3.0" height="3.0" fill="#22bcb0"/><rect x="82.8" y="75.0" width="3.0" height="3.0" fill="#22bcb0"/><rect x="85.4" y="75.0" width="3.0" height="3.0" fill="#22b4dc"/><rect x="88.0" y="75.0" width="3.0" height="3.0" fill="#18b420"/><rect x="90.6" y="75.0" width="3.0" height="3.0" fill="#22bcb0"/><rect x="93.2" y="75.0" width="3.0" height="3.0" fill="#22b4dc"/><rect x="95.8" y="75.0" width="3.0" height="3.0" fill="#22b4dc"/><rect x="75.0" y="77.6" width="3.0" height="3.0" fill="#22bcb0"/><rect x="77.6" y="77.6" width="3.0" height="3.0" fill="#18b420"/><rect x="80.2" y="77.6" width="3.0" height="3.0" fill="#18b420"/><rect x="82.8" y="77.6" width="3.0" height="3.0" fill="#3ad830"/><rect x="85.4" y="77.6" width="3.0" height="3.0" fill="#18b420"/><rect x="88.0" y="77.6" width="3.0" height="3.0" fill="#a8e024"/></g>
</g>
<g transform="translate(152,234)" clip-path="url(#pc)">
<g filter="url(#grain)"><rect x="-5" y="-5" width="140" height="110" fill="#2e2e2e"/><rect x="-5" y="2" width="90" height="10" fill="#5c5c5c"/><rect x="-5" y="-5" width="140" height="7.5" fill="#1a1a1a"/><ellipse cx="6" cy="50" rx="9" ry="44" fill="#686868"/><rect x="-5" y="83" width="140" height="20" fill="#626262"/><path d="M15,15 C9,26 5,40 4,58 C4,72 6,84 9,96" fill="none" stroke="#a4a4a4" stroke-width="2"/><path d="M18,18 C12,30 8.5,46 8.5,62 C8.5,74 11,82 17,88" fill="none" stroke="#383838" stroke-width="3.2"/><path d="M14,10 C18,14 21,17 24,20" fill="none" stroke="#2a2a2a" stroke-width="2.5"/><path d="M11,42 C11,28 18,16 34,14 C52,11 70,11 84,14 C94,22 96,40 96,55 C96,72 90,82 72,83 C55,84 34,84 22,80 C14,74 11,58 11,42 Z" fill="#838383"/><path d="M24,13 C32,10 40,8 56,6" fill="none" stroke="#b4b4b4" stroke-width="3.5"/><ellipse cx="25" cy="14" rx="3" ry="2.5" fill="#c0c0c0"/><path d="M11,60 C12,74 17,80 28,83 C50,86 80,86 110,83" fill="none" stroke="#3c3c3c" stroke-width="1.8"/><path d="M8,90 C30,92 80,92 118,89" fill="none" stroke="#9a9a9a" stroke-width="1.4"/><ellipse cx="86" cy="48" rx="37" ry="37" fill="#6c6c6c"/><ellipse cx="86" cy="49" rx="26" ry="22" fill="#8a8a8a"/><ellipse cx="97" cy="42" rx="6" ry="6" fill="#7a7a7a"/><ellipse cx="127" cy="45" rx="6" ry="45" fill="#2a2a2a"/><ellipse cx="120" cy="93" rx="14" ry="6" fill="#444"/></g>
<g filter="url(#b06)"><rect x="82.8" y="15.2" width="3.0" height="3.0" fill="#1e40d8"/><rect x="88.0" y="15.2" width="3.0" height="3.0" fill="#22b4dc"/><rect x="77.6" y="17.8" width="3.0" height="3.0" fill="#2290e0"/><rect x="80.2" y="17.8" width="3.0" height="3.0" fill="#22b4dc"/><rect x="82.8" y="17.8" width="3.0" height="3.0" fill="#2290e0"/><rect x="85.4" y="17.8" width="3.0" height="3.0" fill="#2290e0"/><rect x="88.0" y="17.8" width="3.0" height="3.0" fill="#2290e0"/><rect x="90.6" y="17.8" width="3.0" height="3.0" fill="#2290e0"/><rect x="93.2" y="17.8" width="3.0" height="3.0" fill="#7a2ab0"/><rect x="95.8" y="17.8" width="3.0" height="3.0" fill="#1e40d8"/><rect x="98.4" y="17.8" width="3.0" height="3.0" fill="#2290e0"/><rect x="72.4" y="20.4" width="3.0" height="3.0" fill="#7a2ab0"/><rect x="75.0" y="20.4" width="3.0" height="3.0" fill="#7a2ab0"/><rect x="77.6" y="20.4" width="3.0" height="3.0" fill="#1e40d8"/><rect x="80.2" y="20.4" width="3.0" height="3.0" fill="#1e40d8"/><rect x="82.8" y="20.4" width="3.0" height="3.0" fill="#2290e0"/><rect x="85.4" y="20.4" width="3.0" height="3.0" fill="#22b4dc"/><rect x="88.0" y="20.4" width="3.0" height="3.0" fill="#2290e0"/><rect x="90.6" y="20.4" width="3.0" height="3.0" fill="#7a2ab0"/><rect x="93.2" y="20.4" width="3.0" height="3.0" fill="#22b4dc"/><rect x="95.8" y="20.4" width="3.0" height="3.0" fill="#1e40d8"/><rect x="98.4" y="20.4" width="3.0" height="3.0" fill="#1e40d8"/><rect x="101.0" y="20.4" width="3.0" height="3.0" fill="#2290e0"/><rect x="103.6" y="20.4" width="3.0" height="3.0" fill="#1e40d8"/><rect x="67.2" y="23.0" width="3.0" height="3.0" fill="#2290e0"/><rect x="69.8" y="23.0" width="3.0" height="3.0" fill="#2290e0"/><rect x="72.4" y="23.0" width="3.0" height="3.0" fill="#1e40d8"/><rect x="75.0" y="23.0" width="3.0" height="3.0" fill="#22b4dc"/><rect x="77.6" y="23.0" width="3.0" height="3.0" fill="#2290e0"/><rect x="80.2" y="23.0" width="3.0" height="3.0" fill="#22b4dc"/><rect x="82.8" y="23.0" width="3.0" height="3.0" fill="#1e40d8"/><rect x="85.4" y="23.0" width="3.0" height="3.0" fill="#3a1470"/><rect x="88.0" y="23.0" width="3.0" height="3.0" fill="#1e40d8"/><rect x="90.6" y="23.0" width="3.0" height="3.0" fill="#7a2ab0"/><rect x="93.2" y="23.0" width="3.0" height="3.0" fill="#2290e0"/><rect x="95.8" y="23.0" width="3.0" height="3.0" fill="#1e40d8"/><rect x="98.4" y="23.0" width="3.0" height="3.0" fill="#1e40d8"/><rect x="101.0" y="23.0" width="3.0" height="3.0" fill="#1e40d8"/><rect x="103.6" y="23.0" width="3.0" height="3.0" fill="#22b4dc"/><rect x="106.2" y="23.0" width="3.0" height="3.0" fill="#1e40d8"/><rect x="64.6" y="25.6" width="3.0" height="3.0" fill="#22b4dc"/><rect x="67.2" y="25.6" width="3.0" height="3.0" fill="#22b4dc"/><rect x="69.8" y="25.6" width="3.0" height="3.0" fill="#1e40d8"/><rect x="72.4" y="25.6" width="3.0" height="3.0" fill="#1e40d8"/><rect x="75.0" y="25.6" width="3.0" height="3.0" fill="#3a1470"/><rect x="77.6" y="25.6" width="3.0" height="3.0" fill="#1e40d8"/><rect x="80.2" y="25.6" width="3.0" height="3.0" fill="#1e40d8"/><rect x="82.8" y="25.6" width="3.0" height="3.0" fill="#7a2ab0"/><rect x="85.4" y="25.6" width="3.0" height="3.0" fill="#7a2ab0"/><rect x="88.0" y="25.6" width="3.0" height="3.0" fill="#1e40d8"/><rect x="90.6" y="25.6" width="3.0" height="3.0" fill="#2290e0"/><rect x="93.2" y="25.6" width="3.0" height="3.0" fill="#22b4dc"/><rect x="95.8" y="25.6" width="3.0" height="3.0" fill="#22b4dc"/><rect x="98.4" y="25.6" width="3.0" height="3.0" fill="#2290e0"/><rect x="101.0" y="25.6" width="3.0" height="3.0" fill="#3a1470"/><rect x="103.6" y="25.6" width="3.0" height="3.0" fill="#7a2ab0"/><rect x="106.2" y="25.6" width="3.0" height="3.0" fill="#3a1470"/><rect x="108.8" y="25.6" width="3.0" height="3.0" fill="#7a2ab0"/><rect x="64.6" y="28.2" width="3.0" height="3.0" fill="#1e40d8"/><rect x="67.2" y="28.2" width="3.0" height="3.0" fill="#22b4dc"/><rect x="69.8" y="28.2" width="3.0" height="3.0" fill="#1e40d8"/><rect x="72.4" y="28.2" width="3.0" height="3.0" fill="#1e40d8"/><rect x="75.0" y="28.2" width="3.0" height="3.0" fill="#7a2ab0"/><rect x="77.6" y="28.2" width="3.0" height="3.0" fill="#1e40d8"/><rect x="80.2" y="28.2" width="3.0" height="3.0" fill="#3a1470"/><rect x="82.8" y="28.2" width="3.0" height="3.0" fill="#1e40d8"/><rect x="98.4" y="28.2" width="3.0" height="3.0" fill="#22b4dc"/><rect x="101.0" y="28.2" width="3.0" height="3.0" fill="#1e40d8"/><rect x="103.6" y="28.2" width="3.0" height="3.0" fill="#7a2ab0"/><rect x="106.2" y="28.2" width="3.0" height="3.0" fill="#7a2ab0"/><rect x="108.8" y="28.2" width="3.0" height="3.0" fill="#1e40d8"/><rect x="111.4" y="28.2" width="3.0" height="3.0" fill="#7a2ab0"/><rect x="59.4" y="30.8" width="3.0" height="3.0" fill="#1e40d8"/><rect x="62.0" y="30.8" width="3.0" height="3.0" fill="#1e40d8"/><rect x="64.6" y="30.8" width="3.0" height="3.0" fill="#1e40d8"/><rect x="67.2" y="30.8" width="3.0" height="3.0" fill="#2290e0"/><rect x="69.8" y="30.8" width="3.0" height="3.0" fill="#7a2ab0"/><rect x="72.4" y="30.8" width="3.0" height="3.0" fill="#141020"/><rect x="103.6" y="30.8" width="3.0" height="3.0" fill="#3a1470"/><rect x="106.2" y="30.8" width="3.0" height="3.0" fill="#1e40d8"/><rect x="108.8" y="30.8" width="3.0" height="3.0" fill="#7a2ab0"/><rect x="111.4" y="30.8" width="3.0" height="3.0" fill="#2290e0"/><rect x="114.0" y="30.8" width="3.0" height="3.0" fill="#1e40d8"/><rect x="59.4" y="33.4" width="3.0" height="3.0" fill="#1e40d8"/><rect x="62.0" y="33.4" width="3.0" height="3.0" fill="#1e40d8"/><rect x="64.6" y="33.4" width="3.0" height="3.0" fill="#2290e0"/><rect x="67.2" y="33.4" width="3.0" height="3.0" fill="#22b4dc"/><rect x="69.8" y="33.4" width="3.0" height="3.0" fill="#2290e0"/><rect x="106.2" y="33.4" width="3.0" height="3.0" fill="#1e40d8"/><rect x="108.8" y="33.4" width="3.0" height="3.0" fill="#1e40d8"/><rect x="111.4" y="33.4" width="3.0" height="3.0" fill="#1e40d8"/><rect x="114.0" y="33.4" width="3.0" height="3.0" fill="#2290e0"/><rect x="59.4" y="36.0" width="3.0" height="3.0" fill="#2290e0"/><rect x="62.0" y="36.0" width="3.0" height="3.0" fill="#1e40d8"/><rect x="64.6" y="36.0" width="3.0" height="3.0" fill="#1e40d8"/><rect x="67.2" y="36.0" width="3.0" height="3.0" fill="#2290e0"/><rect x="108.8" y="36.0" width="3.0" height="3.0" fill="#7a2ab0"/><rect x="111.4" y="36.0" width="3.0" height="3.0" fill="#7a2ab0"/><rect x="114.0" y="36.0" width="3.0" height="3.0" fill="#2290e0"/><rect x="116.6" y="36.0" width="3.0" height="3.0" fill="#18b420"/><rect x="56.8" y="38.6" width="3.0" height="3.0" fill="#3a1470"/><rect x="59.4" y="38.6" width="3.0" height="3.0" fill="#3a1470"/><rect x="62.0" y="38.6" width="3.0" height="3.0" fill="#1e40d8"/><rect x="64.6" y="38.6" width="3.0" height="3.0" fill="#1e40d8"/><rect x="111.4" y="38.6" width="3.0" height="3.0" fill="#3a1470"/><rect x="114.0" y="38.6" width="3.0" height="3.0" fill="#7a2ab0"/><rect x="116.6" y="38.6" width="3.0" height="3.0" fill="#2290e0"/><rect x="56.8" y="41.2" width="3.0" height="3.0" fill="#3a1470"/><rect x="59.4" y="41.2" width="3.0" height="3.0" fill="#7a2ab0"/><rect x="62.0" y="41.2" width="3.0" height="3.0" fill="#7a2ab0"/><rect x="64.6" y="41.2" width="3.0" height="3.0" fill="#1e40d8"/><rect x="111.4" y="41.2" width="3.0" height="3.0" fill="#3a1470"/><rect x="114.0" y="41.2" width="3.0" height="3.0" fill="#1e40d8"/><rect x="116.6" y="41.2" width="3.0" height="3.0" fill="#1e40d8"/><rect x="56.8" y="43.8" width="3.0" height="3.0" fill="#1e40d8"/><rect x="59.4" y="43.8" width="3.0" height="3.0" fill="#7a2ab0"/><rect x="62.0" y="43.8" width="3.0" height="3.0" fill="#2290e0"/><rect x="114.0" y="43.8" width="3.0" height="3.0" fill="#7a2ab0"/><rect x="116.6" y="43.8" width="3.0" height="3.0" fill="#7a2ab0"/><rect x="119.2" y="43.8" width="3.0" height="3.0" fill="#3a1470"/><rect x="56.8" y="46.4" width="3.0" height="3.0" fill="#1e40d8"/><rect x="59.4" y="46.4" width="3.0" height="3.0" fill="#2290e0"/><rect x="62.0" y="46.4" width="3.0" height="3.0" fill="#1e40d8"/><rect x="64.6" y="46.4" width="3.0" height="3.0" fill="#22b4dc"/><rect x="114.0" y="46.4" width="3.0" height="3.0" fill="#1e40d8"/><rect x="116.6" y="46.4" width="3.0" height="3.0" fill="#1e40d8"/><rect x="56.8" y="49.0" width="3.0" height="3.0" fill="#2290e0"/><rect x="59.4" y="49.0" width="3.0" height="3.0" fill="#1e40d8"/><rect x="62.0" y="49.0" width="3.0" height="3.0" fill="#22b4dc"/><rect x="114.0" y="49.0" width="3.0" height="3.0" fill="#1e40d8"/><rect x="116.6" y="49.0" width="3.0" height="3.0" fill="#1e40d8"/><rect x="56.8" y="51.6" width="3.0" height="3.0" fill="#1e40d8"/><rect x="59.4" y="51.6" width="3.0" height="3.0" fill="#7a2ab0"/><rect x="62.0" y="51.6" width="3.0" height="3.0" fill="#2290e0"/><rect x="64.6" y="51.6" width="3.0" height="3.0" fill="#2290e0"/><rect x="114.0" y="51.6" width="3.0" height="3.0" fill="#1e40d8"/><rect x="116.6" y="51.6" width="3.0" height="3.0" fill="#1e40d8"/><rect x="119.2" y="51.6" width="3.0" height="3.0" fill="#22b4dc"/><rect x="56.8" y="54.2" width="3.0" height="3.0" fill="#1e40d8"/><rect x="59.4" y="54.2" width="3.0" height="3.0" fill="#7a2ab0"/><rect x="62.0" y="54.2" width="3.0" height="3.0" fill="#2290e0"/><rect x="64.6" y="54.2" width="3.0" height="3.0" fill="#2290e0"/><rect x="111.4" y="54.2" width="3.0" height="3.0" fill="#1e40d8"/><rect x="114.0" y="54.2" width="3.0" height="3.0" fill="#2290e0"/><rect x="116.6" y="54.2" width="3.0" height="3.0" fill="#1e40d8"/><rect x="59.4" y="56.8" width="3.0" height="3.0" fill="#7a2ab0"/><rect x="62.0" y="56.8" width="3.0" height="3.0" fill="#3a1470"/><rect x="64.6" y="56.8" width="3.0" height="3.0" fill="#7a2ab0"/><rect x="111.4" y="56.8" width="3.0" height="3.0" fill="#1e40d8"/><rect x="114.0" y="56.8" width="3.0" height="3.0" fill="#1e40d8"/><rect x="116.6" y="56.8" width="3.0" height="3.0" fill="#1e40d8"/><rect x="56.8" y="59.4" width="3.0" height="3.0" fill="#141020"/><rect x="59.4" y="59.4" width="3.0" height="3.0" fill="#3a1470"/><rect x="62.0" y="59.4" width="3.0" height="3.0" fill="#3a1470"/><rect x="64.6" y="59.4" width="3.0" height="3.0" fill="#1e40d8"/><rect x="67.2" y="59.4" width="3.0" height="3.0" fill="#2290e0"/><rect x="108.8" y="59.4" width="3.0" height="3.0" fill="#22b4dc"/><rect x="111.4" y="59.4" width="3.0" height="3.0" fill="#2290e0"/><rect x="114.0" y="59.4" width="3.0" height="3.0" fill="#2290e0"/><rect x="116.6" y="59.4" width="3.0" height="3.0" fill="#7a2ab0"/><rect x="59.4" y="62.0" width="3.0" height="3.0" fill="#2290e0"/><rect x="62.0" y="62.0" width="3.0" height="3.0" fill="#1e40d8"/><rect x="64.6" y="62.0" width="3.0" height="3.0" fill="#2290e0"/><rect x="67.2" y="62.0" width="3.0" height="3.0" fill="#2290e0"/><rect x="69.8" y="62.0" width="3.0" height="3.0" fill="#1e40d8"/><rect x="106.2" y="62.0" width="3.0" height="3.0" fill="#2290e0"/><rect x="108.8" y="62.0" width="3.0" height="3.0" fill="#7a2ab0"/><rect x="111.4" y="62.0" width="3.0" height="3.0" fill="#2290e0"/><rect x="114.0" y="62.0" width="3.0" height="3.0" fill="#1e40d8"/><rect x="62.0" y="64.6" width="3.0" height="3.0" fill="#2290e0"/><rect x="64.6" y="64.6" width="3.0" height="3.0" fill="#22b4dc"/><rect x="67.2" y="64.6" width="3.0" height="3.0" fill="#2290e0"/><rect x="69.8" y="64.6" width="3.0" height="3.0" fill="#7a2ab0"/><rect x="72.4" y="64.6" width="3.0" height="3.0" fill="#7a2ab0"/><rect x="75.0" y="64.6" width="3.0" height="3.0" fill="#2290e0"/><rect x="103.6" y="64.6" width="3.0" height="3.0" fill="#7a2ab0"/><rect x="106.2" y="64.6" width="3.0" height="3.0" fill="#1e40d8"/><rect x="108.8" y="64.6" width="3.0" height="3.0" fill="#1e40d8"/><rect x="111.4" y="64.6" width="3.0" height="3.0" fill="#1e40d8"/><rect x="114.0" y="64.6" width="3.0" height="3.0" fill="#1e40d8"/><rect x="64.6" y="67.2" width="3.0" height="3.0" fill="#2290e0"/><rect x="67.2" y="67.2" width="3.0" height="3.0" fill="#7a2ab0"/><rect x="69.8" y="67.2" width="3.0" height="3.0" fill="#1e40d8"/><rect x="72.4" y="67.2" width="3.0" height="3.0" fill="#7a2ab0"/><rect x="75.0" y="67.2" width="3.0" height="3.0" fill="#1e40d8"/><rect x="77.6" y="67.2" width="3.0" height="3.0" fill="#1e40d8"/><rect x="80.2" y="67.2" width="3.0" height="3.0" fill="#7a2ab0"/><rect x="95.8" y="67.2" width="3.0" height="3.0" fill="#1e40d8"/><rect x="98.4" y="67.2" width="3.0" height="3.0" fill="#1e40d8"/><rect x="101.0" y="67.2" width="3.0" height="3.0" fill="#3a1470"/><rect x="103.6" y="67.2" width="3.0" height="3.0" fill="#2290e0"/><rect x="106.2" y="67.2" width="3.0" height="3.0" fill="#2290e0"/><rect x="108.8" y="67.2" width="3.0" height="3.0" fill="#1e40d8"/><rect x="111.4" y="67.2" width="3.0" height="3.0" fill="#2290e0"/><rect x="64.6" y="69.8" width="3.0" height="3.0" fill="#2290e0"/><rect x="67.2" y="69.8" width="3.0" height="3.0" fill="#2290e0"/><rect x="69.8" y="69.8" width="3.0" height="3.0" fill="#1e40d8"/><rect x="72.4" y="69.8" width="3.0" height="3.0" fill="#2290e0"/><rect x="75.0" y="69.8" width="3.0" height="3.0" fill="#2290e0"/><rect x="77.6" y="69.8" width="3.0" height="3.0" fill="#1e40d8"/><rect x="80.2" y="69.8" width="3.0" height="3.0" fill="#3a1470"/><rect x="82.8" y="69.8" width="3.0" height="3.0" fill="#3a1470"/><rect x="85.4" y="69.8" width="3.0" height="3.0" fill="#7a2ab0"/><rect x="88.0" y="69.8" width="3.0" height="3.0" fill="#2290e0"/><rect x="90.6" y="69.8" width="3.0" height="3.0" fill="#2290e0"/><rect x="93.2" y="69.8" width="3.0" height="3.0" fill="#7a2ab0"/><rect x="95.8" y="69.8" width="3.0" height="3.0" fill="#7a2ab0"/><rect x="98.4" y="69.8" width="3.0" height="3.0" fill="#1e40d8"/><rect x="101.0" y="69.8" width="3.0" height="3.0" fill="#7a2ab0"/><rect x="103.6" y="69.8" width="3.0" height="3.0" fill="#2290e0"/><rect x="106.2" y="69.8" width="3.0" height="3.0" fill="#22b4dc"/><rect x="108.8" y="69.8" width="3.0" height="3.0" fill="#2290e0"/><rect x="67.2" y="72.4" width="3.0" height="3.0" fill="#2290e0"/><rect x="69.8" y="72.4" width="3.0" height="3.0" fill="#1e40d8"/><rect x="72.4" y="72.4" width="3.0" height="3.0" fill="#1e40d8"/><rect x="75.0" y="72.4" width="3.0" height="3.0" fill="#22b4dc"/><rect x="77.6" y="72.4" width="3.0" height="3.0" fill="#7a2ab0"/><rect x="80.2" y="72.4" width="3.0" height="3.0" fill="#141020"/><rect x="82.8" y="72.4" width="3.0" height="3.0" fill="#3a1470"/><rect x="85.4" y="72.4" width="3.0" height="3.0" fill="#7a2ab0"/><rect x="88.0" y="72.4" width="3.0" height="3.0" fill="#22b4dc"/><rect x="90.6" y="72.4" width="3.0" height="3.0" fill="#22b4dc"/><rect x="93.2" y="72.4" width="3.0" height="3.0" fill="#2290e0"/><rect x="95.8" y="72.4" width="3.0" height="3.0" fill="#1e40d8"/><rect x="98.4" y="72.4" width="3.0" height="3.0" fill="#2290e0"/><rect x="101.0" y="72.4" width="3.0" height="3.0" fill="#1e40d8"/><rect x="103.6" y="72.4" width="3.0" height="3.0" fill="#2290e0"/><rect x="106.2" y="72.4" width="3.0" height="3.0" fill="#2290e0"/><rect x="69.8" y="75.0" width="3.0" height="3.0" fill="#2290e0"/><rect x="72.4" y="75.0" width="3.0" height="3.0" fill="#2290e0"/><rect x="75.0" y="75.0" width="3.0" height="3.0" fill="#1e40d8"/><rect x="77.6" y="75.0" width="3.0" height="3.0" fill="#1e40d8"/><rect x="80.2" y="75.0" width="3.0" height="3.0" fill="#3a1470"/><rect x="82.8" y="75.0" width="3.0" height="3.0" fill="#7a2ab0"/><rect x="85.4" y="75.0" width="3.0" height="3.0" fill="#1e40d8"/><rect x="88.0" y="75.0" width="3.0" height="3.0" fill="#1e40d8"/><rect x="90.6" y="75.0" width="3.0" height="3.0" fill="#22bcb0"/><rect x="93.2" y="75.0" width="3.0" height="3.0" fill="#2290e0"/><rect x="95.8" y="75.0" width="3.0" height="3.0" fill="#2290e0"/><rect x="98.4" y="75.0" width="3.0" height="3.0" fill="#22b4dc"/><rect x="101.0" y="75.0" width="3.0" height="3.0" fill="#2290e0"/><rect x="103.6" y="75.0" width="3.0" height="3.0" fill="#2290e0"/><rect x="75.0" y="77.6" width="3.0" height="3.0" fill="#22b4dc"/><rect x="77.6" y="77.6" width="3.0" height="3.0" fill="#2290e0"/><rect x="80.2" y="77.6" width="3.0" height="3.0" fill="#1e40d8"/><rect x="82.8" y="77.6" width="3.0" height="3.0" fill="#7a2ab0"/><rect x="85.4" y="77.6" width="3.0" height="3.0" fill="#7a2ab0"/><rect x="88.0" y="77.6" width="3.0" height="3.0" fill="#2290e0"/><rect x="90.6" y="77.6" width="3.0" height="3.0" fill="#22bcb0"/><rect x="93.2" y="77.6" width="3.0" height="3.0" fill="#22b4dc"/><rect x="95.8" y="77.6" width="3.0" height="3.0" fill="#22b4dc"/><rect x="98.4" y="77.6" width="3.0" height="3.0" fill="#2290e0"/><rect x="101.0" y="77.6" width="3.0" height="3.0" fill="#1e40d8"/><rect x="82.8" y="80.2" width="3.0" height="3.0" fill="#1e40d8"/></g>
</g>
<g transform="translate(286,234)" clip-path="url(#pc)">
<g filter="url(#grain)"><rect x="-5" y="-5" width="140" height="110" fill="#2e2e2e"/><rect x="-5" y="2" width="90" height="10" fill="#5c5c5c"/><rect x="-5" y="-5" width="140" height="7.5" fill="#1a1a1a"/><ellipse cx="6" cy="50" rx="9" ry="44" fill="#686868"/><rect x="-5" y="83" width="140" height="20" fill="#626262"/><path d="M15,15 C9,26 5,40 4,58 C4,72 6,84 9,96" fill="none" stroke="#a4a4a4" stroke-width="2"/><path d="M18,18 C12,30 8.5,46 8.5,62 C8.5,74 11,82 17,88" fill="none" stroke="#383838" stroke-width="3.2"/><path d="M14,10 C18,14 21,17 24,20" fill="none" stroke="#2a2a2a" stroke-width="2.5"/><path d="M11,42 C11,28 18,16 34,14 C52,11 70,11 84,14 C94,22 96,40 96,55 C96,72 90,82 72,83 C55,84 34,84 22,80 C14,74 11,58 11,42 Z" fill="#838383"/><path d="M24,13 C32,10 40,8 56,6" fill="none" stroke="#b4b4b4" stroke-width="3.5"/><ellipse cx="25" cy="14" rx="3" ry="2.5" fill="#c0c0c0"/><path d="M11,60 C12,74 17,80 28,83 C50,86 80,86 110,83" fill="none" stroke="#3c3c3c" stroke-width="1.8"/><path d="M8,90 C30,92 80,92 118,89" fill="none" stroke="#9a9a9a" stroke-width="1.4"/><ellipse cx="86" cy="48" rx="37" ry="37" fill="#6c6c6c"/><ellipse cx="86" cy="49" rx="26" ry="22" fill="#8a8a8a"/><ellipse cx="97" cy="42" rx="6" ry="6" fill="#7a7a7a"/><ellipse cx="127" cy="45" rx="6" ry="45" fill="#2a2a2a"/><ellipse cx="120" cy="93" rx="14" ry="6" fill="#444"/></g>
<g filter="url(#b06)"><rect x="77.6" y="12.6" width="3.0" height="3.0" fill="#2290e0"/><rect x="80.2" y="12.6" width="3.0" height="3.0" fill="#2290e0"/><rect x="82.8" y="12.6" width="3.0" height="3.0" fill="#1e40d8"/><rect x="85.4" y="12.6" width="3.0" height="3.0" fill="#7a2ab0"/><rect x="88.0" y="12.6" width="3.0" height="3.0" fill="#7a2ab0"/><rect x="90.6" y="12.6" width="3.0" height="3.0" fill="#7a2ab0"/><rect x="72.4" y="15.2" width="3.0" height="3.0" fill="#1e40d8"/><rect x="75.0" y="15.2" width="3.0" height="3.0" fill="#22b4dc"/><rect x="77.6" y="15.2" width="3.0" height="3.0" fill="#22b4dc"/><rect x="80.2" y="15.2" width="3.0" height="3.0" fill="#22b4dc"/><rect x="82.8" y="15.2" width="3.0" height="3.0" fill="#2290e0"/><rect x="85.4" y="15.2" width="3.0" height="3.0" fill="#1e40d8"/><rect x="88.0" y="15.2" width="3.0" height="3.0" fill="#1e40d8"/><rect x="90.6" y="15.2" width="3.0" height="3.0" fill="#1e40d8"/><rect x="93.2" y="15.2" width="3.0" height="3.0" fill="#3a1470"/><rect x="95.8" y="15.2" width="3.0" height="3.0" fill="#1e40d8"/><rect x="98.4" y="15.2" width="3.0" height="3.0" fill="#7a2ab0"/><rect x="101.0" y="15.2" width="3.0" height="3.0" fill="#3a1470"/><rect x="67.2" y="17.8" width="3.0" height="3.0" fill="#7a2ab0"/><rect x="69.8" y="17.8" width="3.0" height="3.0" fill="#141020"/><rect x="72.4" y="17.8" width="3.0" height="3.0" fill="#2290e0"/><rect x="75.0" y="17.8" width="3.0" height="3.0" fill="#1e40d8"/><rect x="77.6" y="17.8" width="3.0" height="3.0" fill="#2290e0"/><rect x="80.2" y="17.8" width="3.0" height="3.0" fill="#22b4dc"/><rect x="82.8" y="17.8" width="3.0" height="3.0" fill="#2290e0"/><rect x="85.4" y="17.8" width="3.0" height="3.0" fill="#2290e0"/><rect x="88.0" y="17.8" width="3.0" height="3.0" fill="#1e40d8"/><rect x="90.6" y="17.8" width="3.0" height="3.0" fill="#1e40d8"/><rect x="93.2" y="17.8" width="3.0" height="3.0" fill="#1e40d8"/><rect x="95.8" y="17.8" width="3.0" height="3.0" fill="#1e40d8"/><rect x="98.4" y="17.8" width="3.0" height="3.0" fill="#1e40d8"/><rect x="101.0" y="17.8" width="3.0" height="3.0" fill="#141020"/><rect x="103.6" y="17.8" width="3.0" height="3.0" fill="#7a2ab0"/><rect x="62.0" y="20.4" width="3.0" height="3.0" fill="#141020"/><rect x="64.6" y="20.4" width="3.0" height="3.0" fill="#141020"/><rect x="67.2" y="20.4" width="3.0" height="3.0" fill="#7a2ab0"/><rect x="69.8" y="20.4" width="3.0" height="3.0" fill="#7a2ab0"/><rect x="72.4" y="20.4" width="3.0" height="3.0" fill="#1e40d8"/><rect x="75.0" y="20.4" width="3.0" height="3.0" fill="#1e40d8"/><rect x="77.6" y="20.4" width="3.0" height="3.0" fill="#22b4dc"/><rect x="80.2" y="20.4" width="3.0" height="3.0" fill="#2290e0"/><rect x="82.8" y="20.4" width="3.0" height="3.0" fill="#2290e0"/><rect x="85.4" y="20.4" width="3.0" height="3.0" fill="#1e40d8"/><rect x="88.0" y="20.4" width="3.0" height="3.0" fill="#3a1470"/><rect x="90.6" y="20.4" width="3.0" height="3.0" fill="#3a1470"/><rect x="93.2" y="20.4" width="3.0" height="3.0" fill="#3a1470"/><rect x="95.8" y="20.4" width="3.0" height="3.0" fill="#3a1470"/><rect x="98.4" y="20.4" width="3.0" height="3.0" fill="#7a2ab0"/><rect x="101.0" y="20.4" width="3.0" height="3.0" fill="#2290e0"/><rect x="103.6" y="20.4" width="3.0" height="3.0" fill="#1e40d8"/><rect x="106.2" y="20.4" width="3.0" height="3.0" fill="#3ad830"/><rect x="59.4" y="23.0" width="3.0" height="3.0" fill="#3a1470"/><rect x="62.0" y="23.0" width="3.0" height="3.0" fill="#141020"/><rect x="64.6" y="23.0" width="3.0" height="3.0" fill="#3a1470"/><rect x="67.2" y="23.0" width="3.0" height="3.0" fill="#7a2ab0"/><rect x="69.8" y="23.0" width="3.0" height="3.0" fill="#3a1470"/><rect x="72.4" y="23.0" width="3.0" height="3.0" fill="#7a2ab0"/><rect x="75.0" y="23.0" width="3.0" height="3.0" fill="#3a1470"/><rect x="77.6" y="23.0" width="3.0" height="3.0" fill="#1e40d8"/><rect x="80.2" y="23.0" width="3.0" height="3.0" fill="#22bcb0"/><rect x="82.8" y="23.0" width="3.0" height="3.0" fill="#1e40d8"/><rect x="85.4" y="23.0" width="3.0" height="3.0" fill="#2290e0"/><rect x="88.0" y="23.0" width="3.0" height="3.0" fill="#7a2ab0"/><rect x="90.6" y="23.0" width="3.0" height="3.0" fill="#3a1470"/><rect x="93.2" y="23.0" width="3.0" height="3.0" fill="#1e40d8"/><rect x="95.8" y="23.0" width="3.0" height="3.0" fill="#7a2ab0"/><rect x="98.4" y="23.0" width="3.0" height="3.0" fill="#7a2ab0"/><rect x="101.0" y="23.0" width="3.0" height="3.0" fill="#1e40d8"/><rect x="103.6" y="23.0" width="3.0" height="3.0" fill="#1e40d8"/><rect x="106.2" y="23.0" width="3.0" height="3.0" fill="#18b420"/><rect x="108.8" y="23.0" width="3.0" height="3.0" fill="#18b420"/><rect x="111.4" y="23.0" width="3.0" height="3.0" fill="#22bcb0"/><rect x="56.8" y="25.6" width="3.0" height="3.0" fill="#1e40d8"/><rect x="59.4" y="25.6" width="3.0" height="3.0" fill="#3a1470"/><rect x="62.0" y="25.6" width="3.0" height="3.0" fill="#141020"/><rect x="64.6" y="25.6" width="3.0" height="3.0" fill="#3a1470"/><rect x="67.2" y="25.6" width="3.0" height="3.0" fill="#7a2ab0"/><rect x="69.8" y="25.6" width="3.0" height="3.0" fill="#7a2ab0"/><rect x="72.4" y="25.6" width="3.0" height="3.0" fill="#3a1470"/><rect x="75.0" y="25.6" width="3.0" height="3.0" fill="#7a2ab0"/><rect x="77.6" y="25.6" width="3.0" height="3.0" fill="#22b4dc"/><rect x="80.2" y="25.6" width="3.0" height="3.0" fill="#2290e0"/><rect x="82.8" y="25.6" width="3.0" height="3.0" fill="#3a1470"/><rect x="85.4" y="25.6" width="3.0" height="3.0" fill="#1e40d8"/><rect x="88.0" y="25.6" width="3.0" height="3.0" fill="#7a2ab0"/><rect x="90.6" y="25.6" width="3.0" height="3.0" fill="#2290e0"/><rect x="93.2" y="25.6" width="3.0" height="3.0" fill="#7a2ab0"/><rect x="95.8" y="25.6" width="3.0" height="3.0" fill="#2290e0"/><rect x="98.4" y="25.6" width="3.0" height="3.0" fill="#1e40d8"/><rect x="101.0" y="25.6" width="3.0" height="3.0" fill="#2290e0"/><rect x="103.6" y="25.6" width="3.0" height="3.0" fill="#2290e0"/><rect x="106.2" y="25.6" width="3.0" height="3.0" fill="#22bcb0"/><rect x="108.8" y="25.6" width="3.0" height="3.0" fill="#3ad830"/><rect x="111.4" y="25.6" width="3.0" height="3.0" fill="#2290e0"/><rect x="56.8" y="28.2" width="3.0" height="3.0" fill="#1e40d8"/><rect x="59.4" y="28.2" width="3.0" height="3.0" fill="#3a1470"/><rect x="62.0" y="28.2" width="3.0" height="3.0" fill="#3a1470"/><rect x="64.6" y="28.2" width="3.0" height="3.0" fill="#1e40d8"/><rect x="67.2" y="28.2" width="3.0" height="3.0" fill="#1e40d8"/><rect x="69.8" y="28.2" width="3.0" height="3.0" fill="#7a2ab0"/><rect x="72.4" y="28.2" width="3.0" height="3.0" fill="#1e40d8"/><rect x="98.4" y="28.2" width="3.0" height="3.0" fill="#1e40d8"/><rect x="101.0" y="28.2" width="3.0" height="3.0" fill="#22bcb0"/><rect x="103.6" y="28.2" width="3.0" height="3.0" fill="#2290e0"/><rect x="106.2" y="28.2" width="3.0" height="3.0" fill="#2290e0"/><rect x="108.8" y="28.2" width="3.0" height="3.0" fill="#18b420"/><rect x="111.4" y="28.2" width="3.0" height="3.0" fill="#22bcb0"/><rect x="114.0" y="28.2" width="3.0" height="3.0" fill="#22b4dc"/><rect x="54.2" y="30.8" width="3.0" height="3.0" fill="#7a2ab0"/><rect x="56.8" y="30.8" width="3.0" height="3.0" fill="#7a2ab0"/><rect x="59.4" y="30.8" width="3.0" height="3.0" fill="#141020"/><rect x="62.0" y="30.8" width="3.0" height="3.0" fill="#3a1470"/><rect x="64.6" y="30.8" width="3.0" height="3.0" fill="#7a2ab0"/><rect x="67.2" y="30.8" width="3.0" height="3.0" fill="#3a1470"/><rect x="103.6" y="30.8" width="3.0" height="3.0" fill="#22b4dc"/><rect x="106.2" y="30.8" width="3.0" height="3.0" fill="#1e40d8"/><rect x="108.8" y="30.8" width="3.0" height="3.0" fill="#2290e0"/><rect x="111.4" y="30.8" width="3.0" height="3.0" fill="#2290e0"/><rect x="114.0" y="30.8" width="3.0" height="3.0" fill="#2290e0"/><rect x="51.6" y="33.4" width="3.0" height="3.0" fill="#3a1470"/><rect x="54.2" y="33.4" width="3.0" height="3.0" fill="#3a1470"/><rect x="56.8" y="33.4" width="3.0" height="3.0" fill="#141020"/><rect x="59.4" y="33.4" width="3.0" height="3.0" fill="#3a1470"/><rect x="62.0" y="33.4" width="3.0" height="3.0" fill="#7a2ab0"/><rect x="64.6" y="33.4" width="3.0" height="3.0" fill="#2290e0"/><rect x="106.2" y="33.4" width="3.0" height="3.0" fill="#7a2ab0"/><rect x="108.8" y="33.4" width="3.0" height="3.0" fill="#1e40d8"/><rect x="111.4" y="33.4" width="3.0" height="3.0" fill="#7a2ab0"/><rect x="114.0" y="33.4" width="3.0" height="3.0" fill="#7a2ab0"/><rect x="116.6" y="33.4" width="3.0" height="3.0" fill="#1e40d8"/><rect x="51.6" y="36.0" width="3.0" height="3.0" fill="#7a2ab0"/><rect x="54.2" y="36.0" width="3.0" height="3.0" fill="#7a2ab0"/><rect x="56.8" y="36.0" width="3.0" height="3.0" fill="#7a2ab0"/><rect x="59.4" y="36.0" width="3.0" height="3.0" fill="#1e40d8"/><rect x="62.0" y="36.0" width="3.0" height="3.0" fill="#2290e0"/><rect x="108.8" y="36.0" width="3.0" height="3.0" fill="#7a2ab0"/><rect x="111.4" y="36.0" width="3.0" height="3.0" fill="#3a1470"/><rect x="114.0" y="36.0" width="3.0" height="3.0" fill="#141020"/><rect x="116.6" y="36.0" width="3.0" height="3.0" fill="#7a2ab0"/><rect x="119.2" y="36.0" width="3.0" height="3.0" fill="#18b420"/><rect x="51.6" y="38.6" width="3.0" height="3.0" fill="#7a2ab0"/><rect x="54.2" y="38.6" width="3.0" height="3.0" fill="#7a2ab0"/><rect x="56.8" y="38.6" width="3.0" height="3.0" fill="#2290e0"/><rect x="59.4" y="38.6" width="3.0" height="3.0" fill="#2290e0"/><rect x="111.4" y="38.6" width="3.0" height="3.0" fill="#1e40d8"/><rect x="114.0" y="38.6" width="3.0" height="3.0" fill="#1e40d8"/><rect x="116.6" y="38.6" width="3.0" height="3.0" fill="#1e40d8"/><rect x="51.6" y="41.2" width="3.0" height="3.0" fill="#2290e0"/><rect x="54.2" y="41.2" width="3.0" height="3.0" fill="#1e40d8"/><rect x="56.8" y="41.2" width="3.0" height="3.0" fill="#1e40d8"/><rect x="111.4" y="41.2" width="3.0" height="3.0" fill="#7a2ab0"/><rect x="114.0" y="41.2" width="3.0" height="3.0" fill="#7a2ab0"/><rect x="116.6" y="41.2" width="3.0" height="3.0" fill="#7a2ab0"/><rect x="119.2" y="41.2" width="3.0" height="3.0" fill="#2290e0"/><rect x="51.6" y="43.8" width="3.0" height="3.0" fill="#1e40d8"/><rect x="54.2" y="43.8" width="3.0" height="3.0" fill="#1e40d8"/><rect x="56.8" y="43.8" width="3.0" height="3.0" fill="#141020"/><rect x="114.0" y="43.8" width="3.0" height="3.0" fill="#2290e0"/><rect x="116.6" y="43.8" width="3.0" height="3.0" fill="#22bcb0"/><rect x="119.2" y="43.8" width="3.0" height="3.0" fill="#2290e0"/><rect x="49.0" y="46.4" width="3.0" height="3.0" fill="#141020"/><rect x="51.6" y="46.4" width="3.0" height="3.0" fill="#3a1470"/><rect x="54.2" y="46.4" width="3.0" height="3.0" fill="#3a1470"/><rect x="56.8" y="46.4" width="3.0" height="3.0" fill="#3a1470"/><rect x="114.0" y="46.4" width="3.0" height="3.0" fill="#1e40d8"/><rect x="116.6" y="46.4" width="3.0" height="3.0" fill="#2290e0"/><rect x="119.2" y="46.4" width="3.0" height="3.0" fill="#7a2ab0"/><rect x="51.6" y="49.0" width="3.0" height="3.0" fill="#3a1470"/><rect x="54.2" y="49.0" width="3.0" height="3.0" fill="#141020"/><rect x="56.8" y="49.0" width="3.0" height="3.0" fill="#3a1470"/><rect x="114.0" y="49.0" width="3.0" height="3.0" fill="#2290e0"/><rect x="116.6" y="49.0" width="3.0" height="3.0" fill="#3a1470"/><rect x="119.2" y="49.0" width="3.0" height="3.0" fill="#2290e0"/><rect x="51.6" y="51.6" width="3.0" height="3.0" fill="#141020"/><rect x="54.2" y="51.6" width="3.0" height="3.0" fill="#141020"/><rect x="56.8" y="51.6" width="3.0" height="3.0" fill="#141020"/><rect x="114.0" y="51.6" width="3.0" height="3.0" fill="#22b4dc"/><rect x="116.6" y="51.6" width="3.0" height="3.0" fill="#2290e0"/><rect x="119.2" y="51.6" width="3.0" height="3.0" fill="#22bcb0"/><rect x="51.6" y="54.2" width="3.0" height="3.0" fill="#141020"/><rect x="54.2" y="54.2" width="3.0" height="3.0" fill="#3a1470"/><rect x="56.8" y="54.2" width="3.0" height="3.0" fill="#7a2ab0"/><rect x="114.0" y="54.2" width="3.0" height="3.0" fill="#18b420"/><rect x="116.6" y="54.2" width="3.0" height="3.0" fill="#22b4dc"/><rect x="119.2" y="54.2" width="3.0" height="3.0" fill="#2290e0"/><rect x="51.6" y="56.8" width="3.0" height="3.0" fill="#141020"/><rect x="54.2" y="56.8" width="3.0" height="3.0" fill="#7a2ab0"/><rect x="56.8" y="56.8" width="3.0" height="3.0" fill="#7a2ab0"/><rect x="59.4" y="56.8" width="3.0" height="3.0" fill="#1e40d8"/><rect x="111.4" y="56.8" width="3.0" height="3.0" fill="#22b4dc"/><rect x="114.0" y="56.8" width="3.0" height="3.0" fill="#1e40d8"/><rect x="116.6" y="56.8" width="3.0" height="3.0" fill="#22bcb0"/><rect x="119.2" y="56.8" width="3.0" height="3.0" fill="#2290e0"/><rect x="54.2" y="59.4" width="3.0" height="3.0" fill="#2290e0"/><rect x="56.8" y="59.4" width="3.0" height="3.0" fill="#1e40d8"/><rect x="59.4" y="59.4" width="3.0" height="3.0" fill="#1e40d8"/><rect x="111.4" y="59.4" width="3.0" height="3.0" fill="#2290e0"/><rect x="114.0" y="59.4" width="3.0" height="3.0" fill="#22b4dc"/><rect x="116.6" y="59.4" width="3.0" height="3.0" fill="#2290e0"/><rect x="54.2" y="62.0" width="3.0" height="3.0" fill="#2290e0"/><rect x="56.8" y="62.0" width="3.0" height="3.0" fill="#3a1470"/><rect x="59.4" y="62.0" width="3.0" height="3.0" fill="#1e40d8"/><rect x="62.0" y="62.0" width="3.0" height="3.0" fill="#7a2ab0"/><rect x="108.8" y="62.0" width="3.0" height="3.0" fill="#1e40d8"/><rect x="111.4" y="62.0" width="3.0" height="3.0" fill="#1e40d8"/><rect x="114.0" y="62.0" width="3.0" height="3.0" fill="#22bcb0"/><rect x="116.6" y="62.0" width="3.0" height="3.0" fill="#22bcb0"/><rect x="54.2" y="64.6" width="3.0" height="3.0" fill="#22b4dc"/><rect x="56.8" y="64.6" width="3.0" height="3.0" fill="#7a2ab0"/><rect x="59.4" y="64.6" width="3.0" height="3.0" fill="#7a2ab0"/><rect x="62.0" y="64.6" width="3.0" height="3.0" fill="#3a1470"/><rect x="64.6" y="64.6" width="3.0" height="3.0" fill="#3a1470"/><rect x="67.2" y="64.6" width="3.0" height="3.0" fill="#1e40d8"/><rect x="103.6" y="64.6" width="3.0" height="3.0" fill="#1e40d8"/><rect x="106.2" y="64.6" width="3.0" height="3.0" fill="#7a2ab0"/><rect x="108.8" y="64.6" width="3.0" height="3.0" fill="#2290e0"/><rect x="111.4" y="64.6" width="3.0" height="3.0" fill="#1e40d8"/><rect x="114.0" y="64.6" width="3.0" height="3.0" fill="#22b4dc"/><rect x="56.8" y="67.2" width="3.0" height="3.0" fill="#1e40d8"/><rect x="59.4" y="67.2" width="3.0" height="3.0" fill="#1e40d8"/><rect x="62.0" y="67.2" width="3.0" height="3.0" fill="#3a1470"/><rect x="64.6" y="67.2" width="3.0" height="3.0" fill="#141020"/><rect x="67.2" y="67.2" width="3.0" height="3.0" fill="#1e40d8"/><rect x="69.8" y="67.2" width="3.0" height="3.0" fill="#22b4dc"/><rect x="98.4" y="67.2" width="3.0" height="3.0" fill="#2290e0"/><rect x="101.0" y="67.2" width="3.0" height="3.0" fill="#22bcb0"/><rect x="103.6" y="67.2" width="3.0" height="3.0" fill="#2290e0"/><rect x="106.2" y="67.2" width="3.0" height="3.0" fill="#1e40d8"/><rect x="108.8" y="67.2" width="3.0" height="3.0" fill="#1e40d8"/><rect x="111.4" y="67.2" width="3.0" height="3.0" fill="#1e40d8"/><rect x="59.4" y="69.8" width="3.0" height="3.0" fill="#1e40d8"/><rect x="62.0" y="69.8" width="3.0" height="3.0" fill="#1e40d8"/><rect x="64.6" y="69.8" width="3.0" height="3.0" fill="#3a1470"/><rect x="67.2" y="69.8" width="3.0" height="3.0" fill="#3a1470"/><rect x="69.8" y="69.8" width="3.0" height="3.0" fill="#3a1470"/><rect x="72.4" y="69.8" width="3.0" height="3.0" fill="#2290e0"/><rect x="75.0" y="69.8" width="3.0" height="3.0" fill="#22b4dc"/><rect x="77.6" y="69.8" width="3.0" height="3.0" fill="#22b4dc"/><rect x="80.2" y="69.8" width="3.0" height="3.0" fill="#1e40d8"/><rect x="85.4" y="69.8" width="3.0" height="3.0" fill="#2290e0"/><rect x="90.6" y="69.8" width="3.0" height="3.0" fill="#7a2ab0"/><rect x="93.2" y="69.8" width="3.0" height="3.0" fill="#7a2ab0"/><rect x="95.8" y="69.8" width="3.0" height="3.0" fill="#2290e0"/><rect x="98.4" y="69.8" width="3.0" height="3.0" fill="#22bcb0"/><rect x="101.0" y="69.8" width="3.0" height="3.0" fill="#2290e0"/><rect x="103.6" y="69.8" width="3.0" height="3.0" fill="#22bcb0"/><rect x="106.2" y="69.8" width="3.0" height="3.0" fill="#22b4dc"/><rect x="108.8" y="69.8" width="3.0" height="3.0" fill="#2290e0"/><rect x="62.0" y="72.4" width="3.0" height="3.0" fill="#3a1470"/><rect x="64.6" y="72.4" width="3.0" height="3.0" fill="#7a2ab0"/><rect x="67.2" y="72.4" width="3.0" height="3.0" fill="#7a2ab0"/><rect x="69.8" y="72.4" width="3.0" height="3.0" fill="#7a2ab0"/><rect x="72.4" y="72.4" width="3.0" height="3.0" fill="#2290e0"/><rect x="75.0" y="72.4" width="3.0" height="3.0" fill="#22bcb0"/><rect x="77.6" y="72.4" width="3.0" height="3.0" fill="#22b4dc"/><rect x="80.2" y="72.4" width="3.0" height="3.0" fill="#18b420"/><rect x="82.8" y="72.4" width="3.0" height="3.0" fill="#2290e0"/><rect x="85.4" y="72.4" width="3.0" height="3.0" fill="#1e40d8"/><rect x="88.0" y="72.4" width="3.0" height="3.0" fill="#1e40d8"/><rect x="90.6" y="72.4" width="3.0" height="3.0" fill="#2290e0"/><rect x="93.2" y="72.4" width="3.0" height="3.0" fill="#7a2ab0"/><rect x="95.8" y="72.4" width="3.0" height="3.0" fill="#22b4dc"/><rect x="98.4" y="72.4" width="3.0" height="3.0" fill="#2290e0"/><rect x="101.0" y="72.4" width="3.0" height="3.0" fill="#1e40d8"/><rect x="103.6" y="72.4" width="3.0" height="3.0" fill="#2290e0"/><rect x="106.2" y="72.4" width="3.0" height="3.0" fill="#2290e0"/><rect x="108.8" y="72.4" width="3.0" height="3.0" fill="#2290e0"/><rect x="64.6" y="75.0" width="3.0" height="3.0" fill="#1e40d8"/><rect x="67.2" y="75.0" width="3.0" height="3.0" fill="#7a2ab0"/><rect x="69.8" y="75.0" width="3.0" height="3.0" fill="#3a1470"/><rect x="72.4" y="75.0" width="3.0" height="3.0" fill="#2290e0"/><rect x="75.0" y="75.0" width="3.0" height="3.0" fill="#22b4dc"/><rect x="77.6" y="75.0" width="3.0" height="3.0" fill="#22bcb0"/><rect x="80.2" y="75.0" width="3.0" height="3.0" fill="#22b4dc"/><rect x="82.8" y="75.0" width="3.0" height="3.0" fill="#2290e0"/><rect x="85.4" y="75.0" width="3.0" height="3.0" fill="#1e40d8"/><rect x="88.0" y="75.0" width="3.0" height="3.0" fill="#1e40d8"/><rect x="90.6" y="75.0" width="3.0" height="3.0" fill="#2290e0"/><rect x="93.2" y="75.0" width="3.0" height="3.0" fill="#7a2ab0"/><rect x="95.8" y="75.0" width="3.0" height="3.0" fill="#2290e0"/><rect x="98.4" y="75.0" width="3.0" height="3.0" fill="#7a2ab0"/><rect x="101.0" y="75.0" width="3.0" height="3.0" fill="#22b4dc"/><rect x="103.6" y="75.0" width="3.0" height="3.0" fill="#2290e0"/><rect x="106.2" y="75.0" width="3.0" height="3.0" fill="#1e40d8"/><rect x="69.8" y="77.6" width="3.0" height="3.0" fill="#2290e0"/><rect x="72.4" y="77.6" width="3.0" height="3.0" fill="#22b4dc"/><rect x="75.0" y="77.6" width="3.0" height="3.0" fill="#22b4dc"/><rect x="77.6" y="77.6" width="3.0" height="3.0" fill="#2290e0"/><rect x="80.2" y="77.6" width="3.0" height="3.0" fill="#22b4dc"/><rect x="82.8" y="77.6" width="3.0" height="3.0" fill="#2290e0"/><rect x="85.4" y="77.6" width="3.0" height="3.0" fill="#1e40d8"/><rect x="88.0" y="77.6" width="3.0" height="3.0" fill="#1e40d8"/><rect x="90.6" y="77.6" width="3.0" height="3.0" fill="#2290e0"/><rect x="93.2" y="77.6" width="3.0" height="3.0" fill="#2290e0"/><rect x="95.8" y="77.6" width="3.0" height="3.0" fill="#2290e0"/><rect x="98.4" y="77.6" width="3.0" height="3.0" fill="#7a2ab0"/><rect x="101.0" y="77.6" width="3.0" height="3.0" fill="#2290e0"/><rect x="75.0" y="80.2" width="3.0" height="3.0" fill="#22bcb0"/><rect x="77.6" y="80.2" width="3.0" height="3.0" fill="#2290e0"/><rect x="80.2" y="80.2" width="3.0" height="3.0" fill="#3a1470"/><rect x="82.8" y="80.2" width="3.0" height="3.0" fill="#7a2ab0"/><rect x="85.4" y="80.2" width="3.0" height="3.0" fill="#7a2ab0"/><rect x="88.0" y="80.2" width="3.0" height="3.0" fill="#1e40d8"/><rect x="90.6" y="80.2" width="3.0" height="3.0" fill="#2290e0"/><rect x="93.2" y="80.2" width="3.0" height="3.0" fill="#1e40d8"/><rect x="95.8" y="80.2" width="3.0" height="3.0" fill="#7a2ab0"/></g>
</g>
<path d="M62.3,181.8 A37.5,37.5 0 0 1 122.5,150.4 L107.9,164.9 A13.4,13.4 0 0 0 86.4,181.0 L86.6,181.8 Z" fill="none" stroke="#fff" stroke-width="1.7" stroke-linejoin="miter"/>
<path d="M109.0,205.0 A30.1,30.1 0 0 1 63.0,186.9" fill="none" stroke="#fff" stroke-width="2.1" stroke-dasharray="3.2,2.4"/>
<path d="M186.3,177.0 A43.6,43.6 0 0 1 260.3,149.5 L240.0,160.7 A21.5,21.5 0 0 0 205.3,177.0 Z" fill="none" stroke="#fff" stroke-width="1.7" stroke-linejoin="miter"/>
<path d="M232.3,208.3 A30.7,30.7 0 0 1 187.0,181.3" fill="none" stroke="#fff" stroke-width="2.1" stroke-dasharray="3.2,2.4"/>
<path d="M323.3,177.9 A44.0,44.0 0 0 1 400.9,148.6 L382.8,154.6 A22.8,22.8 0 0 0 345.6,177.9 Z" fill="none" stroke="#fff" stroke-width="1.7" stroke-linejoin="miter"/>
<path d="M376.6,210.9 A40.3,40.3 0 0 1 323.3,182.5" fill="none" stroke="#fff" stroke-width="2.1" stroke-dasharray="3.2,2.4"/>
<path d="M132.6,302.6 A41.3,41.3 0 0 1 78.8,311.9 L90.5,298.2 A18,18 0 0 0 117.4,294.3 Z" fill="none" stroke="#fff" stroke-width="1.7" stroke-linejoin="miter"/>
<path d="M67.0,276.3 A33.9,33.9 0 0 1 124.2,254.3" fill="none" stroke="#fff" stroke-width="2.1" stroke-dasharray="3.2,2.4"/>
<path d="M268.5,304.1 A39.1,39.1 0 0 1 214.8,308.5 L226.5,296.5 A18.7,18.7 0 0 0 253.9,294.6 Z" fill="none" stroke="#fff" stroke-width="1.7" stroke-linejoin="miter"/>
<path d="M204.3,277.6 A34.4,34.4 0 0 1 262.0,256.0" fill="none" stroke="#fff" stroke-width="2.1" stroke-dasharray="3.2,2.4"/>
<path d="M400.4,307.9 A37.5,37.5 0 0 1 347.8,311.8 L358.4,300.1 A18,18 0 0 0 385.8,298.6 Z" fill="none" stroke="#fff" stroke-width="1.7" stroke-linejoin="miter"/>
<path d="M333.5,277.0 A36.9,36.9 0 0 1 395.0,254.8" fill="none" stroke="#fff" stroke-width="2.1" stroke-dasharray="3.2,2.4"/>
<rect x="25" y="339" width="103" height="8.3" fill="url(#cb)"/>
<text x="27.8" y="356.6" font-family='"Liberation Sans", sans-serif' font-size="9.6" text-anchor="middle" fill="#222" textLength="21.2" lengthAdjust="spacingAndGlyphs">-20%</text>
<text x="68.7" y="356.6" font-family='"Liberation Sans", sans-serif' font-size="9.6" text-anchor="middle" fill="#222" textLength="12.6" lengthAdjust="spacingAndGlyphs">0%</text>
<text x="124.8" y="356.6" font-family='"Liberation Sans", sans-serif' font-size="9.6" text-anchor="middle" fill="#222" textLength="18.0" lengthAdjust="spacingAndGlyphs">30%</text>
<rect x="420.8" y="18.8" width="354.4" height="312.4" fill="#fff" stroke="#a8a8a8" stroke-width="1.6"/>
<path d="M476.00,188.40 C477.65,184.67 482.57,171.78 485.92,166.01 C489.27,160.24 492.71,157.23 496.10,153.76 C499.49,150.30 502.93,147.49 506.28,145.23 C509.63,142.97 512.85,141.71 516.20,140.21 C519.55,138.70 523.30,137.28 526.38,136.19 C529.47,135.10 531.74,134.69 534.69,133.68 C537.64,132.68 540.45,131.17 544.07,130.17 C547.69,129.16 551.75,128.33 556.40,127.66 C561.05,126.99 564.71,126.70 571.94,126.15 C579.18,125.61 589.54,124.90 599.82,124.40 C610.09,123.89 622.37,124.52 633.58,123.14 C644.80,121.76 659.36,117.95 667.08,116.11 C674.81,114.27 675.62,113.52 679.95,112.10 C684.28,110.67 688.66,109.59 693.08,107.58 C697.50,105.57 702.01,103.48 706.48,100.05 C710.95,96.62 715.41,91.43 719.88,87.00 C724.35,82.56 729.26,77.46 733.28,73.44 C737.30,69.43 742.21,64.66 744.00,62.90 L744.00,143.72 C742.21,142.97 737.30,140.21 733.28,139.20 C729.26,138.20 724.35,137.95 719.88,137.70 C715.41,137.45 710.95,137.53 706.48,137.70 C702.01,137.87 697.50,138.28 693.08,138.70 C688.66,139.12 684.28,139.79 679.95,140.21 C675.62,140.63 674.81,140.88 667.08,141.21 C659.36,141.55 644.80,141.88 633.58,142.22 C622.37,142.55 610.09,142.89 599.82,143.22 C589.54,143.55 579.18,143.89 571.94,144.22 C564.71,144.56 561.05,144.81 556.40,145.23 C551.75,145.65 547.69,146.06 544.07,146.73 C540.45,147.40 537.64,148.41 534.69,149.24 C531.74,150.08 529.47,150.62 526.38,151.75 C523.30,152.88 519.55,154.31 516.20,156.02 C512.85,157.73 509.63,159.78 506.28,161.99 C502.93,164.21 499.49,166.55 496.10,169.32 C492.71,172.09 489.27,175.43 485.92,178.61 C482.57,181.79 477.65,186.77 476.00,188.40 Z" fill="url(#stip)" stroke="#d8d8d8" stroke-width="0.5"/>
<path d="M476.00,188.40 C477.65,185.64 482.57,176.40 485.92,171.83 C489.27,167.27 492.71,164.00 496.10,160.99 C499.49,157.98 502.93,155.86 506.28,153.76 C509.63,151.66 512.85,150.15 516.20,148.39 C519.55,146.63 523.30,144.50 526.38,143.22 C529.47,141.94 531.74,141.63 534.69,140.71 C537.64,139.79 540.45,138.53 544.07,137.70 C547.69,136.86 551.75,136.23 556.40,135.69 C561.05,135.15 564.71,134.77 571.94,134.44 C579.18,134.10 589.54,134.10 599.82,133.68 C610.09,133.26 622.37,132.93 633.58,131.93 C644.80,130.92 659.36,128.70 667.08,127.66 C674.81,126.61 675.62,126.57 679.95,125.65 C684.28,124.73 688.66,123.39 693.08,122.14 C697.50,120.88 702.01,119.63 706.48,118.12 C710.95,116.61 715.41,114.77 719.88,113.10 C724.35,111.43 729.26,109.59 733.28,108.08 C737.30,106.57 742.21,104.73 744.00,104.06" fill="none" stroke="#c4ced1" stroke-width="3.2" stroke-linecap="round"/>
<line x1="476.0" y1="188.4" x2="744.0" y2="188.4" stroke="#222" stroke-width="1" stroke-dasharray="1.2,1.6"/>
<line x1="476" y1="37.8" x2="476" y2="295" stroke="#333" stroke-width="1.8"/>
<line x1="475.1" y1="289" x2="744.2" y2="289" stroke="#3c3c5e" stroke-width="1.8"/>
<line x1="470" y1="37.8" x2="476" y2="37.8" stroke="#333" stroke-width="1.8"/>
<text x="468.6" y="41.7" font-family='"Liberation Sans", sans-serif' font-size="10.8" text-anchor="end" fill="#222">30</text>
<line x1="470" y1="88.0" x2="476" y2="88.0" stroke="#333" stroke-width="1.8"/>
<text x="468.6" y="91.9" font-family='"Liberation Sans", sans-serif' font-size="10.8" text-anchor="end" fill="#222">20</text>
<line x1="470" y1="138.2" x2="476" y2="138.2" stroke="#333" stroke-width="1.8"/>
<text x="468.6" y="142.1" font-family='"Liberation Sans", sans-serif' font-size="10.8" text-anchor="end" fill="#222">10</text>
<line x1="470" y1="188.4" x2="476" y2="188.4" stroke="#333" stroke-width="1.8"/>
<text x="468.6" y="192.3" font-family='"Liberation Sans", sans-serif' font-size="10.8" text-anchor="end" fill="#222">0</text>
<line x1="470" y1="238.6" x2="476" y2="238.6" stroke="#333" stroke-width="1.8"/>
<text x="468.6" y="242.5" font-family='"Liberation Sans", sans-serif' font-size="10.8" text-anchor="end" fill="#222">-10</text>
<line x1="470" y1="288.8" x2="476" y2="288.8" stroke="#333" stroke-width="1.8"/>
<text x="468.6" y="292.7" font-family='"Liberation Sans", sans-serif' font-size="10.8" text-anchor="end" fill="#222">-20</text>
<line x1="610.0" y1="289" x2="610.0" y2="295" stroke="#3c3c5e" stroke-width="1.8"/>
<line x1="744.0" y1="289" x2="744.0" y2="295" stroke="#3c3c5e" stroke-width="1.8"/>
<text x="476.0" y="305.4" font-family='"Liberation Sans", sans-serif' font-size="10.8" text-anchor="middle" fill="#222">0</text>
<text x="610.0" y="305.4" font-family='"Liberation Sans", sans-serif' font-size="10.8" text-anchor="middle" fill="#222">50</text>
<text x="744.0" y="305.4" font-family='"Liberation Sans", sans-serif' font-size="10.8" text-anchor="middle" fill="#222">100</text>
<text x="610.2" y="320.3" font-family='"Liberation Sans", sans-serif' font-size="11.6" font-weight="bold" text-anchor="middle" fill="#111">Time (s)</text>
<text transform="translate(443.5,166) rotate(-90)" font-family='"Liberation Sans", sans-serif' font-size="11.7" font-weight="bold" text-anchor="middle" fill="#111">Oxygenation Response (%)</text>
<polyline points="476,188.4 520.1,204.2 558.2,229.4 594.7,229.4 629.4,242.5 661.5,236 691.4,244 712.4,244.9" fill="none" stroke="#6a5a90" stroke-width="1" stroke-dasharray="3,2"/>
<circle cx="520.1" cy="204.2" r="2.3" fill="#24107a"/>
<circle cx="558.2" cy="229.4" r="2.3" fill="#24107a"/>
<circle cx="594.7" cy="229.4" r="2.3" fill="#24107a"/>
<circle cx="629.4" cy="242.5" r="2.3" fill="#24107a"/>
<circle cx="661.5" cy="236" r="2.3" fill="#24107a"/>
<circle cx="691.4" cy="244" r="2.3" fill="#24107a"/>
<circle cx="712.4" cy="244.9" r="2.3" fill="#24107a"/>
<polyline points="476,188.4 507.3,169.6 536.6,133.8 569.5,141.4 616,148.9" fill="none" stroke="#2a8a2a" stroke-width="1.5"/>
<rect x="504.2" y="166.5" width="6.2" height="6.2" rx="1.2" fill="#1e8a2a"/>
<rect x="506.1" y="168.6" width="2.4" height="2" fill="#7ac07a"/>
<rect x="533.5" y="130.70000000000002" width="6.2" height="6.2" rx="1.2" fill="#1e8a2a"/>
<rect x="535.4" y="132.8" width="2.4" height="2" fill="#7ac07a"/>
<rect x="566.4" y="138.3" width="6.2" height="6.2" rx="1.2" fill="#1e8a2a"/>
<rect x="568.3" y="140.4" width="2.4" height="2" fill="#7ac07a"/>
<rect x="612.9" y="145.8" width="6.2" height="6.2" rx="1.2" fill="#1e8a2a"/>
<rect x="614.8" y="147.9" width="2.4" height="2" fill="#7ac07a"/>
<polyline points="476,188.4 507.5,207.5 536.8,203.4 569,213.4 615.8,193.4" fill="none" stroke="#2a6a98" stroke-width="1.5"/>
<rect x="504.4" y="204.4" width="6.2" height="6.2" rx="1.2" fill="#1a5a98"/>
<rect x="506.3" y="206.5" width="2.4" height="2" fill="#7aa8d0"/>
<rect x="533.6999999999999" y="200.3" width="6.2" height="6.2" rx="1.2" fill="#1a5a98"/>
<rect x="535.5999999999999" y="202.4" width="2.4" height="2" fill="#7aa8d0"/>
<rect x="565.9" y="210.3" width="6.2" height="6.2" rx="1.2" fill="#1a5a98"/>
<rect x="567.8" y="212.4" width="2.4" height="2" fill="#7aa8d0"/>
<rect x="612.6999999999999" y="190.3" width="6.2" height="6.2" rx="1.2" fill="#1a5a98"/>
<rect x="614.5999999999999" y="192.4" width="2.4" height="2" fill="#7aa8d0"/>
<circle cx="476.5" cy="188.4" r="3.4" fill="#1a5a98"/>
<text x="624.4" y="155.5" font-family='"Liberation Sans", sans-serif' font-size="10.6" fill="#2a8a2a">B: Remote Territory</text>
<text x="624.4" y="200.1" font-family='"Liberation Sans", sans-serif' font-size="10.6" fill="#2a6a98">B: Stenosed Territory</text>
<text x="670.6" y="261.6" font-family='"Liberation Sans", sans-serif' font-size="10.6" fill="#3a2a7a">C: Global</text>
</svg>
</body></html>
